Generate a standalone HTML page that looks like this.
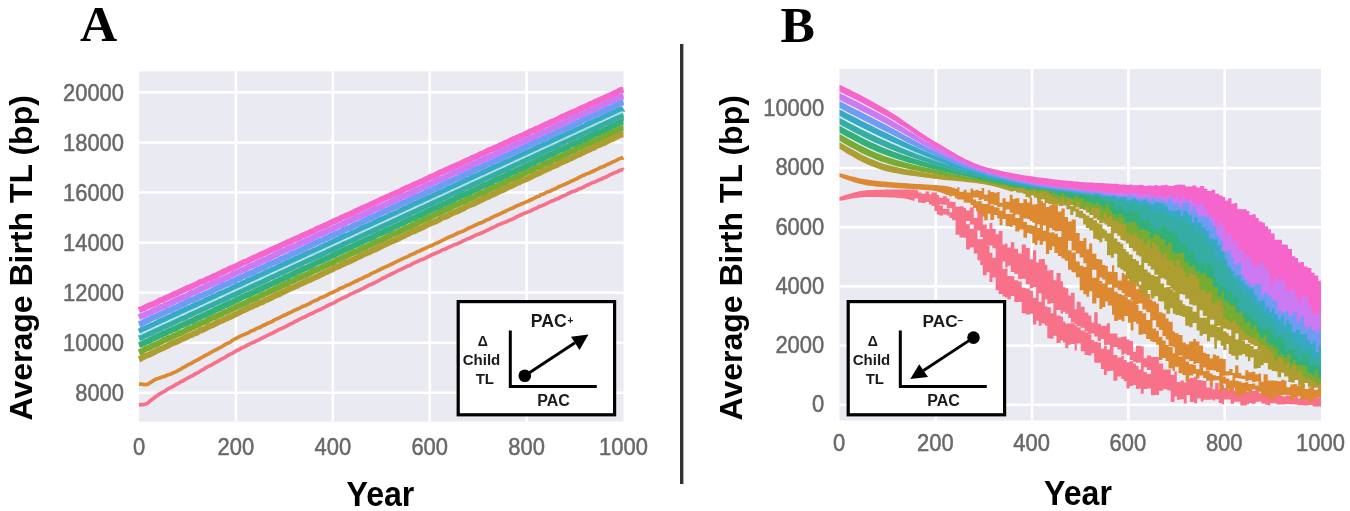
<!DOCTYPE html>
<html><head><meta charset="utf-8"><style>
html,body{margin:0;padding:0;background:#fff;}
body{width:1350px;height:511px;overflow:hidden;}
svg{display:block;filter:blur(0.7px);}
.tk{font-family:"Liberation Sans",sans-serif;font-size:23.6px;fill:#686868;stroke:#686868;stroke-width:0.5px;}
.lab{font-family:"Liberation Sans",sans-serif;font-weight:bold;fill:#000;}
.pl{font-family:"Liberation Serif",serif;font-weight:bold;font-size:51.5px;fill:#000;}
.ib{font-family:"Liberation Sans",sans-serif;font-weight:bold;fill:#1a1a1a;}
</style></head><body>
<svg width="1350" height="511" viewBox="0 0 1350 511">
<rect width="1350" height="511" fill="#fff"/>
<text x="80" y="41.2" class="pl">A</text>
<text x="780.5" y="41.6" class="pl">B</text>
<rect x="139.0" y="71.3" width="484.5" height="350.2" fill="#eaeaf2"/>
<g stroke="#fff" stroke-width="2.6"><line x1="139.0" x2="623.5" y1="392.8" y2="392.8"/><line x1="139.0" x2="623.5" y1="342.7" y2="342.7"/><line x1="139.0" x2="623.5" y1="292.6" y2="292.6"/><line x1="139.0" x2="623.5" y1="242.6" y2="242.6"/><line x1="139.0" x2="623.5" y1="192.5" y2="192.5"/><line x1="139.0" x2="623.5" y1="142.5" y2="142.5"/><line x1="139.0" x2="623.5" y1="92.4" y2="92.4"/><line x1="235.9" x2="235.9" y1="71.3" y2="421.5"/><line x1="332.8" x2="332.8" y1="71.3" y2="421.5"/><line x1="429.7" x2="429.7" y1="71.3" y2="421.5"/><line x1="526.6" x2="526.6" y1="71.3" y2="421.5"/></g>
<g><path d="M139.0,404.9 L141.0,404.6 L143.0,404.7 L145.0,404.2 L147.0,403.6 L149.0,401.9 L151.0,400.1 L153.0,398.8 L155.0,397.2 L157.0,396.0 L159.0,394.4 L161.0,393.1 L163.0,392.1 L165.0,391.1 L167.0,389.4 L169.0,388.3 L171.0,387.3 L173.0,386.4 L175.0,385.1 L177.0,383.9 L179.0,383.1 L181.0,381.5 L183.0,380.9 L185.0,379.5 L187.0,378.4 L189.0,377.3 L191.0,376.3 L193.0,375.5 L195.0,374.0 L197.0,373.1 L199.0,372.0 L201.0,370.7 L203.0,369.7 L205.0,368.3 L207.0,367.1 L209.0,366.1 L211.0,365.3 L213.0,364.0 L215.0,362.8 L217.0,361.8 L219.0,360.6 L221.0,359.4 L223.0,358.5 L225.0,357.4 L227.0,356.0 L229.0,355.0 L231.0,353.9 L233.0,352.9 L235.0,351.7 L237.0,350.3 L239.0,349.7 L241.0,348.2 L243.0,347.4 L245.0,346.6 L247.0,345.3 L249.0,344.5 L251.0,343.2 L253.0,342.6 L255.0,341.7 L257.0,340.6 L259.0,339.8 L261.0,338.4 L263.0,337.7 L265.0,336.6 L267.0,335.6 L269.0,334.6 L271.0,333.8 L273.0,332.9 L275.0,331.6 L277.0,330.8 L279.0,329.4 L281.0,328.8 L283.0,327.8 L285.0,327.0 L287.0,325.9 L289.0,324.6 L291.0,323.7 L293.0,322.9 L295.0,321.5 L297.0,320.8 L299.0,319.6 L301.0,318.6 L303.0,317.6 L305.0,317.0 L307.0,315.6 L309.0,314.7 L311.0,313.8 L313.0,313.1 L315.0,311.7 L317.0,310.9 L319.0,310.0 L321.0,309.2 L323.0,308.2 L325.0,307.2 L327.0,305.9 L329.0,305.0 L331.0,303.9 L333.0,303.3 L335.0,302.3 L337.0,300.9 L339.0,299.9 L341.0,298.9 L343.0,298.0 L345.0,297.1 L347.0,296.2 L349.0,295.0 L351.0,293.9 L353.0,293.1 L355.0,292.1 L357.0,291.2 L359.0,290.5 L361.0,289.3 L363.0,288.3 L365.0,287.3 L367.0,286.4 L369.0,285.0 L371.0,284.5 L373.0,283.5 L375.0,282.6 L377.0,281.5 L379.0,280.3 L381.0,279.3 L383.0,278.1 L385.0,277.5 L387.0,276.1 L389.0,275.2 L391.0,274.3 L393.0,273.2 L395.0,272.4 L397.0,271.2 L399.0,270.2 L401.0,269.3 L403.0,268.3 L405.0,267.5 L407.0,266.3 L409.0,265.8 L411.0,264.6 L413.0,263.4 L415.0,262.5 L417.0,261.6 L419.0,260.7 L421.0,259.7 L423.0,259.2 L425.0,258.4 L427.0,257.2 L429.0,256.3 L431.0,255.2 L433.0,254.3 L435.0,253.5 L437.0,252.6 L439.0,252.0 L441.0,250.7 L443.0,249.7 L445.0,249.4 L447.0,248.2 L449.0,247.1 L451.0,246.5 L453.0,245.2 L455.0,244.6 L457.0,244.0 L459.0,243.0 L461.0,242.1 L463.0,240.9 L465.0,240.1 L467.0,239.0 L469.0,238.5 L471.0,237.5 L473.0,236.7 L475.0,235.5 L477.0,234.6 L479.0,234.0 L481.0,233.2 L483.0,232.3 L485.0,231.3 L487.0,230.4 L489.0,229.5 L491.0,228.3 L493.0,227.6 L495.0,226.6 L497.0,225.5 L499.0,224.6 L501.0,223.8 L503.0,222.9 L505.0,222.3 L507.0,221.5 L509.0,220.3 L511.0,219.7 L513.0,218.9 L515.0,217.9 L517.0,216.7 L519.0,215.7 L521.0,214.8 L523.0,213.9 L525.0,213.0 L527.0,212.4 L529.0,211.6 L531.0,210.7 L533.0,209.6 L535.0,208.8 L537.0,208.0 L539.0,206.6 L541.0,206.1 L543.0,205.3 L545.0,204.4 L547.0,203.4 L549.0,202.4 L551.0,201.3 L553.0,200.8 L555.0,199.6 L557.0,199.0 L559.0,198.2 L561.0,196.9 L563.0,196.0 L565.0,195.5 L567.0,194.4 L569.0,193.2 L571.0,192.3 L573.0,191.4 L575.0,191.0 L577.0,190.0 L579.0,188.7 L581.0,188.2 L583.0,187.4 L585.0,186.3 L587.0,185.2 L589.0,184.5 L591.0,183.3 L593.0,182.3 L595.0,182.0 L597.0,180.9 L599.0,179.9 L601.0,179.3 L603.0,178.1 L605.0,177.5 L607.0,176.5 L609.0,175.3 L611.0,174.4 L613.0,173.5 L615.0,172.6 L617.0,171.9 L619.0,170.8 L621.0,170.0 L623.0,169.4 L623.5,169.8" fill="none" stroke="#f77189" stroke-width="3.70" stroke-linejoin="round"/><path d="M139.0,384.0 L141.0,384.2 L143.0,384.4 L145.0,384.6 L147.0,384.5 L149.0,383.6 L151.0,382.1 L153.0,380.9 L155.0,379.7 L157.0,378.7 L159.0,378.3 L161.0,377.4 L163.0,376.6 L165.0,376.4 L167.0,375.2 L169.0,374.6 L171.0,373.9 L173.0,373.0 L175.0,372.1 L177.0,371.1 L179.0,370.0 L181.0,369.1 L183.0,367.6 L185.0,366.7 L187.0,365.4 L189.0,364.4 L191.0,363.6 L193.0,362.3 L195.0,361.2 L197.0,360.2 L199.0,359.2 L201.0,357.8 L203.0,356.8 L205.0,355.7 L207.0,354.6 L209.0,353.6 L211.0,352.3 L213.0,351.3 L215.0,350.2 L217.0,349.3 L219.0,348.1 L221.0,347.1 L223.0,346.0 L225.0,344.5 L227.0,343.6 L229.0,342.7 L231.0,341.6 L233.0,340.0 L235.0,338.9 L237.0,338.0 L239.0,336.8 L241.0,335.9 L243.0,334.9 L245.0,334.3 L247.0,333.4 L249.0,332.5 L251.0,331.1 L253.0,330.5 L255.0,329.5 L257.0,328.2 L259.0,327.7 L261.0,326.8 L263.0,325.4 L265.0,324.9 L267.0,323.6 L269.0,322.7 L271.0,322.0 L273.0,321.0 L275.0,319.6 L277.0,318.8 L279.0,317.9 L281.0,316.9 L283.0,315.8 L285.0,315.0 L287.0,314.2 L289.0,312.9 L291.0,312.2 L293.0,311.2 L295.0,310.0 L297.0,309.2 L299.0,308.5 L301.0,307.4 L303.0,306.2 L305.0,305.8 L307.0,304.7 L309.0,303.9 L311.0,302.4 L313.0,301.6 L315.0,300.5 L317.0,300.0 L319.0,298.7 L321.0,297.7 L323.0,296.9 L325.0,296.2 L327.0,295.2 L329.0,293.9 L331.0,292.9 L333.0,292.4 L335.0,291.2 L337.0,290.4 L339.0,289.0 L341.0,288.1 L343.0,287.5 L345.0,286.4 L347.0,285.2 L349.0,284.8 L351.0,283.6 L353.0,282.8 L355.0,281.4 L357.0,280.9 L359.0,279.5 L361.0,279.0 L363.0,277.8 L365.0,276.8 L367.0,275.9 L369.0,275.2 L371.0,273.9 L373.0,272.8 L375.0,272.1 L377.0,271.0 L379.0,270.0 L381.0,269.0 L383.0,268.0 L385.0,267.1 L387.0,266.3 L389.0,265.3 L391.0,264.6 L393.0,263.4 L395.0,262.5 L397.0,261.4 L399.0,260.5 L401.0,259.4 L403.0,258.6 L405.0,257.5 L407.0,257.0 L409.0,255.9 L411.0,254.7 L413.0,253.9 L415.0,253.3 L417.0,251.8 L419.0,251.4 L421.0,250.2 L423.0,249.3 L425.0,248.6 L427.0,247.4 L429.0,246.6 L431.0,245.8 L433.0,245.0 L435.0,243.7 L437.0,243.1 L439.0,242.1 L441.0,241.1 L443.0,240.1 L445.0,239.1 L447.0,238.0 L449.0,237.1 L451.0,236.2 L453.0,235.7 L455.0,234.5 L457.0,233.5 L459.0,232.5 L461.0,232.0 L463.0,231.1 L465.0,230.1 L467.0,229.0 L469.0,228.0 L471.0,227.1 L473.0,226.3 L475.0,225.2 L477.0,224.5 L479.0,223.4 L481.0,222.9 L483.0,222.0 L485.0,220.8 L487.0,219.7 L489.0,219.2 L491.0,217.9 L493.0,217.0 L495.0,215.9 L497.0,215.2 L499.0,214.4 L501.0,213.4 L503.0,212.3 L505.0,211.6 L507.0,210.4 L509.0,209.6 L511.0,208.6 L513.0,207.9 L515.0,206.7 L517.0,205.8 L519.0,205.1 L521.0,204.1 L523.0,203.4 L525.0,202.4 L527.0,201.6 L529.0,200.7 L531.0,199.8 L533.0,199.0 L535.0,197.7 L537.0,196.8 L539.0,196.3 L541.0,194.8 L543.0,194.3 L545.0,193.3 L547.0,192.0 L549.0,191.6 L551.0,190.7 L553.0,189.6 L555.0,188.8 L557.0,187.9 L559.0,186.6 L561.0,185.9 L563.0,184.9 L565.0,184.2 L567.0,183.3 L569.0,182.4 L571.0,181.3 L573.0,180.6 L575.0,179.5 L577.0,178.6 L579.0,177.4 L581.0,176.4 L583.0,175.5 L585.0,174.7 L587.0,173.7 L589.0,173.2 L591.0,172.1 L593.0,171.2 L595.0,170.3 L597.0,169.4 L599.0,168.4 L601.0,167.2 L603.0,166.7 L605.0,165.8 L607.0,164.7 L609.0,163.8 L611.0,163.0 L613.0,161.7 L615.0,161.2 L617.0,160.0 L619.0,158.9 L621.0,158.1 L623.0,157.9 L623.5,157.6" fill="none" stroke="#dc8932" stroke-width="3.70" stroke-linejoin="round"/><path d="M139.0,359.3 L141.0,358.6 L143.0,357.3 L145.0,356.3 L147.0,355.5 L149.0,354.7 L151.0,353.8 L153.0,352.8 L155.0,351.8 L157.0,350.6 L159.0,349.7 L161.0,348.8 L163.0,348.2 L165.0,347.0 L167.0,346.2 L169.0,344.9 L171.0,344.0 L173.0,343.2 L175.0,342.5 L177.0,341.6 L179.0,340.7 L181.0,339.5 L183.0,338.7 L185.0,337.8 L187.0,336.8 L189.0,335.7 L191.0,335.2 L193.0,333.9 L195.0,333.4 L197.0,332.5 L199.0,331.0 L201.0,330.3 L203.0,329.6 L205.0,328.8 L207.0,327.5 L209.0,326.5 L211.0,325.5 L213.0,325.0 L215.0,323.7 L217.0,322.9 L219.0,321.8 L221.0,321.0 L223.0,320.4 L225.0,319.0 L227.0,318.4 L229.0,317.3 L231.0,316.6 L233.0,315.6 L235.0,314.4 L237.0,313.8 L239.0,312.6 L241.0,311.4 L243.0,310.5 L245.0,309.9 L247.0,308.9 L249.0,307.9 L251.0,306.9 L253.0,306.0 L255.0,305.1 L257.0,304.5 L259.0,303.1 L261.0,302.6 L263.0,301.7 L265.0,300.3 L267.0,299.9 L269.0,298.8 L271.0,298.0 L273.0,296.7 L275.0,295.8 L277.0,294.9 L279.0,294.3 L281.0,293.2 L283.0,292.1 L285.0,291.2 L287.0,290.2 L289.0,289.1 L291.0,288.2 L293.0,287.7 L295.0,286.5 L297.0,285.9 L299.0,284.6 L301.0,283.7 L303.0,282.9 L305.0,281.8 L307.0,280.9 L309.0,280.4 L311.0,279.4 L313.0,278.4 L315.0,277.4 L317.0,276.6 L319.0,275.7 L321.0,274.5 L323.0,273.7 L325.0,272.4 L327.0,271.8 L329.0,270.7 L331.0,270.0 L333.0,269.0 L335.0,267.8 L337.0,266.8 L339.0,266.4 L341.0,265.0 L343.0,264.2 L345.0,263.2 L347.0,262.3 L349.0,261.6 L351.0,260.8 L353.0,259.5 L355.0,258.8 L357.0,257.6 L359.0,256.8 L361.0,255.8 L363.0,254.7 L365.0,253.8 L367.0,252.9 L369.0,252.4 L371.0,251.2 L373.0,250.1 L375.0,249.6 L377.0,248.7 L379.0,247.5 L381.0,246.4 L383.0,245.5 L385.0,244.5 L387.0,243.7 L389.0,242.6 L391.0,241.8 L393.0,240.8 L395.0,240.1 L397.0,239.4 L399.0,238.3 L401.0,237.2 L403.0,236.3 L405.0,235.4 L407.0,234.4 L409.0,233.4 L411.0,232.3 L413.0,231.5 L415.0,231.0 L417.0,229.6 L419.0,228.9 L421.0,228.0 L423.0,227.2 L425.0,225.9 L427.0,225.0 L429.0,224.1 L431.0,223.2 L433.0,222.3 L435.0,221.7 L437.0,220.7 L439.0,219.8 L441.0,218.4 L443.0,217.4 L445.0,216.9 L447.0,216.1 L449.0,214.9 L451.0,214.0 L453.0,212.8 L455.0,212.1 L457.0,211.5 L459.0,210.5 L461.0,209.5 L463.0,208.7 L465.0,207.3 L467.0,206.3 L469.0,205.4 L471.0,204.7 L473.0,203.9 L475.0,203.1 L477.0,202.0 L479.0,201.0 L481.0,200.2 L483.0,199.1 L485.0,198.2 L487.0,197.0 L489.0,196.5 L491.0,195.2 L493.0,194.7 L495.0,193.6 L497.0,192.5 L499.0,191.4 L501.0,190.6 L503.0,189.9 L505.0,189.0 L507.0,187.7 L509.0,186.7 L511.0,186.1 L513.0,185.2 L515.0,184.1 L517.0,183.1 L519.0,182.4 L521.0,181.1 L523.0,180.4 L525.0,179.5 L527.0,178.9 L529.0,177.8 L531.0,177.0 L533.0,175.8 L535.0,174.7 L537.0,173.8 L539.0,173.3 L541.0,172.2 L543.0,171.1 L545.0,170.0 L547.0,169.3 L549.0,168.5 L551.0,167.4 L553.0,166.4 L555.0,165.7 L557.0,164.9 L559.0,163.6 L561.0,162.5 L563.0,161.8 L565.0,160.9 L567.0,160.1 L569.0,158.9 L571.0,158.3 L573.0,157.3 L575.0,156.3 L577.0,155.2 L579.0,154.7 L581.0,153.4 L583.0,152.7 L585.0,151.5 L587.0,150.5 L589.0,149.9 L591.0,148.7 L593.0,148.2 L595.0,147.0 L597.0,145.8 L599.0,144.9 L601.0,144.1 L603.0,143.3 L605.0,142.6 L607.0,141.2 L609.0,140.4 L611.0,139.3 L613.0,138.9 L615.0,137.4 L617.0,136.5 L619.0,135.5 L621.0,134.8 L623.0,134.6 L623.5,134.6" fill="none" stroke="#ae9d31" stroke-width="6.00" stroke-linejoin="round"/><path d="M139.0,352.4 L141.0,351.6 L143.0,350.6 L145.0,349.3 L147.0,348.3 L149.0,347.8 L151.0,346.8 L153.0,345.4 L155.0,344.9 L157.0,343.8 L159.0,342.9 L161.0,341.9 L163.0,340.9 L165.0,339.9 L167.0,339.1 L169.0,338.2 L171.0,337.6 L173.0,336.2 L175.0,335.8 L177.0,334.4 L179.0,333.6 L181.0,332.9 L183.0,332.0 L185.0,330.8 L187.0,329.7 L189.0,329.0 L191.0,328.0 L193.0,327.4 L195.0,326.1 L197.0,325.2 L199.0,324.6 L201.0,323.2 L203.0,322.5 L205.0,321.8 L207.0,320.8 L209.0,319.5 L211.0,318.5 L213.0,317.6 L215.0,317.2 L217.0,315.9 L219.0,315.2 L221.0,314.4 L223.0,313.1 L225.0,312.2 L227.0,311.7 L229.0,310.5 L231.0,309.4 L233.0,308.7 L235.0,307.6 L237.0,306.6 L239.0,305.5 L241.0,305.0 L243.0,304.2 L245.0,303.1 L247.0,302.4 L249.0,300.9 L251.0,300.1 L253.0,299.3 L255.0,298.7 L257.0,297.7 L259.0,296.5 L261.0,295.4 L263.0,294.6 L265.0,293.7 L267.0,293.1 L269.0,291.7 L271.0,291.1 L273.0,290.2 L275.0,289.3 L277.0,288.3 L279.0,287.3 L281.0,286.2 L283.0,285.3 L285.0,284.4 L287.0,283.7 L289.0,282.3 L291.0,281.5 L293.0,280.9 L295.0,279.7 L297.0,278.6 L299.0,277.7 L301.0,277.1 L303.0,276.0 L305.0,275.5 L307.0,274.5 L309.0,273.6 L311.0,272.2 L313.0,271.2 L315.0,270.3 L317.0,269.6 L319.0,268.8 L321.0,267.7 L323.0,266.7 L325.0,265.8 L327.0,265.0 L329.0,264.1 L331.0,263.3 L333.0,262.4 L335.0,261.3 L337.0,260.1 L339.0,259.6 L341.0,258.3 L343.0,257.6 L345.0,256.5 L347.0,255.8 L349.0,254.6 L351.0,253.7 L353.0,252.7 L355.0,251.8 L357.0,251.3 L359.0,250.2 L361.0,249.1 L363.0,248.2 L365.0,247.6 L367.0,246.4 L369.0,245.3 L371.0,244.7 L373.0,243.7 L375.0,243.0 L377.0,241.5 L379.0,240.8 L381.0,240.1 L383.0,239.2 L385.0,238.3 L387.0,236.8 L389.0,236.1 L391.0,235.0 L393.0,234.1 L395.0,233.7 L397.0,232.5 L399.0,231.8 L401.0,230.5 L403.0,229.9 L405.0,228.7 L407.0,227.7 L409.0,227.1 L411.0,226.2 L413.0,224.8 L415.0,224.2 L417.0,223.3 L419.0,222.1 L421.0,221.3 L423.0,220.2 L425.0,219.3 L427.0,218.4 L429.0,217.7 L431.0,216.8 L433.0,215.6 L435.0,214.5 L437.0,213.8 L439.0,213.1 L441.0,211.9 L443.0,211.0 L445.0,210.0 L447.0,209.4 L449.0,208.4 L451.0,207.1 L453.0,206.2 L455.0,205.5 L457.0,204.6 L459.0,203.8 L461.0,202.5 L463.0,201.6 L465.0,201.0 L467.0,199.9 L469.0,198.9 L471.0,198.0 L473.0,197.5 L475.0,196.2 L477.0,195.4 L479.0,194.3 L481.0,193.4 L483.0,192.8 L485.0,191.9 L487.0,190.6 L489.0,189.6 L491.0,189.0 L493.0,187.7 L495.0,186.7 L497.0,186.3 L499.0,185.1 L501.0,184.4 L503.0,183.2 L505.0,182.6 L507.0,181.4 L509.0,180.3 L511.0,179.3 L513.0,178.7 L515.0,177.8 L517.0,177.0 L519.0,175.6 L521.0,175.0 L523.0,173.9 L525.0,173.1 L527.0,171.9 L529.0,171.1 L531.0,170.3 L533.0,169.6 L535.0,168.2 L537.0,167.5 L539.0,166.7 L541.0,165.9 L543.0,164.5 L545.0,163.5 L547.0,163.1 L549.0,162.2 L551.0,161.0 L553.0,159.8 L555.0,159.4 L557.0,158.1 L559.0,157.5 L561.0,156.4 L563.0,155.6 L565.0,154.3 L567.0,153.7 L569.0,152.5 L571.0,151.6 L573.0,151.0 L575.0,150.0 L577.0,148.7 L579.0,147.8 L581.0,147.0 L583.0,146.1 L585.0,145.1 L587.0,144.0 L589.0,143.2 L591.0,142.6 L593.0,141.7 L595.0,140.3 L597.0,139.7 L599.0,138.9 L601.0,137.5 L603.0,137.1 L605.0,135.7 L607.0,135.1 L609.0,134.1 L611.0,133.2 L613.0,132.1 L615.0,131.2 L617.0,130.4 L619.0,129.4 L621.0,128.6 L623.0,128.0 L623.5,128.0" fill="none" stroke="#77ab31" stroke-width="6.00" stroke-linejoin="round"/><path d="M139.0,345.0 L141.0,344.4 L143.0,343.4 L145.0,342.3 L147.0,341.7 L149.0,340.8 L151.0,339.7 L153.0,338.6 L155.0,337.8 L157.0,336.7 L159.0,335.8 L161.0,335.0 L163.0,333.9 L165.0,333.2 L167.0,332.3 L169.0,331.1 L171.0,330.5 L173.0,329.3 L175.0,328.7 L177.0,327.8 L179.0,326.7 L181.0,325.5 L183.0,324.9 L185.0,323.9 L187.0,323.3 L189.0,321.9 L191.0,321.4 L193.0,320.6 L195.0,319.5 L197.0,318.6 L199.0,317.3 L201.0,316.8 L203.0,315.6 L205.0,315.0 L207.0,314.0 L209.0,312.7 L211.0,312.1 L213.0,311.3 L215.0,309.8 L217.0,309.1 L219.0,308.4 L221.0,307.1 L223.0,306.6 L225.0,305.3 L227.0,304.7 L229.0,303.4 L231.0,302.7 L233.0,302.0 L235.0,300.6 L237.0,299.7 L239.0,299.0 L241.0,297.9 L243.0,296.8 L245.0,296.0 L247.0,295.1 L249.0,294.6 L251.0,293.5 L253.0,292.7 L255.0,291.4 L257.0,290.8 L259.0,289.5 L261.0,288.8 L263.0,287.9 L265.0,286.8 L267.0,286.2 L269.0,285.1 L271.0,284.2 L273.0,283.5 L275.0,282.1 L277.0,281.7 L279.0,280.5 L281.0,279.5 L283.0,278.8 L285.0,277.5 L287.0,277.0 L289.0,275.9 L291.0,274.8 L293.0,274.1 L295.0,273.0 L297.0,271.9 L299.0,271.3 L301.0,270.0 L303.0,269.5 L305.0,268.3 L307.0,267.6 L309.0,266.8 L311.0,265.7 L313.0,264.8 L315.0,263.7 L317.0,262.6 L319.0,261.6 L321.0,260.8 L323.0,260.1 L325.0,259.1 L327.0,258.2 L329.0,257.5 L331.0,256.2 L333.0,255.3 L335.0,254.6 L337.0,253.3 L339.0,252.4 L341.0,251.7 L343.0,250.6 L345.0,249.8 L347.0,248.8 L349.0,248.1 L351.0,247.2 L353.0,246.0 L355.0,245.3 L357.0,244.3 L359.0,243.2 L361.0,242.7 L363.0,241.4 L365.0,240.4 L367.0,239.5 L369.0,238.9 L371.0,238.1 L373.0,237.1 L375.0,235.9 L377.0,234.9 L379.0,233.9 L381.0,233.3 L383.0,232.3 L385.0,231.3 L387.0,230.5 L389.0,229.5 L391.0,228.9 L393.0,227.8 L395.0,226.6 L397.0,226.1 L399.0,224.6 L401.0,224.0 L403.0,223.0 L405.0,222.0 L407.0,220.9 L409.0,220.4 L411.0,219.0 L413.0,218.4 L415.0,217.8 L417.0,216.3 L419.0,215.5 L421.0,214.8 L423.0,213.8 L425.0,212.9 L427.0,212.1 L429.0,210.8 L431.0,210.0 L433.0,209.0 L435.0,208.0 L437.0,207.5 L439.0,206.5 L441.0,205.6 L443.0,204.2 L445.0,203.8 L447.0,202.8 L449.0,201.7 L451.0,201.0 L453.0,199.9 L455.0,198.8 L457.0,197.8 L459.0,197.0 L461.0,195.9 L463.0,195.2 L465.0,194.5 L467.0,193.5 L469.0,192.7 L471.0,191.7 L473.0,190.5 L475.0,189.7 L477.0,188.7 L479.0,188.0 L481.0,186.9 L483.0,185.9 L485.0,185.2 L487.0,184.4 L489.0,183.1 L491.0,182.5 L493.0,181.1 L495.0,180.3 L497.0,179.4 L499.0,178.7 L501.0,177.9 L503.0,176.9 L505.0,175.7 L507.0,175.1 L509.0,173.9 L511.0,172.9 L513.0,172.4 L515.0,171.3 L517.0,170.4 L519.0,169.4 L521.0,168.7 L523.0,167.5 L525.0,166.8 L527.0,165.8 L529.0,164.9 L531.0,163.7 L533.0,163.0 L535.0,162.0 L537.0,160.9 L539.0,159.9 L541.0,159.2 L543.0,158.0 L545.0,157.5 L547.0,156.2 L549.0,155.2 L551.0,154.3 L553.0,153.9 L555.0,152.6 L557.0,151.5 L559.0,150.5 L561.0,149.6 L563.0,149.1 L565.0,148.1 L567.0,147.2 L569.0,146.3 L571.0,145.0 L573.0,144.4 L575.0,143.3 L577.0,142.7 L579.0,141.8 L581.0,140.9 L583.0,139.5 L585.0,139.0 L587.0,138.1 L589.0,137.2 L591.0,135.8 L593.0,134.9 L595.0,133.9 L597.0,133.0 L599.0,132.5 L601.0,131.6 L603.0,130.5 L605.0,129.7 L607.0,128.7 L609.0,127.5 L611.0,126.5 L613.0,125.6 L615.0,125.1 L617.0,123.8 L619.0,122.9 L621.0,122.1 L623.0,121.4 L623.5,121.5" fill="none" stroke="#33b07a" stroke-width="6.00" stroke-linejoin="round"/><path d="M139.0,338.2 L141.0,337.5 L143.0,336.4 L145.0,335.4 L147.0,334.9 L149.0,333.7 L151.0,333.0 L153.0,331.9 L155.0,330.6 L157.0,329.9 L159.0,329.0 L161.0,328.3 L163.0,327.1 L165.0,326.4 L167.0,325.4 L169.0,324.3 L171.0,323.7 L173.0,322.3 L175.0,321.9 L177.0,320.5 L179.0,319.5 L181.0,318.7 L183.0,318.1 L185.0,317.3 L187.0,315.8 L189.0,315.2 L191.0,314.3 L193.0,313.5 L195.0,312.2 L197.0,311.5 L199.0,310.5 L201.0,309.9 L203.0,308.6 L205.0,308.1 L207.0,306.8 L209.0,305.8 L211.0,305.2 L213.0,304.1 L215.0,303.0 L217.0,302.4 L219.0,301.1 L221.0,300.6 L223.0,299.6 L225.0,298.8 L227.0,297.7 L229.0,296.6 L231.0,295.8 L233.0,294.8 L235.0,294.2 L237.0,292.8 L239.0,292.3 L241.0,290.9 L243.0,290.1 L245.0,289.2 L247.0,288.7 L249.0,287.5 L251.0,286.5 L253.0,285.9 L255.0,284.6 L257.0,283.8 L259.0,282.9 L261.0,282.1 L263.0,281.2 L265.0,280.2 L267.0,279.1 L269.0,278.2 L271.0,277.1 L273.0,276.6 L275.0,275.6 L277.0,274.7 L279.0,273.4 L281.0,272.7 L283.0,272.0 L285.0,270.9 L287.0,269.7 L289.0,269.0 L291.0,268.3 L293.0,267.0 L295.0,266.1 L297.0,265.2 L299.0,264.5 L301.0,263.7 L303.0,262.4 L305.0,261.4 L307.0,260.6 L309.0,259.7 L311.0,258.9 L313.0,257.7 L315.0,256.9 L317.0,255.9 L319.0,255.5 L321.0,254.4 L323.0,253.1 L325.0,252.7 L327.0,251.2 L329.0,250.5 L331.0,249.9 L333.0,248.9 L335.0,247.9 L337.0,246.8 L339.0,245.8 L341.0,245.1 L343.0,243.9 L345.0,243.0 L347.0,242.2 L349.0,241.0 L351.0,240.3 L353.0,239.7 L355.0,238.7 L357.0,237.6 L359.0,236.8 L361.0,235.8 L363.0,234.7 L365.0,234.0 L367.0,233.0 L369.0,232.2 L371.0,231.4 L373.0,230.2 L375.0,229.4 L377.0,228.6 L379.0,227.4 L381.0,226.4 L383.0,225.8 L385.0,224.9 L387.0,223.9 L389.0,223.0 L391.0,222.1 L393.0,221.1 L395.0,220.2 L397.0,219.1 L399.0,218.1 L401.0,217.4 L403.0,216.2 L405.0,215.4 L407.0,214.7 L409.0,213.8 L411.0,212.8 L413.0,211.6 L415.0,210.8 L417.0,209.9 L419.0,209.1 L421.0,208.0 L423.0,207.3 L425.0,206.5 L427.0,205.1 L429.0,204.5 L431.0,203.6 L433.0,202.5 L435.0,201.6 L437.0,201.0 L439.0,199.5 L441.0,198.9 L443.0,197.7 L445.0,197.2 L447.0,196.3 L449.0,195.2 L451.0,194.0 L453.0,193.4 L455.0,192.4 L457.0,191.6 L459.0,190.5 L461.0,189.7 L463.0,188.9 L465.0,187.8 L467.0,186.8 L469.0,186.2 L471.0,184.8 L473.0,184.2 L475.0,183.1 L477.0,182.4 L479.0,181.1 L481.0,180.7 L483.0,179.4 L485.0,178.3 L487.0,177.5 L489.0,176.6 L491.0,175.5 L493.0,174.8 L495.0,173.9 L497.0,173.1 L499.0,172.0 L501.0,171.0 L503.0,170.1 L505.0,169.4 L507.0,168.6 L509.0,167.5 L511.0,166.4 L513.0,165.8 L515.0,164.6 L517.0,163.6 L519.0,162.6 L521.0,162.1 L523.0,161.2 L525.0,160.2 L527.0,159.1 L529.0,158.3 L531.0,157.1 L533.0,156.7 L535.0,155.4 L537.0,154.6 L539.0,153.8 L541.0,152.9 L543.0,151.7 L545.0,150.7 L547.0,149.9 L549.0,148.8 L551.0,148.3 L553.0,147.1 L555.0,146.4 L557.0,145.2 L559.0,144.3 L561.0,143.3 L563.0,142.5 L565.0,141.4 L567.0,140.4 L569.0,139.9 L571.0,138.7 L573.0,137.8 L575.0,136.9 L577.0,136.0 L579.0,135.1 L581.0,134.3 L583.0,133.4 L585.0,132.3 L587.0,131.7 L589.0,130.7 L591.0,129.3 L593.0,128.9 L595.0,128.0 L597.0,127.0 L599.0,125.7 L601.0,125.2 L603.0,124.1 L605.0,122.8 L607.0,121.9 L609.0,121.6 L611.0,120.5 L613.0,119.3 L615.0,118.3 L617.0,117.4 L619.0,116.5 L621.0,115.9 L623.0,115.2 L623.5,115.1" fill="none" stroke="#36ada4" stroke-width="6.00" stroke-linejoin="round"/><path d="M139.0,331.6 L141.0,330.6 L143.0,329.3 L145.0,328.8 L147.0,327.7 L149.0,326.9 L151.0,325.9 L153.0,325.1 L155.0,324.1 L157.0,323.2 L159.0,321.9 L161.0,321.3 L163.0,320.3 L165.0,319.5 L167.0,318.4 L169.0,317.7 L171.0,316.6 L173.0,315.5 L175.0,314.6 L177.0,313.6 L179.0,312.9 L181.0,311.7 L183.0,311.0 L185.0,309.9 L187.0,309.2 L189.0,308.3 L191.0,307.4 L193.0,306.7 L195.0,305.2 L197.0,304.8 L199.0,303.7 L201.0,302.8 L203.0,301.9 L205.0,301.1 L207.0,299.9 L209.0,299.0 L211.0,298.4 L213.0,297.0 L215.0,296.4 L217.0,295.5 L219.0,294.2 L221.0,293.6 L223.0,292.7 L225.0,292.0 L227.0,290.7 L229.0,290.2 L231.0,289.0 L233.0,288.0 L235.0,287.3 L237.0,285.9 L239.0,285.4 L241.0,284.4 L243.0,283.3 L245.0,282.7 L247.0,281.5 L249.0,280.6 L251.0,279.8 L253.0,279.0 L255.0,277.7 L257.0,276.9 L259.0,276.0 L261.0,275.2 L263.0,274.4 L265.0,273.2 L267.0,272.6 L269.0,271.4 L271.0,270.5 L273.0,269.5 L275.0,268.7 L277.0,268.1 L279.0,266.9 L281.0,266.1 L283.0,264.9 L285.0,264.0 L287.0,263.0 L289.0,262.3 L291.0,261.4 L293.0,260.6 L295.0,259.2 L297.0,258.7 L299.0,257.9 L301.0,256.7 L303.0,255.5 L305.0,254.8 L307.0,253.7 L309.0,252.9 L311.0,252.4 L313.0,251.3 L315.0,250.4 L317.0,249.5 L319.0,248.7 L321.0,247.6 L323.0,246.7 L325.0,245.7 L327.0,244.9 L329.0,243.9 L331.0,243.0 L333.0,241.8 L335.0,241.2 L337.0,240.1 L339.0,239.4 L341.0,238.1 L343.0,237.2 L345.0,236.2 L347.0,235.7 L349.0,234.9 L351.0,233.8 L353.0,232.7 L355.0,232.0 L357.0,231.1 L359.0,230.1 L361.0,228.9 L363.0,228.1 L365.0,227.2 L367.0,226.2 L369.0,225.4 L371.0,224.6 L373.0,223.8 L375.0,222.4 L377.0,221.8 L379.0,220.5 L381.0,219.7 L383.0,219.1 L385.0,218.1 L387.0,217.4 L389.0,216.2 L391.0,215.0 L393.0,214.3 L395.0,213.5 L397.0,212.8 L399.0,211.9 L401.0,210.7 L403.0,209.7 L405.0,208.6 L407.0,208.0 L409.0,206.8 L411.0,205.9 L413.0,204.9 L415.0,203.9 L417.0,203.4 L419.0,202.2 L421.0,201.7 L423.0,200.3 L425.0,199.8 L427.0,198.5 L429.0,197.5 L431.0,197.0 L433.0,195.8 L435.0,195.2 L437.0,193.9 L439.0,192.9 L441.0,192.4 L443.0,191.5 L445.0,190.6 L447.0,189.6 L449.0,188.3 L451.0,187.7 L453.0,186.9 L455.0,185.8 L457.0,185.1 L459.0,183.8 L461.0,183.3 L463.0,182.3 L465.0,180.9 L467.0,180.0 L469.0,179.5 L471.0,178.6 L473.0,177.3 L475.0,176.5 L477.0,175.8 L479.0,174.6 L481.0,174.1 L483.0,172.9 L485.0,171.7 L487.0,171.0 L489.0,170.2 L491.0,169.2 L493.0,168.4 L495.0,167.2 L497.0,166.6 L499.0,165.5 L501.0,164.7 L503.0,163.8 L505.0,162.7 L507.0,161.8 L509.0,161.1 L511.0,160.3 L513.0,159.3 L515.0,158.2 L517.0,157.1 L519.0,156.1 L521.0,155.7 L523.0,154.6 L525.0,153.8 L527.0,152.6 L529.0,151.8 L531.0,151.1 L533.0,150.1 L535.0,149.0 L537.0,147.9 L539.0,147.1 L541.0,146.4 L543.0,145.2 L545.0,144.5 L547.0,143.5 L549.0,142.8 L551.0,141.8 L553.0,140.6 L555.0,139.5 L557.0,138.7 L559.0,137.9 L561.0,137.1 L563.0,136.3 L565.0,135.4 L567.0,134.0 L569.0,133.5 L571.0,132.6 L573.0,131.7 L575.0,130.6 L577.0,129.5 L579.0,128.9 L581.0,128.0 L583.0,127.0 L585.0,126.2 L587.0,124.9 L589.0,123.9 L591.0,123.2 L593.0,122.4 L595.0,121.2 L597.0,120.6 L599.0,119.8 L601.0,118.4 L603.0,117.7 L605.0,116.8 L607.0,115.8 L609.0,114.7 L611.0,113.8 L613.0,113.2 L615.0,112.3 L617.0,111.2 L619.0,110.0 L621.0,109.6 L623.0,109.1 L623.5,108.8" fill="none" stroke="#38a9c5" stroke-width="6.00" stroke-linejoin="round"/><path d="M139.0,324.4 L141.0,323.7 L143.0,322.7 L145.0,321.6 L147.0,320.7 L149.0,319.8 L151.0,318.6 L153.0,317.7 L155.0,316.8 L157.0,316.2 L159.0,315.1 L161.0,314.3 L163.0,313.3 L165.0,312.4 L167.0,311.3 L169.0,310.3 L171.0,309.9 L173.0,308.7 L175.0,307.6 L177.0,307.0 L179.0,306.1 L181.0,304.8 L183.0,304.2 L185.0,303.1 L187.0,302.3 L189.0,301.1 L191.0,300.2 L193.0,299.8 L195.0,298.8 L197.0,297.7 L199.0,296.8 L201.0,295.7 L203.0,295.1 L205.0,294.0 L207.0,293.4 L209.0,292.4 L211.0,291.5 L213.0,290.6 L215.0,289.3 L217.0,288.2 L219.0,287.4 L221.0,286.5 L223.0,285.5 L225.0,284.6 L227.0,284.0 L229.0,283.2 L231.0,282.1 L233.0,281.4 L235.0,280.5 L237.0,279.1 L239.0,278.5 L241.0,277.4 L243.0,276.4 L245.0,275.9 L247.0,274.6 L249.0,273.9 L251.0,273.0 L253.0,272.3 L255.0,271.2 L257.0,270.1 L259.0,269.2 L261.0,268.1 L263.0,267.7 L265.0,266.8 L267.0,265.4 L269.0,264.4 L271.0,263.6 L273.0,262.7 L275.0,262.1 L277.0,261.2 L279.0,260.3 L281.0,258.9 L283.0,258.4 L285.0,257.4 L287.0,256.5 L289.0,255.8 L291.0,254.3 L293.0,253.4 L295.0,252.9 L297.0,252.1 L299.0,251.0 L301.0,249.8 L303.0,249.1 L305.0,248.3 L307.0,247.0 L309.0,246.2 L311.0,245.2 L313.0,244.2 L315.0,243.5 L317.0,242.4 L319.0,241.5 L321.0,240.6 L323.0,240.0 L325.0,238.6 L327.0,238.1 L329.0,236.9 L331.0,235.9 L333.0,235.5 L335.0,234.2 L337.0,233.7 L339.0,232.7 L341.0,231.8 L343.0,230.4 L345.0,229.7 L347.0,228.6 L349.0,228.2 L351.0,227.2 L353.0,226.1 L355.0,225.1 L357.0,224.1 L359.0,223.5 L361.0,222.4 L363.0,221.6 L365.0,220.3 L367.0,219.5 L369.0,218.5 L371.0,217.9 L373.0,216.9 L375.0,215.8 L377.0,215.3 L379.0,214.0 L381.0,213.2 L383.0,212.1 L385.0,211.2 L387.0,210.7 L389.0,209.4 L391.0,208.4 L393.0,207.7 L395.0,206.7 L397.0,206.1 L399.0,204.7 L401.0,204.3 L403.0,202.8 L405.0,202.4 L407.0,201.4 L409.0,200.2 L411.0,199.4 L413.0,198.4 L415.0,197.5 L417.0,196.5 L419.0,195.7 L421.0,195.1 L423.0,194.2 L425.0,193.3 L427.0,191.8 L429.0,191.0 L431.0,190.5 L433.0,189.1 L435.0,188.6 L437.0,187.4 L439.0,186.9 L441.0,185.4 L443.0,184.9 L445.0,183.7 L447.0,182.7 L449.0,181.7 L451.0,181.3 L453.0,180.2 L455.0,179.0 L457.0,178.3 L459.0,177.6 L461.0,176.3 L463.0,175.6 L465.0,174.4 L467.0,173.5 L469.0,173.0 L471.0,172.0 L473.0,170.8 L475.0,169.8 L477.0,168.9 L479.0,168.3 L481.0,167.3 L483.0,166.2 L485.0,165.3 L487.0,164.6 L489.0,163.7 L491.0,162.9 L493.0,161.8 L495.0,160.7 L497.0,159.7 L499.0,159.2 L501.0,158.1 L503.0,157.3 L505.0,156.0 L507.0,155.5 L509.0,154.3 L511.0,153.7 L513.0,152.8 L515.0,151.7 L517.0,150.5 L519.0,150.1 L521.0,148.9 L523.0,148.2 L525.0,146.9 L527.0,146.0 L529.0,145.4 L531.0,144.3 L533.0,143.2 L535.0,142.4 L537.0,141.6 L539.0,140.4 L541.0,139.8 L543.0,138.8 L545.0,137.9 L547.0,136.8 L549.0,136.2 L551.0,135.3 L553.0,134.4 L555.0,133.2 L557.0,132.5 L559.0,131.4 L561.0,130.7 L563.0,129.4 L565.0,128.9 L567.0,128.1 L569.0,126.9 L571.0,126.0 L573.0,125.1 L575.0,124.1 L577.0,122.9 L579.0,122.6 L581.0,121.2 L583.0,120.3 L585.0,119.3 L587.0,118.5 L589.0,117.9 L591.0,116.5 L593.0,115.6 L595.0,115.1 L597.0,113.8 L599.0,112.8 L601.0,112.2 L603.0,111.3 L605.0,110.4 L607.0,109.6 L609.0,108.3 L611.0,107.8 L613.0,106.8 L615.0,105.5 L617.0,104.6 L619.0,103.9 L621.0,103.0 L623.0,102.4 L623.5,102.3" fill="none" stroke="#6e9bf4" stroke-width="6.00" stroke-linejoin="round"/><path d="M139.0,317.3 L141.0,316.2 L143.0,315.6 L145.0,314.8 L147.0,313.5 L149.0,312.8 L151.0,312.0 L153.0,310.8 L155.0,310.2 L157.0,309.4 L159.0,308.1 L161.0,307.2 L163.0,306.6 L165.0,305.5 L167.0,304.5 L169.0,303.9 L171.0,302.9 L173.0,301.7 L175.0,300.7 L177.0,299.9 L179.0,299.0 L181.0,298.4 L183.0,297.4 L185.0,296.6 L187.0,295.6 L189.0,294.7 L191.0,293.3 L193.0,292.7 L195.0,292.0 L197.0,291.1 L199.0,289.7 L201.0,288.9 L203.0,288.1 L205.0,287.1 L207.0,286.2 L209.0,285.1 L211.0,284.4 L213.0,283.5 L215.0,282.3 L217.0,281.4 L219.0,281.0 L221.0,280.0 L223.0,279.2 L225.0,278.1 L227.0,277.3 L229.0,276.4 L231.0,275.5 L233.0,274.0 L235.0,273.5 L237.0,272.3 L239.0,271.7 L241.0,270.5 L243.0,269.8 L245.0,269.1 L247.0,268.0 L249.0,266.8 L251.0,266.1 L253.0,265.1 L255.0,264.5 L257.0,263.2 L259.0,262.3 L261.0,261.6 L263.0,260.4 L265.0,259.7 L267.0,259.0 L269.0,257.8 L271.0,256.8 L273.0,256.0 L275.0,255.1 L277.0,254.0 L279.0,253.0 L281.0,252.1 L283.0,251.3 L285.0,250.5 L287.0,249.5 L289.0,248.5 L291.0,247.5 L293.0,246.9 L295.0,246.1 L297.0,245.1 L299.0,244.1 L301.0,243.3 L303.0,242.1 L305.0,241.5 L307.0,240.4 L309.0,239.5 L311.0,238.7 L313.0,237.7 L315.0,236.7 L317.0,235.7 L319.0,234.8 L321.0,234.0 L323.0,233.0 L325.0,232.2 L327.0,231.0 L329.0,230.3 L331.0,229.7 L333.0,228.4 L335.0,227.6 L337.0,226.7 L339.0,225.6 L341.0,225.2 L343.0,223.8 L345.0,223.2 L347.0,221.9 L349.0,220.9 L351.0,220.5 L353.0,219.3 L355.0,218.2 L357.0,217.5 L359.0,216.6 L361.0,215.8 L363.0,214.6 L365.0,213.7 L367.0,213.2 L369.0,212.2 L371.0,210.9 L373.0,210.1 L375.0,209.2 L377.0,208.5 L379.0,207.5 L381.0,206.8 L383.0,205.8 L385.0,204.7 L387.0,203.9 L389.0,203.0 L391.0,202.1 L393.0,201.0 L395.0,200.3 L397.0,199.3 L399.0,198.5 L401.0,197.2 L403.0,196.7 L405.0,195.3 L407.0,194.8 L409.0,193.8 L411.0,192.8 L413.0,192.2 L415.0,191.0 L417.0,190.0 L419.0,189.3 L421.0,188.4 L423.0,187.4 L425.0,186.3 L427.0,185.4 L429.0,184.5 L431.0,183.8 L433.0,182.6 L435.0,181.7 L437.0,180.9 L439.0,179.9 L441.0,179.0 L443.0,178.3 L445.0,177.4 L447.0,176.3 L449.0,175.4 L451.0,174.3 L453.0,173.5 L455.0,172.4 L457.0,171.8 L459.0,170.9 L461.0,169.7 L463.0,169.2 L465.0,168.0 L467.0,167.4 L469.0,166.4 L471.0,165.6 L473.0,164.2 L475.0,163.4 L477.0,162.8 L479.0,161.4 L481.0,160.5 L483.0,159.9 L485.0,158.9 L487.0,158.2 L489.0,157.2 L491.0,156.2 L493.0,155.5 L495.0,154.3 L497.0,153.4 L499.0,152.6 L501.0,151.5 L503.0,150.6 L505.0,149.8 L507.0,148.7 L509.0,148.2 L511.0,147.1 L513.0,146.1 L515.0,144.9 L517.0,144.2 L519.0,143.3 L521.0,142.5 L523.0,141.6 L525.0,140.8 L527.0,140.0 L529.0,138.8 L531.0,137.8 L533.0,137.0 L535.0,136.3 L537.0,135.0 L539.0,134.2 L541.0,133.5 L543.0,132.2 L545.0,131.3 L547.0,130.8 L549.0,129.8 L551.0,128.7 L553.0,127.5 L555.0,127.1 L557.0,126.1 L559.0,125.2 L561.0,124.4 L563.0,123.4 L565.0,122.2 L567.0,121.2 L569.0,120.3 L571.0,119.5 L573.0,118.6 L575.0,117.5 L577.0,116.6 L579.0,115.9 L581.0,115.0 L583.0,113.9 L585.0,113.4 L587.0,112.3 L589.0,111.0 L591.0,110.3 L593.0,109.6 L595.0,108.4 L597.0,107.7 L599.0,106.4 L601.0,105.7 L603.0,105.1 L605.0,104.0 L607.0,103.1 L609.0,101.9 L611.0,101.2 L613.0,100.3 L615.0,99.2 L617.0,98.5 L619.0,97.6 L621.0,96.9 L623.0,96.2 L623.5,96.1" fill="none" stroke="#cc7af4" stroke-width="6.00" stroke-linejoin="round"/><path d="M139.0,310.2 L141.0,309.3 L143.0,308.7 L145.0,307.4 L147.0,306.5 L149.0,305.6 L151.0,304.9 L153.0,304.2 L155.0,303.2 L157.0,302.4 L159.0,301.0 L161.0,300.1 L163.0,299.6 L165.0,298.4 L167.0,297.7 L169.0,296.6 L171.0,295.6 L173.0,294.7 L175.0,293.7 L177.0,293.3 L179.0,292.2 L181.0,291.1 L183.0,290.3 L185.0,289.3 L187.0,288.2 L189.0,287.8 L191.0,286.7 L193.0,286.0 L195.0,284.8 L197.0,284.0 L199.0,282.8 L201.0,281.8 L203.0,281.4 L205.0,280.5 L207.0,279.2 L209.0,278.7 L211.0,277.7 L213.0,276.5 L215.0,275.8 L217.0,275.1 L219.0,273.9 L221.0,273.2 L223.0,271.9 L225.0,271.1 L227.0,270.3 L229.0,269.1 L231.0,268.3 L233.0,267.7 L235.0,266.5 L237.0,265.8 L239.0,264.6 L241.0,263.6 L243.0,262.8 L245.0,261.8 L247.0,261.4 L249.0,260.0 L251.0,259.3 L253.0,258.1 L255.0,257.4 L257.0,256.4 L259.0,255.5 L261.0,254.4 L263.0,253.5 L265.0,253.0 L267.0,251.8 L269.0,250.9 L271.0,249.9 L273.0,249.1 L275.0,248.1 L277.0,247.1 L279.0,246.6 L281.0,245.4 L283.0,244.4 L285.0,243.8 L287.0,242.6 L289.0,241.8 L291.0,241.2 L293.0,239.8 L295.0,239.1 L297.0,238.4 L299.0,237.5 L301.0,236.2 L303.0,235.4 L305.0,234.7 L307.0,233.6 L309.0,233.0 L311.0,231.7 L313.0,231.2 L315.0,230.0 L317.0,228.9 L319.0,228.2 L321.0,227.1 L323.0,226.5 L325.0,225.3 L327.0,224.8 L329.0,223.7 L331.0,222.6 L333.0,221.6 L335.0,220.9 L337.0,219.8 L339.0,219.3 L341.0,217.9 L343.0,217.2 L345.0,216.3 L347.0,215.3 L349.0,214.7 L351.0,213.5 L353.0,212.8 L355.0,211.8 L357.0,210.7 L359.0,209.9 L361.0,208.8 L363.0,207.9 L365.0,207.4 L367.0,206.2 L369.0,205.5 L371.0,204.2 L373.0,203.6 L375.0,202.5 L377.0,201.7 L379.0,200.7 L381.0,199.6 L383.0,198.8 L385.0,197.9 L387.0,196.9 L389.0,196.3 L391.0,195.2 L393.0,194.3 L395.0,193.7 L397.0,192.7 L399.0,191.9 L401.0,191.0 L403.0,189.6 L405.0,188.8 L407.0,187.7 L409.0,187.2 L411.0,186.3 L413.0,185.2 L415.0,184.3 L417.0,183.5 L419.0,182.6 L421.0,181.5 L423.0,180.9 L425.0,179.7 L427.0,178.9 L429.0,177.8 L431.0,176.8 L433.0,176.4 L435.0,175.3 L437.0,174.4 L439.0,173.1 L441.0,172.2 L443.0,171.4 L445.0,170.5 L447.0,169.6 L449.0,168.7 L451.0,167.6 L453.0,166.9 L455.0,166.2 L457.0,165.0 L459.0,164.5 L461.0,163.4 L463.0,162.5 L465.0,161.4 L467.0,160.6 L469.0,159.8 L471.0,158.7 L473.0,157.6 L475.0,157.1 L477.0,156.2 L479.0,155.0 L481.0,153.9 L483.0,153.5 L485.0,152.4 L487.0,151.2 L489.0,150.4 L491.0,149.4 L493.0,148.9 L495.0,147.6 L497.0,147.1 L499.0,146.1 L501.0,144.8 L503.0,144.3 L505.0,143.2 L507.0,142.5 L509.0,141.6 L511.0,140.4 L513.0,139.3 L515.0,138.9 L517.0,137.7 L519.0,137.1 L521.0,136.0 L523.0,135.2 L525.0,134.3 L527.0,133.3 L529.0,132.2 L531.0,131.1 L533.0,130.6 L535.0,129.5 L537.0,128.6 L539.0,128.0 L541.0,126.6 L543.0,126.0 L545.0,124.7 L547.0,124.2 L549.0,123.3 L551.0,122.1 L553.0,121.3 L555.0,120.7 L557.0,119.6 L559.0,118.6 L561.0,117.5 L563.0,116.5 L565.0,115.7 L567.0,114.9 L569.0,113.8 L571.0,113.0 L573.0,112.0 L575.0,111.4 L577.0,110.5 L579.0,109.3 L581.0,108.4 L583.0,107.6 L585.0,106.7 L587.0,106.0 L589.0,104.8 L591.0,103.8 L593.0,103.3 L595.0,101.9 L597.0,101.3 L599.0,100.2 L601.0,99.6 L603.0,98.5 L605.0,97.7 L607.0,96.5 L609.0,95.8 L611.0,94.9 L613.0,93.9 L615.0,93.2 L617.0,92.3 L619.0,90.9 L621.0,90.1 L623.0,89.7 L623.5,89.6" fill="none" stroke="#f565cc" stroke-width="6.00" stroke-linejoin="round"/><path d="M139.0,334.8 L141.0,333.9 L143.0,333.0 L145.0,332.0 L147.0,331.1 L149.0,330.2 L151.0,329.3 L153.0,328.3 L155.0,327.4 L157.0,326.5 L159.0,325.6 L161.0,324.7 L163.0,323.7 L165.0,322.8 L167.0,321.9 L169.0,321.0 L171.0,320.0 L173.0,319.1 L175.0,318.2 L177.0,317.3 L179.0,316.4 L181.0,315.4 L183.0,314.5 L185.0,313.6 L187.0,312.7 L189.0,311.7 L191.0,310.8 L193.0,309.9 L195.0,309.0 L197.0,308.1 L199.0,307.1 L201.0,306.2 L203.0,305.3 L205.0,304.4 L207.0,303.4 L209.0,302.5 L211.0,301.6 L213.0,300.7 L215.0,299.8 L217.0,298.8 L219.0,297.9 L221.0,297.0 L223.0,296.1 L225.0,295.1 L227.0,294.2 L229.0,293.3 L231.0,292.4 L233.0,291.5 L235.0,290.5 L237.0,289.6 L239.0,288.7 L241.0,287.8 L243.0,286.8 L245.0,285.9 L247.0,285.0 L249.0,284.1 L251.0,283.2 L253.0,282.2 L255.0,281.3 L257.0,280.4 L259.0,279.5 L261.0,278.5 L263.0,277.6 L265.0,276.7 L267.0,275.8 L269.0,274.9 L271.0,273.9 L273.0,273.0 L275.0,272.1 L277.0,271.2 L279.0,270.2 L281.0,269.3 L283.0,268.4 L285.0,267.5 L287.0,266.6 L289.0,265.6 L291.0,264.7 L293.0,263.8 L295.0,262.9 L297.0,261.9 L299.0,261.0 L301.0,260.1 L303.0,259.2 L305.0,258.3 L307.0,257.3 L309.0,256.4 L311.0,255.5 L313.0,254.6 L315.0,253.7 L317.0,252.7 L319.0,251.8 L321.0,250.9 L323.0,250.0 L325.0,249.0 L327.0,248.1 L329.0,247.2 L331.0,246.3 L333.0,245.4 L335.0,244.4 L337.0,243.5 L339.0,242.6 L341.0,241.7 L343.0,240.7 L345.0,239.8 L347.0,238.9 L349.0,238.0 L351.0,237.1 L353.0,236.1 L355.0,235.2 L357.0,234.3 L359.0,233.4 L361.0,232.4 L363.0,231.5 L365.0,230.6 L367.0,229.7 L369.0,228.8 L371.0,227.8 L373.0,226.9 L375.0,226.0 L377.0,225.1 L379.0,224.1 L381.0,223.2 L383.0,222.3 L385.0,221.4 L387.0,220.5 L389.0,219.5 L391.0,218.6 L393.0,217.7 L395.0,216.8 L397.0,215.8 L399.0,214.9 L401.0,214.0 L403.0,213.1 L405.0,212.2 L407.0,211.2 L409.0,210.3 L411.0,209.4 L413.0,208.5 L415.0,207.5 L417.0,206.6 L419.0,205.7 L421.0,204.8 L423.0,203.9 L425.0,202.9 L427.0,202.0 L429.0,201.1 L431.0,200.2 L433.0,199.2 L435.0,198.3 L437.0,197.4 L439.0,196.5 L441.0,195.6 L443.0,194.6 L445.0,193.7 L447.0,192.8 L449.0,191.9 L451.0,190.9 L453.0,190.0 L455.0,189.1 L457.0,188.2 L459.0,187.3 L461.0,186.3 L463.0,185.4 L465.0,184.5 L467.0,183.6 L469.0,182.6 L471.0,181.7 L473.0,180.8 L475.0,179.9 L477.0,179.0 L479.0,178.0 L481.0,177.1 L483.0,176.2 L485.0,175.3 L487.0,174.3 L489.0,173.4 L491.0,172.5 L493.0,171.6 L495.0,170.7 L497.0,169.7 L499.0,168.8 L501.0,167.9 L503.0,167.0 L505.0,166.0 L507.0,165.1 L509.0,164.2 L511.0,163.3 L513.0,162.4 L515.0,161.4 L517.0,160.5 L519.0,159.6 L521.0,158.7 L523.0,157.7 L525.0,156.8 L527.0,155.9 L529.0,155.0 L531.0,154.1 L533.0,153.1 L535.0,152.2 L537.0,151.3 L539.0,150.4 L541.0,149.4 L543.0,148.5 L545.0,147.6 L547.0,146.7 L549.0,145.8 L551.0,144.8 L553.0,143.9 L555.0,143.0 L557.0,142.1 L559.0,141.1 L561.0,140.2 L563.0,139.3 L565.0,138.4 L567.0,137.5 L569.0,136.5 L571.0,135.6 L573.0,134.7 L575.0,133.8 L577.0,132.8 L579.0,131.9 L581.0,131.0 L583.0,130.1 L585.0,129.2 L587.0,128.2 L589.0,127.3 L591.0,126.4 L593.0,125.5 L595.0,124.5 L597.0,123.6 L599.0,122.7 L601.0,121.8 L603.0,120.9 L605.0,119.9 L607.0,119.0 L609.0,118.1 L611.0,117.2 L613.0,116.2 L615.0,115.3 L617.0,114.4 L619.0,113.5 L621.0,112.6 L623.0,112.1 L623.5,112.1" fill="none" stroke="#d6f3f7" stroke-width="2.0" opacity="0.7"/></g>
<rect x="839.5" y="69.0" width="481.5" height="351.5" fill="#eaeaf2"/>
<g stroke="#fff" stroke-width="2.6"><line x1="839.5" x2="1321.0" y1="404.8" y2="404.8"/><line x1="839.5" x2="1321.0" y1="345.6" y2="345.6"/><line x1="839.5" x2="1321.0" y1="286.4" y2="286.4"/><line x1="839.5" x2="1321.0" y1="227.2" y2="227.2"/><line x1="839.5" x2="1321.0" y1="168.0" y2="168.0"/><line x1="839.5" x2="1321.0" y1="108.8" y2="108.8"/><line x1="935.8" x2="935.8" y1="69.0" y2="420.5"/><line x1="1032.1" x2="1032.1" y1="69.0" y2="420.5"/><line x1="1128.4" x2="1128.4" y1="69.0" y2="420.5"/><line x1="1224.7" x2="1224.7" y1="69.0" y2="420.5"/></g>
<g><path d="M839.5,197.0 L841.8,196.2 L841.8,196.2 L844.6,195.3 L844.6,195.3 L847.2,194.5 L847.2,194.5 L850.8,193.4 L850.8,193.4 L853.9,192.6 L853.9,192.6 L856.3,192.0 L856.3,192.0 L859.2,191.3 L859.2,191.3 L862.3,190.8 L862.3,190.8 L865.2,190.4 L865.2,190.4 L867.8,190.1 L867.8,190.1 L870.1,190.0 L870.1,190.0 L872.3,189.9 L872.3,189.9 L876.5,189.8 L876.5,189.8 L880.2,189.7 L880.2,189.7 L882.6,189.7 L882.6,189.7 L886.2,189.6 L886.2,189.6 L890.4,189.6 L890.4,189.6 L893.7,189.5 L893.7,189.5 L896.1,189.5 L896.1,189.5 L899.3,189.5 L899.3,189.5 L902.4,189.5 L902.4,189.5 L904.9,189.5 L904.9,189.5 L908.2,189.6 L908.2,189.6 L910.4,189.7 L910.4,189.7 L914.5,189.8 L914.5,190.2 L918.0,190.2 L918.0,192.6 L921.4,192.6 L921.4,193.7 L925.5,193.7 L925.5,191.6 L929.0,191.6 L929.0,194.3 L931.7,194.3 L931.7,192.5 L934.4,192.5 L934.4,192.5 L936.9,192.5 L936.9,195.1 L939.1,195.1 L939.1,197.7 L942.9,197.7 L942.9,196.2 L946.8,196.2 L946.8,198.4 L949.5,198.4 L949.5,201.7 L952.1,201.7 L952.1,202.0 L955.6,202.0 L955.6,206.7 L959.5,206.7 L959.5,206.2 L963.5,206.2 L963.5,207.8 L966.1,207.8 L966.1,210.5 L969.8,210.5 L969.8,207.4 L973.7,207.4 L973.7,218.0 L977.4,218.0 L977.4,209.2 L980.2,209.2 L980.2,212.4 L982.8,212.4 L982.8,224.5 L986.7,224.5 L986.7,229.1 L989.5,229.1 L989.5,223.1 L992.4,223.1 L992.4,229.0 L995.7,229.0 L995.7,234.3 L998.7,234.3 L998.7,230.9 L1002.5,230.9 L1002.5,244.5 L1005.2,244.5 L1005.2,243.6 L1007.5,243.6 L1007.5,247.4 L1010.8,247.4 L1010.8,242.2 L1014.3,242.2 L1014.3,248.8 L1018.1,248.8 L1018.1,253.6 L1021.7,253.6 L1021.7,244.5 L1025.8,244.5 L1025.8,247.9 L1029.8,247.9 L1029.8,259.2 L1033.0,259.2 L1033.0,250.3 L1036.2,250.3 L1036.2,262.6 L1038.7,262.6 L1038.7,259.3 L1041.5,259.3 L1041.5,259.0 L1044.9,259.0 L1044.9,264.7 L1047.3,264.7 L1047.3,270.5 L1050.8,270.5 L1050.8,270.0 L1053.4,270.0 L1053.4,280.3 L1056.5,280.3 L1056.5,273.1 L1060.6,273.1 L1060.6,281.3 L1063.0,281.3 L1063.0,287.3 L1065.3,287.3 L1065.3,288.3 L1068.3,288.3 L1068.3,295.5 L1070.9,295.5 L1070.9,292.7 L1074.6,292.7 L1074.6,309.2 L1076.8,309.2 L1076.8,301.7 L1080.7,301.7 L1080.7,306.7 L1084.6,306.7 L1084.6,312.5 L1088.3,312.5 L1088.3,315.6 L1091.4,315.6 L1091.4,322.4 L1094.2,322.4 L1094.2,312.3 L1097.7,312.3 L1097.7,323.8 L1100.9,323.8 L1100.9,325.7 L1103.9,325.7 L1103.9,325.8 L1106.8,325.8 L1106.8,323.3 L1109.9,323.3 L1109.9,333.4 L1113.4,333.4 L1113.4,333.6 L1117.3,333.6 L1117.3,337.5 L1121.3,337.5 L1121.3,336.7 L1123.8,336.7 L1123.8,336.6 L1126.6,336.6 L1126.6,339.5 L1129.7,339.5 L1129.7,341.0 L1133.0,341.0 L1133.0,351.8 L1135.9,351.8 L1135.9,345.8 L1138.5,345.8 L1138.5,345.8 L1140.9,345.8 L1140.9,346.5 L1143.7,346.5 L1143.7,358.3 L1146.9,358.3 L1146.9,355.6 L1151.0,355.6 L1151.0,357.0 L1155.0,357.0 L1155.0,357.1 L1158.9,357.1 L1158.9,363.4 L1163.1,363.4 L1163.1,369.6 L1167.2,369.6 L1167.2,369.5 L1170.7,369.5 L1170.7,374.7 L1174.5,374.7 L1174.5,371.2 L1176.8,371.2 L1176.8,382.1 L1180.4,382.1 L1180.4,380.6 L1183.8,380.6 L1183.8,382.4 L1186.6,382.4 L1186.6,379.2 L1189.9,379.2 L1189.9,378.1 L1194.0,378.1 L1194.0,376.7 L1197.2,376.7 L1197.2,380.1 L1200.7,380.1 L1200.7,380.5 L1203.5,380.5 L1203.5,381.1 L1206.4,381.1 L1206.4,387.5 L1210.3,387.5 L1210.3,382.7 L1212.6,382.7 L1212.6,389.3 L1215.2,389.3 L1215.2,383.0 L1218.7,383.0 L1218.7,389.6 L1221.8,389.6 L1221.8,384.8 L1224.2,384.8 L1224.2,388.1 L1227.7,388.1 L1227.7,389.4 L1230.6,389.4 L1230.6,387.1 L1234.0,387.1 L1234.0,391.0 L1237.0,391.0 L1237.0,389.4 L1240.3,389.4 L1240.3,389.5 L1243.6,389.5 L1243.6,390.4 L1246.6,390.4 L1246.6,392.0 L1249.1,392.0 L1249.1,391.6 L1251.6,391.6 L1251.6,390.9 L1255.6,390.9 L1255.6,390.3 L1258.9,390.3 L1258.9,393.3 L1261.3,393.3 L1261.3,391.4 L1265.2,391.4 L1265.2,394.7 L1267.9,394.7 L1267.9,392.5 L1270.3,392.5 L1270.3,393.1 L1273.6,393.1 L1273.6,393.3 L1276.3,393.3 L1276.3,394.9 L1279.5,394.9 L1279.5,395.9 L1282.8,395.9 L1282.8,396.4 L1285.4,396.4 L1285.4,395.7 L1288.8,395.7 L1288.8,395.8 L1291.2,395.8 L1291.2,397.5 L1294.4,397.5 L1294.4,396.6 L1297.8,396.6 L1297.8,398.6 L1300.2,398.6 L1300.2,397.1 L1303.2,397.1 L1303.2,398.8 L1305.5,398.8 L1305.5,396.9 L1308.6,396.9 L1308.6,398.6 L1312.5,398.6 L1312.5,397.4 L1315.8,397.7 L1315.8,397.7 L1319.5,397.9 L1319.5,397.9 L1321.0,398.0 L1321.0,406.5 L1319.5,406.5 L1319.5,406.5 L1315.8,406.5 L1315.8,406.5 L1312.5,406.5 L1312.5,404.9 L1308.6,404.9 L1308.6,405.4 L1305.5,405.4 L1305.5,405.5 L1303.2,405.5 L1303.2,405.2 L1300.2,405.2 L1300.2,405.3 L1297.8,405.3 L1297.8,404.4 L1294.4,404.4 L1294.4,404.2 L1291.2,404.2 L1291.2,404.3 L1288.8,404.3 L1288.8,404.1 L1285.4,404.1 L1285.4,404.4 L1282.8,404.4 L1282.8,404.4 L1279.5,404.4 L1279.5,404.4 L1276.3,404.4 L1276.3,403.2 L1273.6,403.2 L1273.6,403.3 L1270.3,403.3 L1270.3,405.5 L1267.9,405.5 L1267.9,404.8 L1265.2,404.8 L1265.2,403.5 L1261.3,403.5 L1261.3,401.6 L1258.9,401.6 L1258.9,401.7 L1255.6,401.7 L1255.6,403.7 L1251.6,403.7 L1251.6,402.9 L1249.1,402.9 L1249.1,404.2 L1246.6,404.2 L1246.6,405.5 L1243.6,405.5 L1243.6,405.5 L1240.3,405.5 L1240.3,401.8 L1237.0,401.8 L1237.0,401.8 L1234.0,401.8 L1234.0,403.7 L1230.6,403.7 L1230.6,399.6 L1227.7,399.6 L1227.7,399.6 L1224.2,399.6 L1224.2,404.2 L1221.8,404.2 L1221.8,403.0 L1218.7,403.0 L1218.7,399.3 L1215.2,399.3 L1215.2,400.6 L1212.6,400.6 L1212.6,399.4 L1210.3,399.4 L1210.3,399.8 L1206.4,399.8 L1206.4,399.8 L1203.5,399.8 L1203.5,401.4 L1200.7,401.4 L1200.7,398.3 L1197.2,398.3 L1197.2,403.2 L1194.0,403.2 L1194.0,402.0 L1189.9,402.0 L1189.9,394.9 L1186.6,394.9 L1186.6,403.5 L1183.8,403.5 L1183.8,399.3 L1180.4,399.3 L1180.4,399.7 L1176.8,399.7 L1176.8,396.5 L1174.5,396.5 L1174.5,402.1 L1170.7,402.1 L1170.7,390.4 L1167.2,390.4 L1167.2,389.2 L1163.1,389.2 L1163.1,390.7 L1158.9,390.7 L1158.9,394.9 L1155.0,394.9 L1155.0,395.3 L1151.0,395.3 L1151.0,388.6 L1146.9,388.6 L1146.9,388.9 L1143.7,388.9 L1143.7,393.7 L1140.9,393.7 L1140.9,388.4 L1138.5,388.4 L1138.5,389.0 L1135.9,389.0 L1135.9,385.0 L1133.0,385.0 L1133.0,386.1 L1129.7,386.1 L1129.7,388.5 L1126.6,388.5 L1126.6,381.2 L1123.8,381.2 L1123.8,379.1 L1121.3,379.1 L1121.3,376.6 L1117.3,376.6 L1117.3,380.7 L1113.4,380.7 L1113.4,370.8 L1109.9,370.8 L1109.9,371.0 L1106.8,371.0 L1106.8,374.9 L1103.9,374.9 L1103.9,369.1 L1100.9,369.1 L1100.9,362.8 L1097.7,362.8 L1097.7,362.8 L1094.2,362.8 L1094.2,353.2 L1091.4,353.2 L1091.4,355.5 L1088.3,355.5 L1088.3,355.0 L1084.6,355.0 L1084.6,351.2 L1080.7,351.2 L1080.7,343.6 L1076.8,343.6 L1076.8,350.5 L1074.6,350.5 L1074.6,344.0 L1070.9,344.0 L1070.9,344.7 L1068.3,344.7 L1068.3,348.2 L1065.3,348.2 L1065.3,342.4 L1063.0,342.4 L1063.0,340.5 L1060.6,340.5 L1060.6,343.0 L1056.5,343.0 L1056.5,335.7 L1053.4,335.7 L1053.4,338.7 L1050.8,338.7 L1050.8,338.3 L1047.3,338.3 L1047.3,325.6 L1044.9,325.6 L1044.9,323.6 L1041.5,323.6 L1041.5,325.7 L1038.7,325.7 L1038.7,320.7 L1036.2,320.7 L1036.2,324.6 L1033.0,324.6 L1033.0,313.8 L1029.8,313.8 L1029.8,314.6 L1025.8,314.6 L1025.8,313.2 L1021.7,313.2 L1021.7,302.0 L1018.1,302.0 L1018.1,302.0 L1014.3,302.0 L1014.3,296.1 L1010.8,296.1 L1010.8,299.2 L1007.5,299.2 L1007.5,297.6 L1005.2,297.6 L1005.2,296.4 L1002.5,296.4 L1002.5,294.0 L998.7,294.0 L998.7,290.3 L995.7,290.3 L995.7,277.4 L992.4,277.4 L992.4,282.1 L989.5,282.1 L989.5,272.3 L986.7,272.3 L986.7,275.2 L982.8,275.2 L982.8,265.0 L980.2,265.0 L980.2,260.2 L977.4,260.2 L977.4,253.6 L973.7,253.6 L973.7,247.5 L969.8,247.5 L969.8,249.6 L966.1,249.6 L966.1,237.7 L963.5,237.7 L963.5,237.5 L959.5,237.5 L959.5,234.7 L955.6,234.7 L955.6,220.3 L952.1,220.3 L952.1,217.9 L949.5,217.9 L949.5,215.4 L946.8,215.4 L946.8,214.5 L942.9,214.5 L942.9,215.6 L939.1,215.6 L939.1,214.4 L936.9,214.4 L936.9,210.9 L934.4,210.9 L934.4,205.9 L931.7,205.9 L931.7,204.5 L929.0,204.5 L929.0,202.1 L925.5,202.1 L925.5,202.9 L921.4,202.9 L921.4,202.5 L918.0,202.5 L918.0,198.6 L914.5,198.6 L914.5,201.1 L910.4,199.9 L910.4,199.9 L908.2,199.3 L908.2,199.3 L904.9,198.6 L904.9,198.6 L902.4,198.2 L902.4,198.2 L899.3,198.0 L899.3,198.0 L896.1,197.8 L896.1,197.8 L893.7,197.6 L893.7,197.6 L890.4,197.5 L890.4,197.5 L886.2,197.3 L886.2,197.3 L882.6,197.2 L882.6,197.2 L880.2,197.1 L880.2,197.1 L876.5,197.1 L876.5,197.1 L872.3,197.0 L872.3,197.0 L870.1,197.0 L870.1,197.0 L867.8,197.0 L867.8,197.0 L865.2,197.1 L865.2,197.1 L862.3,197.3 L862.3,197.3 L859.2,197.6 L859.2,197.6 L856.3,198.0 L856.3,198.0 L853.9,198.3 L853.9,198.3 L850.8,198.8 L850.8,198.8 L847.2,199.4 L847.2,199.4 L844.6,199.9 L844.6,199.9 L841.8,200.5 L841.8,200.5 L839.5,201.0ZM939.1,204.5 L942.9,204.5 L942.9,204.7 L946.8,204.7 L946.8,208.5 L949.5,208.5 L949.5,208.3 L952.1,208.3 L952.1,212.1 L955.6,212.1 L955.6,214.4 L959.5,214.4 L959.5,217.0 L963.5,217.0 L963.5,219.6 L966.1,219.6 L966.1,220.9 L969.8,220.9 L969.8,224.5 L973.7,224.5 L973.7,230.8 L977.4,230.8 L977.4,230.4 L980.2,230.4 L980.2,236.9 L982.8,236.9 L982.8,242.0 L986.7,242.0 L986.7,245.7 L989.5,245.7 L989.5,245.6 L992.4,245.6 L992.4,248.3 L995.7,248.3 L995.7,256.9 L998.7,256.9 L998.7,261.2 L1002.5,261.2 L1002.5,261.4 L1005.2,261.4 L1005.2,267.5 L1007.5,267.5 L1007.5,265.8 L1010.8,265.8 L1010.8,271.9 L1014.3,271.9 L1014.3,274.0 L1018.1,274.0 L1018.1,278.9 L1021.7,278.9 L1021.7,278.7 L1025.8,278.7 L1025.8,284.3 L1029.8,284.3 L1029.8,288.3 L1033.0,288.3 L1033.0,286.9 L1036.2,286.9 L1036.2,295.0 L1038.7,295.0 L1038.7,293.2 L1041.5,293.2 L1041.5,300.3 L1044.9,300.3 L1044.9,299.3 L1047.3,299.3 L1047.3,303.8 L1050.8,303.8 L1050.8,303.0 L1053.4,303.0 L1053.4,310.3 L1056.5,310.3 L1056.5,310.0 L1060.6,310.0 L1060.6,313.4 L1063.0,313.4 L1063.0,311.8 L1065.3,311.8 L1065.3,313.8 L1068.3,313.8 L1068.3,317.9 L1070.9,317.9 L1070.9,322.5 L1074.6,322.5 L1074.6,324.3 L1076.8,324.3 L1076.8,326.2 L1080.7,326.2 L1080.7,327.8 L1084.6,327.8 L1084.6,331.5 L1088.3,331.5 L1088.3,334.2 L1091.4,334.2 L1091.4,333.6 L1094.2,333.6 L1094.2,336.5 L1097.7,336.5 L1097.7,340.9 L1100.9,340.9 L1100.9,338.9 L1103.9,338.9 L1103.9,345.3 L1106.8,345.3 L1106.8,344.8 L1109.9,344.8 L1109.9,349.1 L1113.4,349.1 L1113.4,347.1 L1117.3,347.1 L1117.3,349.4 L1121.3,349.4 L1121.3,354.7 L1123.8,354.7 L1123.8,353.7 L1126.6,353.7 L1126.6,355.2 L1129.7,355.2 L1129.7,360.0 L1133.0,360.0 L1133.0,361.7 L1135.9,361.7 L1135.9,362.7 L1138.5,362.7 L1138.5,362.4 L1140.9,362.4 L1140.9,367.5 L1143.7,367.5 L1143.7,367.2 L1146.9,367.2 L1146.9,370.1 L1151.0,370.1 L1151.0,374.9 L1155.0,374.9 L1155.0,377.6 L1158.9,377.6 L1158.9,380.3 L1163.1,380.3 L1163.1,382.8 L1167.2,382.8 L1167.2,384.9 L1170.7,384.9 L1170.7,386.6 L1174.5,386.6 L1174.5,387.9 L1176.8,387.9 L1176.8,388.8 L1180.4,388.8 L1180.4,389.7 L1183.8,389.7 L1183.8,390.4 L1186.6,390.4 L1186.6,391.0 L1189.9,391.0 L1189.9,391.7 L1194.0,391.7 L1194.0,392.3 L1197.2,392.3 L1197.2,392.8 L1200.7,392.8 L1200.7,393.2 L1203.5,393.2 L1203.5,393.5 L1206.4,393.5 L1206.4,393.9 L1210.3,393.9 L1210.3,394.2 L1212.6,394.2 L1212.6,394.4 L1215.2,394.4 L1215.2,394.6 L1218.7,394.6 L1218.7,394.8 L1221.8,394.8 L1221.8,395.0 L1224.2,395.0 L1224.2,395.2 L1227.7,395.2 L1227.7,395.4 L1230.6,395.4 L1230.6,395.6 L1234.0,395.6 L1234.0,395.7 L1237.0,395.7 L1237.0,395.9 L1240.3,395.9 L1240.3,396.1 L1243.6,396.1 L1243.6,396.3 L1246.6,396.3 L1246.6,396.5 L1249.1,396.5 L1249.1,396.7 L1251.6,396.7 L1251.6,396.9 L1255.6,396.9 L1255.6,397.2 L1258.9,397.2 L1258.9,397.5 L1261.3,397.5 L1261.3,397.8 L1265.2,397.8 L1265.2,398.1 L1267.9,398.1 L1267.9,398.3 L1270.3,398.3 L1270.3,398.6 L1273.6,398.6 L1273.6,398.9 L1276.3,398.9 L1276.3,399.2 L1279.5,399.2 L1279.5,399.5 L1282.8,399.5 L1282.8,399.8 L1285.4,399.8 L1285.4,400.1 L1288.8,400.1 L1288.8,400.4 L1291.2,400.4 L1291.2,400.7 L1294.4,400.7 L1294.4,401.0 L1297.8,401.0 L1297.8,401.2 L1300.2,401.2 L1300.2,401.4 L1303.2,401.4 L1303.2,401.7 L1305.5,401.7 L1305.5,401.9 L1308.6,401.9 L1308.6,402.1 L1312.5,402.1 L1312.5,402.3 L1315.8,402.3 L1315.8,402.5 L1319.5,402.5 L1319.5,402.6 L1321.0,402.6 L1321.0,402.6 L1319.5,402.6 L1319.5,402.5 L1315.8,402.5 L1315.8,402.3 L1312.5,402.3 L1312.5,402.1 L1308.6,402.1 L1308.6,401.9 L1305.5,401.9 L1305.5,401.7 L1303.2,401.7 L1303.2,401.4 L1300.2,401.4 L1300.2,401.2 L1297.8,401.2 L1297.8,401.0 L1294.4,401.0 L1294.4,400.7 L1291.2,400.7 L1291.2,400.4 L1288.8,400.4 L1288.8,400.1 L1285.4,400.1 L1285.4,399.8 L1282.8,399.8 L1282.8,399.5 L1279.5,399.5 L1279.5,399.2 L1276.3,399.2 L1276.3,398.9 L1273.6,398.9 L1273.6,398.6 L1270.3,398.6 L1270.3,398.3 L1267.9,398.3 L1267.9,398.1 L1265.2,398.1 L1265.2,397.8 L1261.3,397.8 L1261.3,397.5 L1258.9,397.5 L1258.9,397.2 L1255.6,397.2 L1255.6,396.9 L1251.6,396.9 L1251.6,396.7 L1249.1,396.7 L1249.1,396.5 L1246.6,396.5 L1246.6,396.3 L1243.6,396.3 L1243.6,396.1 L1240.3,396.1 L1240.3,395.9 L1237.0,395.9 L1237.0,395.7 L1234.0,395.7 L1234.0,395.6 L1230.6,395.6 L1230.6,395.4 L1227.7,395.4 L1227.7,395.2 L1224.2,395.2 L1224.2,395.0 L1221.8,395.0 L1221.8,394.8 L1218.7,394.8 L1218.7,394.6 L1215.2,394.6 L1215.2,394.4 L1212.6,394.4 L1212.6,394.2 L1210.3,394.2 L1210.3,393.9 L1206.4,393.9 L1206.4,393.5 L1203.5,393.5 L1203.5,393.2 L1200.7,393.2 L1200.7,392.8 L1197.2,392.8 L1197.2,392.3 L1194.0,392.3 L1194.0,391.7 L1189.9,391.7 L1189.9,391.0 L1186.6,391.0 L1186.6,390.4 L1183.8,390.4 L1183.8,389.7 L1180.4,389.7 L1180.4,388.8 L1176.8,388.8 L1176.8,387.9 L1174.5,387.9 L1174.5,386.6 L1170.7,386.6 L1170.7,384.9 L1167.2,384.9 L1167.2,382.8 L1163.1,382.8 L1163.1,380.3 L1158.9,380.3 L1158.9,377.6 L1155.0,377.6 L1155.0,374.9 L1151.0,374.9 L1151.0,374.0 L1146.9,374.0 L1146.9,372.0 L1143.7,372.0 L1143.7,367.6 L1140.9,367.6 L1140.9,369.4 L1138.5,369.4 L1138.5,365.9 L1135.9,365.9 L1135.9,363.4 L1133.0,363.4 L1133.0,361.3 L1129.7,361.3 L1129.7,362.2 L1126.6,362.2 L1126.6,360.1 L1123.8,360.1 L1123.8,355.9 L1121.3,355.9 L1121.3,357.4 L1117.3,357.4 L1117.3,355.1 L1113.4,355.1 L1113.4,349.1 L1109.9,349.1 L1109.9,349.6 L1106.8,349.6 L1106.8,346.0 L1103.9,346.0 L1103.9,348.7 L1100.9,348.7 L1100.9,342.5 L1097.7,342.5 L1097.7,341.9 L1094.2,341.9 L1094.2,340.0 L1091.4,340.0 L1091.4,334.7 L1088.3,334.7 L1088.3,332.2 L1084.6,332.2 L1084.6,330.5 L1080.7,330.5 L1080.7,327.3 L1076.8,327.3 L1076.8,325.3 L1074.6,325.3 L1074.6,323.2 L1070.9,323.2 L1070.9,323.4 L1068.3,323.4 L1068.3,323.4 L1065.3,323.4 L1065.3,321.6 L1063.0,321.6 L1063.0,316.7 L1060.6,316.7 L1060.6,315.6 L1056.5,315.6 L1056.5,310.3 L1053.4,310.3 L1053.4,313.2 L1050.8,313.2 L1050.8,307.3 L1047.3,307.3 L1047.3,306.5 L1044.9,306.5 L1044.9,300.3 L1041.5,300.3 L1041.5,301.7 L1038.7,301.7 L1038.7,295.0 L1036.2,295.0 L1036.2,297.8 L1033.0,297.8 L1033.0,290.7 L1029.8,290.7 L1029.8,288.6 L1025.8,288.6 L1025.8,287.7 L1021.7,287.7 L1021.7,281.5 L1018.1,281.5 L1018.1,280.3 L1014.3,280.3 L1014.3,276.2 L1010.8,276.2 L1010.8,276.1 L1007.5,276.1 L1007.5,268.5 L1005.2,268.5 L1005.2,269.0 L1002.5,269.0 L1002.5,261.2 L998.7,261.2 L998.7,257.0 L995.7,257.0 L995.7,257.7 L992.4,257.7 L992.4,252.7 L989.5,252.7 L989.5,245.9 L986.7,245.9 L986.7,242.0 L982.8,242.0 L982.8,239.3 L980.2,239.3 L980.2,239.2 L977.4,239.2 L977.4,231.1 L973.7,231.1 L973.7,228.7 L969.8,228.7 L969.8,224.3 L966.1,224.3 L966.1,219.6 L963.5,219.6 L963.5,217.0 L959.5,217.0 L959.5,214.4 L955.6,214.4 L955.6,212.1 L952.1,212.1 L952.1,212.2 L949.5,212.2 L949.5,209.0 L946.8,209.0 L946.8,209.1 L942.9,209.1 L942.9,205.4 L939.1,205.4Z" fill="#f77189" fill-rule="evenodd"/><path d="M839.5,173.0 L842.6,173.9 L842.6,173.9 L846.0,174.8 L846.0,174.8 L849.9,175.9 L849.9,175.9 L852.5,176.6 L852.5,176.6 L856.5,177.5 L856.5,177.5 L859.4,178.2 L859.4,178.2 L863.2,178.9 L863.2,178.9 L867.1,179.6 L867.1,179.6 L869.7,180.0 L869.7,180.0 L873.6,180.4 L873.6,180.4 L877.8,180.9 L877.8,180.9 L880.6,181.2 L880.6,181.2 L882.9,181.4 L882.9,181.4 L885.3,181.6 L885.3,181.6 L889.4,182.0 L889.4,182.0 L891.6,182.2 L891.6,182.2 L895.7,182.5 L895.7,182.5 L898.2,182.7 L898.2,182.7 L901.8,182.9 L901.8,182.9 L904.2,183.1 L904.2,183.1 L906.8,183.3 L906.8,183.3 L910.3,183.5 L910.3,183.5 L912.7,183.7 L912.7,183.7 L915.6,183.9 L915.6,183.9 L919.6,184.1 L919.6,184.1 L923.3,184.3 L923.3,184.3 L927.2,184.5 L927.2,184.5 L931.4,184.8 L931.4,184.8 L933.7,184.9 L933.7,184.9 L936.3,185.1 L936.3,185.1 L940.1,185.4 L940.1,185.4 L943.7,185.7 L943.7,185.7 L946.0,185.9 L946.0,186.3 L949.2,186.3 L949.2,187.0 L951.8,187.0 L951.8,187.7 L954.9,187.7 L954.9,188.7 L957.3,188.7 L957.3,187.3 L959.5,187.3 L959.5,191.8 L963.7,191.8 L963.7,189.7 L966.6,189.7 L966.6,192.5 L970.5,192.5 L970.5,188.5 L973.0,188.5 L973.0,190.5 L976.1,190.5 L976.1,189.7 L978.6,189.7 L978.6,191.0 L981.7,191.0 L981.7,187.9 L984.2,187.9 L984.2,194.5 L987.8,194.5 L987.8,190.3 L990.3,190.3 L990.3,192.1 L994.0,192.1 L994.0,192.8 L997.2,192.8 L997.2,191.9 L999.6,191.9 L999.6,202.7 L1002.5,202.7 L1002.5,198.2 L1005.7,198.2 L1005.7,201.7 L1009.7,201.7 L1009.7,194.7 L1012.6,194.7 L1012.6,199.0 L1015.3,199.0 L1015.3,198.3 L1019.4,198.3 L1019.4,203.0 L1023.4,203.0 L1023.4,199.3 L1027.0,199.3 L1027.0,202.4 L1029.8,202.4 L1029.8,197.6 L1032.3,197.6 L1032.3,204.5 L1035.0,204.5 L1035.0,204.2 L1037.4,204.2 L1037.4,196.7 L1039.7,196.7 L1039.7,201.0 L1042.9,201.0 L1042.9,203.0 L1045.9,203.0 L1045.9,206.9 L1049.2,206.9 L1049.2,205.3 L1052.1,205.3 L1052.1,204.2 L1054.4,204.2 L1054.4,204.3 L1057.9,204.3 L1057.9,211.5 L1061.4,211.5 L1061.4,208.4 L1064.7,208.4 L1064.7,216.9 L1068.0,216.9 L1068.0,221.4 L1071.6,221.4 L1071.6,219.4 L1075.8,219.4 L1075.8,233.0 L1079.7,233.0 L1079.7,241.0 L1083.4,241.0 L1083.4,238.0 L1086.4,238.0 L1086.4,249.3 L1089.2,249.3 L1089.2,243.4 L1092.2,243.4 L1092.2,253.7 L1096.4,253.7 L1096.4,259.1 L1099.4,259.1 L1099.4,259.5 L1102.3,259.5 L1102.3,265.1 L1105.3,265.1 L1105.3,266.1 L1107.8,266.1 L1107.8,271.7 L1112.0,271.7 L1112.0,265.3 L1114.2,265.3 L1114.2,272.0 L1117.7,272.0 L1117.7,280.4 L1121.7,280.4 L1121.7,273.0 L1124.4,273.0 L1124.4,274.7 L1127.8,274.7 L1127.8,280.5 L1130.8,280.5 L1130.8,280.6 L1133.5,280.6 L1133.5,280.9 L1136.1,280.9 L1136.1,289.2 L1138.5,289.2 L1138.5,284.7 L1142.4,284.7 L1142.4,285.7 L1146.2,285.7 L1146.2,294.1 L1150.2,294.1 L1150.2,299.4 L1152.5,299.4 L1152.5,301.5 L1156.1,301.5 L1156.1,303.5 L1158.9,303.5 L1158.9,312.3 L1162.4,312.3 L1162.4,313.5 L1165.7,313.5 L1165.7,318.6 L1168.5,318.6 L1168.5,321.7 L1172.7,321.7 L1172.7,331.4 L1174.9,331.4 L1174.9,333.3 L1178.6,333.3 L1178.6,335.1 L1182.5,335.1 L1182.5,342.4 L1185.7,342.4 L1185.7,344.3 L1189.1,344.3 L1189.1,341.4 L1193.3,341.4 L1193.3,339.0 L1195.9,339.0 L1195.9,341.5 L1199.4,341.5 L1199.4,345.5 L1203.1,345.5 L1203.1,352.7 L1206.0,352.7 L1206.0,354.1 L1209.7,354.1 L1209.7,358.6 L1212.7,358.6 L1212.7,354.5 L1215.9,354.5 L1215.9,355.7 L1219.3,355.7 L1219.3,358.5 L1222.9,358.5 L1222.9,358.9 L1225.7,358.9 L1225.7,371.2 L1229.2,371.2 L1229.2,369.0 L1232.5,369.0 L1232.5,373.1 L1235.1,373.1 L1235.1,365.6 L1238.5,365.6 L1238.5,372.9 L1241.3,372.9 L1241.3,375.5 L1245.3,375.5 L1245.3,370.3 L1248.4,370.3 L1248.4,372.3 L1252.1,372.3 L1252.1,371.7 L1255.3,371.7 L1255.3,374.3 L1258.5,374.3 L1258.5,373.6 L1261.1,373.6 L1261.1,381.8 L1263.6,381.8 L1263.6,374.3 L1267.7,374.3 L1267.7,380.5 L1270.9,380.5 L1270.9,380.5 L1274.2,380.5 L1274.2,380.7 L1277.4,380.7 L1277.4,381.3 L1281.3,381.3 L1281.3,379.7 L1283.9,379.7 L1283.9,380.4 L1286.5,380.4 L1286.5,387.2 L1290.3,387.2 L1290.3,384.6 L1293.4,384.6 L1293.4,384.0 L1296.9,384.0 L1296.9,385.6 L1300.8,385.6 L1300.8,383.7 L1304.8,383.7 L1304.8,388.9 L1308.7,388.9 L1308.7,387.3 L1311.0,387.3 L1311.0,385.2 L1313.9,385.2 L1313.9,389.8 L1317.8,389.8 L1317.8,386.2 L1321.0,386.2 L1321.0,397.8 L1317.8,397.8 L1317.8,398.1 L1313.9,398.1 L1313.9,401.3 L1311.0,401.3 L1311.0,402.3 L1308.7,402.3 L1308.7,399.1 L1304.8,399.1 L1304.8,399.6 L1300.8,399.6 L1300.8,396.5 L1296.9,396.5 L1296.9,397.2 L1293.4,397.2 L1293.4,400.0 L1290.3,400.0 L1290.3,395.2 L1286.5,395.2 L1286.5,394.8 L1283.9,394.8 L1283.9,395.2 L1281.3,395.2 L1281.3,395.8 L1277.4,395.8 L1277.4,394.9 L1274.2,394.9 L1274.2,399.6 L1270.9,399.6 L1270.9,398.2 L1267.7,398.2 L1267.7,396.4 L1263.6,396.4 L1263.6,395.8 L1261.1,395.8 L1261.1,391.8 L1258.5,391.8 L1258.5,390.8 L1255.3,390.8 L1255.3,389.6 L1252.1,389.6 L1252.1,392.4 L1248.4,392.4 L1248.4,391.6 L1245.3,391.6 L1245.3,394.0 L1241.3,394.0 L1241.3,396.2 L1238.5,396.2 L1238.5,395.5 L1235.1,395.5 L1235.1,387.7 L1232.5,387.7 L1232.5,392.0 L1229.2,392.0 L1229.2,389.3 L1225.7,389.3 L1225.7,383.7 L1222.9,383.7 L1222.9,391.7 L1219.3,391.7 L1219.3,380.3 L1215.9,380.3 L1215.9,380.4 L1212.7,380.4 L1212.7,386.6 L1209.7,386.6 L1209.7,380.7 L1206.0,380.7 L1206.0,378.1 L1203.1,378.1 L1203.1,375.4 L1199.4,375.4 L1199.4,378.4 L1195.9,378.4 L1195.9,373.8 L1193.3,373.8 L1193.3,375.4 L1189.1,375.4 L1189.1,381.5 L1185.7,381.5 L1185.7,375.0 L1182.5,375.0 L1182.5,373.3 L1178.6,373.3 L1178.6,366.7 L1174.9,366.7 L1174.9,371.1 L1172.7,371.1 L1172.7,368.5 L1168.5,368.5 L1168.5,361.0 L1165.7,361.0 L1165.7,357.9 L1162.4,357.9 L1162.4,360.0 L1158.9,360.0 L1158.9,344.7 L1156.1,344.7 L1156.1,342.1 L1152.5,342.1 L1152.5,341.3 L1150.2,341.3 L1150.2,339.1 L1146.2,339.1 L1146.2,334.0 L1142.4,334.0 L1142.4,334.7 L1138.5,334.7 L1138.5,323.7 L1136.1,323.7 L1136.1,321.7 L1133.5,321.7 L1133.5,330.5 L1130.8,330.5 L1130.8,322.7 L1127.8,322.7 L1127.8,316.1 L1124.4,316.1 L1124.4,321.3 L1121.7,321.3 L1121.7,319.8 L1117.7,319.8 L1117.7,320.9 L1114.2,320.9 L1114.2,314.8 L1112.0,314.8 L1112.0,305.6 L1107.8,305.6 L1107.8,301.5 L1105.3,301.5 L1105.3,306.9 L1102.3,306.9 L1102.3,309.1 L1099.4,309.1 L1099.4,298.1 L1096.4,298.1 L1096.4,303.6 L1092.2,303.6 L1092.2,291.2 L1089.2,291.2 L1089.2,296.8 L1086.4,296.8 L1086.4,294.2 L1083.4,294.2 L1083.4,290.2 L1079.7,290.2 L1079.7,277.2 L1075.8,277.2 L1075.8,272.3 L1071.6,272.3 L1071.6,269.7 L1068.0,269.7 L1068.0,260.8 L1064.7,260.8 L1064.7,258.5 L1061.4,258.5 L1061.4,256.0 L1057.9,256.0 L1057.9,253.1 L1054.4,253.1 L1054.4,246.5 L1052.1,246.5 L1052.1,250.0 L1049.2,250.0 L1049.2,254.1 L1045.9,254.1 L1045.9,241.3 L1042.9,241.3 L1042.9,244.8 L1039.7,244.8 L1039.7,240.6 L1037.4,240.6 L1037.4,245.1 L1035.0,245.1 L1035.0,243.2 L1032.3,243.2 L1032.3,234.0 L1029.8,234.0 L1029.8,233.0 L1027.0,233.0 L1027.0,237.7 L1023.4,237.7 L1023.4,229.4 L1019.4,229.4 L1019.4,231.5 L1015.3,231.5 L1015.3,225.2 L1012.6,225.2 L1012.6,226.9 L1009.7,226.9 L1009.7,226.0 L1005.7,226.0 L1005.7,218.9 L1002.5,218.9 L1002.5,225.2 L999.6,225.2 L999.6,218.6 L997.2,218.6 L997.2,214.9 L994.0,214.9 L994.0,220.0 L990.3,220.0 L990.3,213.8 L987.8,213.8 L987.8,220.2 L984.2,220.2 L984.2,216.6 L981.7,216.6 L981.7,212.9 L978.6,212.9 L978.6,211.2 L976.1,211.2 L976.1,208.0 L973.0,208.0 L973.0,205.1 L970.5,205.1 L970.5,202.7 L966.6,202.7 L966.6,202.5 L963.7,202.5 L963.7,199.6 L959.5,199.6 L959.5,199.5 L957.3,199.5 L957.3,198.2 L954.9,198.2 L954.9,195.8 L951.8,195.8 L951.8,196.5 L949.2,196.5 L949.2,194.9 L946.0,194.9 L946.0,194.5 L943.7,193.5 L943.7,193.5 L940.1,192.2 L940.1,192.2 L936.3,191.2 L936.3,191.2 L933.7,190.8 L933.7,190.8 L931.4,190.6 L931.4,190.6 L927.2,190.2 L927.2,190.2 L923.3,189.9 L923.3,189.9 L919.6,189.6 L919.6,189.6 L915.6,189.4 L915.6,189.4 L912.7,189.2 L912.7,189.2 L910.3,189.0 L910.3,189.0 L906.8,188.8 L906.8,188.8 L904.2,188.6 L904.2,188.6 L901.8,188.4 L901.8,188.4 L898.2,188.2 L898.2,188.2 L895.7,188.0 L895.7,188.0 L891.6,187.8 L891.6,187.8 L889.4,187.6 L889.4,187.6 L885.3,187.3 L885.3,187.3 L882.9,187.1 L882.9,187.1 L880.6,186.9 L880.6,186.9 L877.8,186.7 L877.8,186.7 L873.6,186.2 L873.6,186.2 L869.7,185.8 L869.7,185.8 L867.1,185.4 L867.1,185.4 L863.2,184.6 L863.2,184.6 L859.4,183.7 L859.4,183.7 L856.5,182.9 L856.5,182.9 L852.5,181.7 L852.5,181.7 L849.9,180.8 L849.9,180.8 L846.0,179.4 L846.0,179.4 L842.6,178.2 L842.6,178.2 L839.5,177.0ZM940.1,189.1 L943.7,189.1 L943.7,189.8 L946.0,189.8 L946.0,190.5 L949.2,190.5 L949.2,191.3 L951.8,191.3 L951.8,192.0 L954.9,192.0 L954.9,192.8 L957.3,192.8 L957.3,193.4 L959.5,193.4 L959.5,194.2 L963.7,194.2 L963.7,195.2 L966.6,195.2 L966.6,196.3 L970.5,196.3 L970.5,197.4 L973.0,197.4 L973.0,197.4 L976.1,197.4 L976.1,197.4 L978.6,197.4 L978.6,200.0 L981.7,200.0 L981.7,199.2 L984.2,199.2 L984.2,201.0 L987.8,201.0 L987.8,203.6 L990.3,203.6 L990.3,204.2 L994.0,204.2 L994.0,205.3 L997.2,205.3 L997.2,207.2 L999.6,207.2 L999.6,206.8 L1002.5,206.8 L1002.5,210.2 L1005.7,210.2 L1005.7,209.6 L1009.7,209.6 L1009.7,212.8 L1012.6,212.8 L1012.6,214.6 L1015.3,214.6 L1015.3,214.6 L1019.4,214.6 L1019.4,218.4 L1023.4,218.4 L1023.4,218.5 L1027.0,218.5 L1027.0,218.9 L1029.8,218.9 L1029.8,221.0 L1032.3,221.0 L1032.3,222.8 L1035.0,222.8 L1035.0,225.3 L1037.4,225.3 L1037.4,224.3 L1039.7,224.3 L1039.7,227.1 L1042.9,227.1 L1042.9,225.5 L1045.9,225.5 L1045.9,229.2 L1049.2,229.2 L1049.2,228.0 L1052.1,228.0 L1052.1,230.2 L1054.4,230.2 L1054.4,231.2 L1057.9,231.2 L1057.9,231.1 L1061.4,231.1 L1061.4,236.5 L1064.7,236.5 L1064.7,240.4 L1068.0,240.4 L1068.0,240.8 L1071.6,240.8 L1071.6,250.6 L1075.8,250.6 L1075.8,253.5 L1079.7,253.5 L1079.7,257.6 L1083.4,257.6 L1083.4,263.2 L1086.4,263.2 L1086.4,267.8 L1089.2,267.8 L1089.2,270.6 L1092.2,270.6 L1092.2,269.8 L1096.4,269.8 L1096.4,276.8 L1099.4,276.8 L1099.4,277.4 L1102.3,277.4 L1102.3,279.6 L1105.3,279.6 L1105.3,283.7 L1107.8,283.7 L1107.8,284.4 L1112.0,284.4 L1112.0,288.0 L1114.2,288.0 L1114.2,287.8 L1117.7,287.8 L1117.7,290.2 L1121.7,290.2 L1121.7,293.1 L1124.4,293.1 L1124.4,295.9 L1127.8,295.9 L1127.8,296.9 L1130.8,296.9 L1130.8,300.0 L1133.5,300.0 L1133.5,302.3 L1136.1,302.3 L1136.1,303.9 L1138.5,303.9 L1138.5,303.5 L1142.4,303.5 L1142.4,309.5 L1146.2,309.5 L1146.2,312.2 L1150.2,312.2 L1150.2,320.3 L1152.5,320.3 L1152.5,320.2 L1156.1,320.2 L1156.1,327.2 L1158.9,327.2 L1158.9,330.1 L1162.4,330.1 L1162.4,336.1 L1165.7,336.1 L1165.7,339.6 L1168.5,339.6 L1168.5,346.3 L1172.7,346.3 L1172.7,347.2 L1174.9,347.2 L1174.9,353.1 L1178.6,353.1 L1178.6,355.5 L1182.5,355.5 L1182.5,358.4 L1185.7,358.4 L1185.7,359.3 L1189.1,359.3 L1189.1,361.0 L1193.3,361.0 L1193.3,363.9 L1195.9,363.9 L1195.9,362.9 L1199.4,362.9 L1199.4,367.7 L1203.1,367.7 L1203.1,367.5 L1206.0,367.5 L1206.0,370.2 L1209.7,370.2 L1209.7,370.1 L1212.7,370.1 L1212.7,370.6 L1215.9,370.6 L1215.9,372.0 L1219.3,372.0 L1219.3,375.1 L1222.9,375.1 L1222.9,375.8 L1225.7,375.8 L1225.7,375.5 L1229.2,375.5 L1229.2,375.2 L1232.5,375.2 L1232.5,378.6 L1235.1,378.6 L1235.1,377.9 L1238.5,377.9 L1238.5,378.4 L1241.3,378.4 L1241.3,378.9 L1245.3,378.9 L1245.3,381.0 L1248.4,381.0 L1248.4,380.3 L1252.1,380.3 L1252.1,382.0 L1255.3,382.0 L1255.3,381.4 L1258.5,381.4 L1258.5,384.0 L1261.1,384.0 L1261.1,384.6 L1263.6,384.6 L1263.6,385.3 L1267.7,385.3 L1267.7,386.1 L1270.9,386.1 L1270.9,386.9 L1274.2,386.9 L1274.2,387.6 L1277.4,387.6 L1277.4,388.4 L1281.3,388.4 L1281.3,389.1 L1283.9,389.1 L1283.9,389.7 L1286.5,389.7 L1286.5,390.3 L1290.3,390.3 L1290.3,391.0 L1293.4,391.0 L1293.4,391.7 L1296.9,391.7 L1296.9,392.3 L1300.8,392.3 L1300.8,393.0 L1304.8,393.0 L1304.8,393.5 L1308.7,393.5 L1308.7,393.9 L1311.0,393.9 L1311.0,394.2 L1313.9,394.2 L1313.9,394.5 L1317.8,394.5 L1317.8,394.8 L1321.0,394.8 L1321.0,394.8 L1317.8,394.8 L1317.8,394.5 L1313.9,394.5 L1313.9,394.2 L1311.0,394.2 L1311.0,393.9 L1308.7,393.9 L1308.7,393.5 L1304.8,393.5 L1304.8,393.0 L1300.8,393.0 L1300.8,392.3 L1296.9,392.3 L1296.9,391.7 L1293.4,391.7 L1293.4,391.0 L1290.3,391.0 L1290.3,390.3 L1286.5,390.3 L1286.5,389.7 L1283.9,389.7 L1283.9,389.1 L1281.3,389.1 L1281.3,388.4 L1277.4,388.4 L1277.4,387.6 L1274.2,387.6 L1274.2,386.9 L1270.9,386.9 L1270.9,386.1 L1267.7,386.1 L1267.7,385.3 L1263.6,385.3 L1263.6,384.6 L1261.1,384.6 L1261.1,384.0 L1258.5,384.0 L1258.5,385.4 L1255.3,385.4 L1255.3,383.6 L1252.1,383.6 L1252.1,383.9 L1248.4,383.9 L1248.4,382.0 L1245.3,382.0 L1245.3,382.7 L1241.3,382.7 L1241.3,381.6 L1238.5,381.6 L1238.5,380.7 L1235.1,380.7 L1235.1,378.6 L1232.5,378.6 L1232.5,380.5 L1229.2,380.5 L1229.2,378.4 L1225.7,378.4 L1225.7,376.4 L1222.9,376.4 L1222.9,375.1 L1219.3,375.1 L1219.3,376.1 L1215.9,376.1 L1215.9,375.3 L1212.7,375.3 L1212.7,373.5 L1209.7,373.5 L1209.7,370.8 L1206.0,370.8 L1206.0,370.9 L1203.1,370.9 L1203.1,367.7 L1199.4,367.7 L1199.4,369.2 L1195.9,369.2 L1195.9,365.1 L1193.3,365.1 L1193.3,364.3 L1189.1,364.3 L1189.1,361.5 L1185.7,361.5 L1185.7,358.4 L1182.5,358.4 L1182.5,356.6 L1178.6,356.6 L1178.6,353.1 L1174.9,353.1 L1174.9,353.3 L1172.7,353.3 L1172.7,347.1 L1168.5,347.1 L1168.5,345.1 L1165.7,345.1 L1165.7,340.4 L1162.4,340.4 L1162.4,336.8 L1158.9,336.8 L1158.9,330.7 L1156.1,330.7 L1156.1,328.5 L1152.5,328.5 L1152.5,320.3 L1150.2,320.3 L1150.2,320.0 L1146.2,320.0 L1146.2,313.2 L1142.4,313.2 L1142.4,311.1 L1138.5,311.1 L1138.5,304.8 L1136.1,304.8 L1136.1,302.3 L1133.5,302.3 L1133.5,300.5 L1130.8,300.5 L1130.8,299.5 L1127.8,299.5 L1127.8,296.3 L1124.4,296.3 L1124.4,295.3 L1121.7,295.3 L1121.7,293.9 L1117.7,293.9 L1117.7,291.8 L1114.2,291.8 L1114.2,288.1 L1112.0,288.1 L1112.0,287.6 L1107.8,287.6 L1107.8,283.7 L1105.3,283.7 L1105.3,283.6 L1102.3,283.6 L1102.3,281.1 L1099.4,281.1 L1099.4,276.8 L1096.4,276.8 L1096.4,277.7 L1092.2,277.7 L1092.2,270.6 L1089.2,270.6 L1089.2,267.8 L1086.4,267.8 L1086.4,266.9 L1083.4,266.9 L1083.4,265.8 L1079.7,265.8 L1079.7,261.5 L1075.8,261.5 L1075.8,252.6 L1071.6,252.6 L1071.6,250.2 L1068.0,250.2 L1068.0,240.5 L1064.7,240.5 L1064.7,236.6 L1061.4,236.6 L1061.4,237.0 L1057.9,237.0 L1057.9,233.7 L1054.4,233.7 L1054.4,232.3 L1052.1,232.3 L1052.1,232.6 L1049.2,232.6 L1049.2,229.2 L1045.9,229.2 L1045.9,230.8 L1042.9,230.8 L1042.9,227.1 L1039.7,227.1 L1039.7,228.0 L1037.4,228.0 L1037.4,225.3 L1035.0,225.3 L1035.0,225.8 L1032.3,225.8 L1032.3,225.3 L1029.8,225.3 L1029.8,224.9 L1027.0,224.9 L1027.0,222.1 L1023.4,222.1 L1023.4,218.4 L1019.4,218.4 L1019.4,217.9 L1015.3,217.9 L1015.3,214.6 L1012.6,214.6 L1012.6,213.9 L1009.7,213.9 L1009.7,214.1 L1005.7,214.1 L1005.7,210.3 L1002.5,210.3 L1002.5,210.8 L999.6,210.8 L999.6,207.9 L997.2,207.9 L997.2,207.3 L994.0,207.3 L994.0,205.4 L990.3,205.4 L990.3,203.6 L987.8,203.6 L987.8,204.1 L984.2,204.1 L984.2,203.8 L981.7,203.8 L981.7,201.0 L978.6,201.0 L978.6,201.6 L976.1,201.6 L976.1,199.5 L973.0,199.5 L973.0,197.4 L970.5,197.4 L970.5,196.3 L966.6,196.3 L966.6,195.2 L963.7,195.2 L963.7,194.2 L959.5,194.2 L959.5,193.4 L957.3,193.4 L957.3,192.8 L954.9,192.8 L954.9,192.0 L951.8,192.0 L951.8,191.3 L949.2,191.3 L949.2,190.5 L946.0,190.5 L946.0,189.8 L943.7,189.8 L943.7,189.1 L940.1,189.1Z" fill="#dc8932" fill-rule="evenodd"/><path d="M839.5,141.9 L843.6,144.4 L843.6,144.4 L846.6,146.2 L846.6,146.2 L849.6,148.0 L849.6,148.0 L852.0,149.3 L852.0,149.3 L854.7,150.8 L854.7,150.8 L858.4,152.8 L858.4,152.8 L861.9,154.7 L861.9,154.7 L864.4,155.9 L864.4,155.9 L867.3,157.3 L867.3,157.3 L869.8,158.4 L869.8,158.4 L872.4,159.5 L872.4,159.5 L875.0,160.6 L875.0,160.6 L877.9,161.7 L877.9,161.7 L882.0,163.2 L882.0,163.2 L886.2,164.5 L886.2,164.5 L890.0,165.5 L890.0,165.5 L893.2,166.3 L893.2,166.3 L896.4,167.1 L896.4,167.1 L900.1,167.9 L900.1,167.9 L904.1,168.8 L904.1,168.8 L907.8,169.5 L907.8,169.5 L911.3,170.1 L911.3,170.1 L913.9,170.6 L913.9,170.6 L917.4,171.2 L917.4,171.2 L921.3,171.8 L921.3,171.8 L925.0,172.4 L925.0,172.4 L927.4,172.8 L927.4,172.8 L931.0,173.4 L931.0,173.4 L933.9,173.8 L933.9,173.8 L936.5,174.2 L936.5,174.2 L940.6,174.9 L940.6,174.9 L944.1,175.4 L944.1,175.4 L947.8,176.0 L947.8,176.0 L950.3,176.3 L950.3,176.3 L954.2,176.9 L954.2,176.9 L958.2,177.5 L958.2,177.5 L962.2,178.0 L962.2,178.0 L965.9,178.5 L965.9,178.5 L969.8,179.0 L969.8,179.0 L973.6,179.5 L973.6,179.5 L977.0,179.9 L977.0,179.9 L980.1,180.2 L980.1,180.2 L983.9,180.7 L983.9,180.7 L987.7,181.1 L987.7,181.1 L991.6,181.5 L991.6,181.5 L994.4,181.7 L994.4,181.7 L998.5,182.1 L998.5,182.1 L1001.8,182.4 L1001.8,182.4 L1005.9,182.7 L1005.9,182.7 L1008.3,182.9 L1008.3,182.9 L1012.5,183.2 L1012.5,183.5 L1016.2,183.5 L1016.2,185.3 L1018.9,185.3 L1018.9,185.2 L1022.8,185.2 L1022.8,187.0 L1025.5,187.0 L1025.5,187.1 L1028.1,187.1 L1028.1,186.0 L1031.2,186.0 L1031.2,189.0 L1033.9,189.0 L1033.9,186.0 L1037.1,186.0 L1037.1,188.6 L1041.1,188.6 L1041.1,188.4 L1044.6,188.4 L1044.6,190.5 L1048.3,190.5 L1048.3,191.9 L1051.2,191.9 L1051.2,191.6 L1055.0,191.6 L1055.0,195.3 L1058.8,195.3 L1058.8,195.3 L1062.4,195.3 L1062.4,193.7 L1066.4,193.7 L1066.4,197.4 L1070.3,197.4 L1070.3,195.4 L1073.3,195.4 L1073.3,198.7 L1075.7,198.7 L1075.7,201.8 L1079.2,201.8 L1079.2,197.6 L1083.1,197.6 L1083.1,206.2 L1085.9,206.2 L1085.9,206.6 L1089.3,206.6 L1089.3,193.8 L1093.2,193.8 L1093.2,195.2 L1097.0,195.2 L1097.0,196.4 L1099.2,196.4 L1099.2,197.6 L1102.4,197.6 L1102.4,198.8 L1104.6,198.8 L1104.6,199.9 L1107.0,199.9 L1107.0,201.6 L1110.9,201.6 L1110.9,203.8 L1113.9,203.8 L1113.9,206.1 L1117.3,206.1 L1117.3,208.6 L1120.4,208.6 L1120.4,211.0 L1123.3,211.0 L1123.3,213.3 L1125.9,213.3 L1125.9,215.6 L1128.8,215.6 L1128.8,218.5 L1132.7,218.5 L1132.7,221.6 L1136.2,221.6 L1136.2,224.1 L1138.9,224.1 L1138.9,226.1 L1141.3,226.1 L1141.3,228.0 L1144.1,228.0 L1144.1,230.4 L1147.7,230.4 L1147.7,232.8 L1150.7,232.8 L1150.7,235.2 L1154.3,235.2 L1154.3,237.8 L1158.1,237.8 L1158.1,240.1 L1160.5,240.1 L1160.5,242.3 L1164.1,242.3 L1164.1,244.4 L1166.4,244.4 L1166.4,246.7 L1170.2,246.7 L1170.2,249.2 L1172.8,249.2 L1172.8,251.2 L1175.5,251.2 L1175.5,254.0 L1179.6,254.0 L1179.6,256.9 L1182.6,256.9 L1182.6,259.4 L1185.2,259.4 L1185.2,262.4 L1189.2,262.4 L1189.2,265.9 L1192.6,265.9 L1192.6,269.4 L1196.6,269.4 L1196.6,272.9 L1199.6,272.9 L1199.6,275.9 L1202.8,275.9 L1202.8,279.6 L1206.9,279.6 L1206.9,283.2 L1210.1,283.2 L1210.1,286.8 L1214.3,286.8 L1214.3,290.0 L1216.9,290.0 L1216.9,292.9 L1220.7,292.9 L1220.7,295.8 L1223.3,295.8 L1223.3,298.2 L1226.5,298.2 L1226.5,300.6 L1228.7,300.6 L1228.7,302.6 L1231.3,302.6 L1231.3,305.3 L1235.4,305.3 L1235.4,308.3 L1238.5,308.3 L1238.5,311.1 L1242.3,311.1 L1242.3,313.7 L1245.0,313.7 L1245.0,316.0 L1247.9,316.0 L1247.9,318.2 L1250.3,318.2 L1250.3,320.6 L1253.6,320.6 L1253.6,323.8 L1257.5,323.8 L1257.5,326.9 L1260.7,326.9 L1260.7,329.7 L1263.7,329.7 L1263.7,332.8 L1267.8,332.8 L1267.8,336.2 L1271.7,336.2 L1271.7,339.3 L1275.3,339.3 L1275.3,341.5 L1277.6,341.5 L1277.6,343.6 L1281.1,343.6 L1281.1,345.7 L1284.2,345.7 L1284.2,348.0 L1288.3,348.0 L1288.3,350.2 L1291.2,350.2 L1291.2,352.2 L1294.7,352.2 L1294.7,354.2 L1298.2,354.2 L1298.2,356.1 L1301.1,356.1 L1301.1,357.7 L1304.4,357.7 L1304.4,359.5 L1307.9,359.5 L1307.9,361.3 L1312.0,361.3 L1312.0,363.0 L1315.2,363.0 L1315.2,364.3 L1318.1,364.3 L1318.1,365.5 L1321.0,365.5 L1321.0,386.5 L1318.1,386.5 L1318.1,387.5 L1315.2,387.5 L1315.2,387.9 L1312.0,387.9 L1312.0,386.8 L1307.9,386.8 L1307.9,382.9 L1304.4,382.9 L1304.4,387.7 L1301.1,387.7 L1301.1,385.3 L1298.2,385.3 L1298.2,380.0 L1294.7,380.0 L1294.7,382.6 L1291.2,382.6 L1291.2,381.9 L1288.3,381.9 L1288.3,376.4 L1284.2,376.4 L1284.2,372.7 L1281.1,372.7 L1281.1,377.3 L1277.6,377.3 L1277.6,371.6 L1275.3,371.6 L1275.3,371.0 L1271.7,371.0 L1271.7,369.6 L1267.8,369.6 L1267.8,362.9 L1263.7,362.9 L1263.7,365.2 L1260.7,365.2 L1260.7,367.9 L1257.5,367.9 L1257.5,368.5 L1253.6,368.5 L1253.6,357.5 L1250.3,357.5 L1250.3,361.2 L1247.9,361.2 L1247.9,356.4 L1245.0,356.4 L1245.0,354.1 L1242.3,354.1 L1242.3,355.2 L1238.5,355.2 L1238.5,359.8 L1235.4,359.8 L1235.4,355.8 L1231.3,355.8 L1231.3,353.9 L1228.7,353.9 L1228.7,343.9 L1226.5,343.9 L1226.5,350.1 L1223.3,350.1 L1223.3,345.8 L1220.7,345.8 L1220.7,340.6 L1216.9,340.6 L1216.9,348.8 L1214.3,348.8 L1214.3,337.2 L1210.1,337.2 L1210.1,341.3 L1206.9,341.3 L1206.9,334.0 L1202.8,334.0 L1202.8,335.8 L1199.6,335.8 L1199.6,330.5 L1196.6,330.5 L1196.6,322.9 L1192.6,322.9 L1192.6,327.3 L1189.2,327.3 L1189.2,325.7 L1185.2,325.7 L1185.2,317.1 L1182.6,317.1 L1182.6,316.1 L1179.6,316.1 L1179.6,315.0 L1175.5,315.0 L1175.5,313.7 L1172.8,313.7 L1172.8,308.2 L1170.2,308.2 L1170.2,313.8 L1166.4,313.8 L1166.4,309.6 L1164.1,309.6 L1164.1,301.5 L1160.5,301.5 L1160.5,301.2 L1158.1,301.2 L1158.1,296.3 L1154.3,296.3 L1154.3,298.6 L1150.7,298.6 L1150.7,290.1 L1147.7,290.1 L1147.7,296.5 L1144.1,296.5 L1144.1,292.9 L1141.3,292.9 L1141.3,281.6 L1138.9,281.6 L1138.9,286.6 L1136.2,286.6 L1136.2,283.3 L1132.7,283.3 L1132.7,281.1 L1128.8,281.1 L1128.8,279.1 L1125.9,279.1 L1125.9,271.5 L1123.3,271.5 L1123.3,269.6 L1120.4,269.6 L1120.4,267.5 L1117.3,267.5 L1117.3,253.7 L1113.9,253.7 L1113.9,257.8 L1110.9,257.8 L1110.9,255.2 L1107.0,255.2 L1107.0,241.3 L1104.6,241.3 L1104.6,238.3 L1102.4,238.3 L1102.4,242.3 L1099.2,242.3 L1099.2,239.8 L1097.0,239.8 L1097.0,238.8 L1093.2,238.8 L1093.2,230.6 L1089.3,230.6 L1089.3,227.9 L1085.9,227.9 L1085.9,224.6 L1083.1,224.6 L1083.1,218.3 L1079.2,218.3 L1079.2,217.1 L1075.7,217.1 L1075.7,211.5 L1073.3,211.5 L1073.3,215.1 L1070.3,215.1 L1070.3,209.3 L1066.4,209.3 L1066.4,205.6 L1062.4,205.6 L1062.4,205.9 L1058.8,205.9 L1058.8,204.6 L1055.0,204.6 L1055.0,204.5 L1051.2,204.5 L1051.2,204.0 L1048.3,204.0 L1048.3,202.9 L1044.6,202.9 L1044.6,199.3 L1041.1,199.3 L1041.1,201.4 L1037.1,201.4 L1037.1,197.8 L1033.9,197.8 L1033.9,195.6 L1031.2,195.6 L1031.2,197.7 L1028.1,197.7 L1028.1,197.0 L1025.5,197.0 L1025.5,193.8 L1022.8,193.8 L1022.8,192.8 L1018.9,192.8 L1018.9,192.4 L1016.2,192.4 L1016.2,190.9 L1012.5,190.9 L1012.5,191.9 L1008.3,190.5 L1008.3,190.5 L1005.9,189.8 L1005.9,189.8 L1001.8,188.5 L1001.8,188.5 L998.5,187.6 L998.5,187.6 L994.4,186.5 L994.4,186.5 L991.6,185.8 L991.6,185.8 L987.7,185.0 L987.7,185.0 L983.9,184.3 L983.9,184.3 L980.1,183.7 L980.1,183.7 L977.0,183.3 L977.0,183.3 L973.6,182.8 L973.6,182.8 L969.8,182.4 L969.8,182.4 L965.9,182.0 L965.9,182.0 L962.2,181.6 L962.2,181.6 L958.2,181.2 L958.2,181.2 L954.2,180.8 L954.2,180.8 L950.3,180.5 L950.3,180.5 L947.8,180.2 L947.8,180.2 L944.1,179.9 L944.1,179.9 L940.6,179.5 L940.6,179.5 L936.5,179.0 L936.5,179.0 L933.9,178.7 L933.9,178.7 L931.0,178.3 L931.0,178.3 L927.4,177.8 L927.4,177.8 L925.0,177.5 L925.0,177.5 L921.3,177.1 L921.3,177.1 L917.4,176.6 L917.4,176.6 L913.9,176.1 L913.9,176.1 L911.3,175.8 L911.3,175.8 L907.8,175.3 L907.8,175.3 L904.1,174.7 L904.1,174.7 L900.1,174.0 L900.1,174.0 L896.4,173.3 L896.4,173.3 L893.2,172.7 L893.2,172.7 L890.0,172.0 L890.0,172.0 L886.2,171.2 L886.2,171.2 L882.0,170.0 L882.0,170.0 L877.9,168.6 L877.9,168.6 L875.0,167.6 L875.0,167.6 L872.4,166.5 L872.4,166.5 L869.8,165.4 L869.8,165.4 L867.3,164.3 L867.3,164.3 L864.4,163.0 L864.4,163.0 L861.9,161.7 L861.9,161.7 L858.4,159.9 L858.4,159.9 L854.7,157.9 L854.7,157.9 L852.0,156.3 L852.0,156.3 L849.6,155.0 L849.6,155.0 L846.6,153.2 L846.6,153.2 L843.6,151.3 L843.6,151.3 L839.5,148.8ZM940.6,177.4 L944.1,177.4 L944.1,177.8 L947.8,177.8 L947.8,178.2 L950.3,178.2 L950.3,178.5 L954.2,178.5 L954.2,179.0 L958.2,179.0 L958.2,179.4 L962.2,179.4 L962.2,179.8 L965.9,179.8 L965.9,180.3 L969.8,180.3 L969.8,180.7 L973.6,180.7 L973.6,181.2 L977.0,181.2 L977.0,181.6 L980.1,181.6 L980.1,182.0 L983.9,182.0 L983.9,182.6 L987.7,182.6 L987.7,183.1 L991.6,183.1 L991.6,183.7 L994.4,183.7 L994.4,184.3 L998.5,184.3 L998.5,185.0 L1001.8,185.0 L1001.8,185.7 L1005.9,185.7 L1005.9,186.4 L1008.3,186.4 L1008.3,187.1 L1012.5,187.1 L1012.5,188.0 L1016.2,188.0 L1016.2,188.8 L1018.9,188.8 L1018.9,189.7 L1022.8,189.7 L1022.8,190.6 L1025.5,190.6 L1025.5,191.3 L1028.1,191.3 L1028.1,192.0 L1031.2,192.0 L1031.2,192.8 L1033.9,192.8 L1033.9,193.7 L1037.1,193.7 L1037.1,194.6 L1041.1,194.6 L1041.1,195.7 L1044.6,195.7 L1044.6,196.7 L1048.3,196.7 L1048.3,197.7 L1051.2,197.7 L1051.2,198.8 L1055.0,198.8 L1055.0,200.0 L1058.8,200.0 L1058.8,201.2 L1062.4,201.2 L1062.4,202.6 L1066.4,202.6 L1066.4,204.1 L1070.3,204.1 L1070.3,205.1 L1073.3,205.1 L1073.3,206.7 L1075.7,206.7 L1075.7,207.4 L1079.2,207.4 L1079.2,209.0 L1083.1,209.0 L1083.1,209.9 L1085.9,209.9 L1085.9,212.4 L1089.3,212.4 L1089.3,215.1 L1093.2,215.1 L1093.2,218.4 L1097.0,218.4 L1097.0,220.0 L1099.2,220.0 L1099.2,223.2 L1102.4,223.2 L1102.4,222.7 L1104.6,222.7 L1104.6,224.6 L1107.0,224.6 L1107.0,226.7 L1110.9,226.7 L1110.9,232.9 L1113.9,232.9 L1113.9,233.2 L1117.3,233.2 L1117.3,235.8 L1120.4,235.8 L1120.4,240.1 L1123.3,240.1 L1123.3,240.7 L1125.9,240.7 L1125.9,243.6 L1128.8,243.6 L1128.8,247.9 L1132.7,247.9 L1132.7,251.2 L1136.2,251.2 L1136.2,255.3 L1138.9,255.3 L1138.9,256.5 L1141.3,256.5 L1141.3,263.2 L1144.1,263.2 L1144.1,262.9 L1147.7,262.9 L1147.7,265.9 L1150.7,265.9 L1150.7,269.5 L1154.3,269.5 L1154.3,274.8 L1158.1,274.8 L1158.1,278.3 L1160.5,278.3 L1160.5,278.3 L1164.1,278.3 L1164.1,279.5 L1166.4,279.5 L1166.4,285.5 L1170.2,285.5 L1170.2,288.6 L1172.8,288.6 L1172.8,290.8 L1175.5,290.8 L1175.5,294.1 L1179.6,294.1 L1179.6,294.1 L1182.6,294.1 L1182.6,294.8 L1185.2,294.8 L1185.2,298.7 L1189.2,298.7 L1189.2,304.4 L1192.6,304.4 L1192.6,305.6 L1196.6,305.6 L1196.6,311.5 L1199.6,311.5 L1199.6,310.2 L1202.8,310.2 L1202.8,315.9 L1206.9,315.9 L1206.9,319.5 L1210.1,319.5 L1210.1,319.7 L1214.3,319.7 L1214.3,324.4 L1216.9,324.4 L1216.9,325.8 L1220.7,325.8 L1220.7,328.3 L1223.3,328.3 L1223.3,328.6 L1226.5,328.6 L1226.5,329.6 L1228.7,329.6 L1228.7,329.7 L1231.3,329.7 L1231.3,334.5 L1235.4,334.5 L1235.4,333.5 L1238.5,333.5 L1238.5,338.4 L1242.3,338.4 L1242.3,339.9 L1245.0,339.9 L1245.0,339.9 L1247.9,339.9 L1247.9,342.7 L1250.3,342.7 L1250.3,344.5 L1253.6,344.5 L1253.6,346.0 L1257.5,346.0 L1257.5,349.9 L1260.7,349.9 L1260.7,352.4 L1263.7,352.4 L1263.7,354.9 L1267.8,354.9 L1267.8,357.8 L1271.7,357.8 L1271.7,360.4 L1275.3,360.4 L1275.3,362.4 L1277.6,362.4 L1277.6,364.1 L1281.1,364.1 L1281.1,366.0 L1284.2,366.0 L1284.2,368.0 L1288.3,368.0 L1288.3,370.0 L1291.2,370.0 L1291.2,371.7 L1294.7,371.7 L1294.7,373.6 L1298.2,373.6 L1298.2,375.2 L1301.1,375.2 L1301.1,376.6 L1304.4,376.6 L1304.4,378.2 L1307.9,378.2 L1307.9,379.7 L1312.0,379.7 L1312.0,381.1 L1315.2,381.1 L1315.2,382.2 L1318.1,382.2 L1318.1,383.1 L1321.0,383.1 L1321.0,383.1 L1318.1,383.1 L1318.1,382.2 L1315.2,382.2 L1315.2,381.1 L1312.0,381.1 L1312.0,379.7 L1307.9,379.7 L1307.9,378.2 L1304.4,378.2 L1304.4,376.6 L1301.1,376.6 L1301.1,375.2 L1298.2,375.2 L1298.2,373.6 L1294.7,373.6 L1294.7,371.7 L1291.2,371.7 L1291.2,370.0 L1288.3,370.0 L1288.3,368.0 L1284.2,368.0 L1284.2,366.0 L1281.1,366.0 L1281.1,364.1 L1277.6,364.1 L1277.6,362.4 L1275.3,362.4 L1275.3,360.4 L1271.7,360.4 L1271.7,357.8 L1267.8,357.8 L1267.8,354.9 L1263.7,354.9 L1263.7,352.4 L1260.7,352.4 L1260.7,350.3 L1257.5,350.3 L1257.5,349.2 L1253.6,349.2 L1253.6,345.9 L1250.3,345.9 L1250.3,344.1 L1247.9,344.1 L1247.9,343.7 L1245.0,343.7 L1245.0,340.5 L1242.3,340.5 L1242.3,338.4 L1238.5,338.4 L1238.5,339.4 L1235.4,339.4 L1235.4,334.5 L1231.3,334.5 L1231.3,335.8 L1228.7,335.8 L1228.7,333.3 L1226.5,333.3 L1226.5,331.3 L1223.3,331.3 L1223.3,328.3 L1220.7,328.3 L1220.7,327.0 L1216.9,327.0 L1216.9,324.4 L1214.3,324.4 L1214.3,324.5 L1210.1,324.5 L1210.1,319.5 L1206.9,319.5 L1206.9,317.7 L1202.8,317.7 L1202.8,317.7 L1199.6,317.7 L1199.6,311.5 L1196.6,311.5 L1196.6,311.7 L1192.6,311.7 L1192.6,306.7 L1189.2,306.7 L1189.2,306.1 L1185.2,306.1 L1185.2,304.3 L1182.6,304.3 L1182.6,300.2 L1179.6,300.2 L1179.6,294.1 L1175.5,294.1 L1175.5,291.6 L1172.8,291.6 L1172.8,289.3 L1170.2,289.3 L1170.2,286.9 L1166.4,286.9 L1166.4,287.5 L1164.1,287.5 L1164.1,283.6 L1160.5,283.6 L1160.5,278.3 L1158.1,278.3 L1158.1,276.2 L1154.3,276.2 L1154.3,275.0 L1150.7,275.0 L1150.7,272.5 L1147.7,272.5 L1147.7,269.4 L1144.1,269.4 L1144.1,263.2 L1141.3,263.2 L1141.3,265.0 L1138.9,265.0 L1138.9,261.1 L1136.2,261.1 L1136.2,258.9 L1132.7,258.9 L1132.7,254.6 L1128.8,254.6 L1128.8,251.8 L1125.9,251.8 L1125.9,248.9 L1123.3,248.9 L1123.3,243.8 L1120.4,243.8 L1120.4,242.1 L1117.3,242.1 L1117.3,238.5 L1113.9,238.5 L1113.9,232.9 L1110.9,232.9 L1110.9,233.2 L1107.0,233.2 L1107.0,230.4 L1104.6,230.4 L1104.6,228.8 L1102.4,228.8 L1102.4,224.2 L1099.2,224.2 L1099.2,223.2 L1097.0,223.2 L1097.0,220.2 L1093.2,220.2 L1093.2,217.8 L1089.3,217.8 L1089.3,215.4 L1085.9,215.4 L1085.9,213.7 L1083.1,213.7 L1083.1,210.7 L1079.2,210.7 L1079.2,208.6 L1075.7,208.6 L1075.7,206.7 L1073.3,206.7 L1073.3,205.9 L1070.3,205.9 L1070.3,204.1 L1066.4,204.1 L1066.4,202.6 L1062.4,202.6 L1062.4,201.2 L1058.8,201.2 L1058.8,200.0 L1055.0,200.0 L1055.0,198.8 L1051.2,198.8 L1051.2,197.7 L1048.3,197.7 L1048.3,196.7 L1044.6,196.7 L1044.6,195.7 L1041.1,195.7 L1041.1,194.6 L1037.1,194.6 L1037.1,193.7 L1033.9,193.7 L1033.9,192.8 L1031.2,192.8 L1031.2,192.0 L1028.1,192.0 L1028.1,191.3 L1025.5,191.3 L1025.5,190.6 L1022.8,190.6 L1022.8,189.7 L1018.9,189.7 L1018.9,188.8 L1016.2,188.8 L1016.2,188.0 L1012.5,188.0 L1012.5,187.1 L1008.3,187.1 L1008.3,186.4 L1005.9,186.4 L1005.9,185.7 L1001.8,185.7 L1001.8,185.0 L998.5,185.0 L998.5,184.3 L994.4,184.3 L994.4,183.7 L991.6,183.7 L991.6,183.1 L987.7,183.1 L987.7,182.6 L983.9,182.6 L983.9,182.0 L980.1,182.0 L980.1,181.6 L977.0,181.6 L977.0,181.2 L973.6,181.2 L973.6,180.7 L969.8,180.7 L969.8,180.3 L965.9,180.3 L965.9,179.8 L962.2,179.8 L962.2,179.4 L958.2,179.4 L958.2,179.0 L954.2,179.0 L954.2,178.5 L950.3,178.5 L950.3,178.2 L947.8,178.2 L947.8,177.8 L944.1,177.8 L944.1,177.4 L940.6,177.4Z" fill="#ae9d31" fill-rule="evenodd"/><path d="M839.5,133.7 L843.3,136.0 L843.3,136.0 L845.9,137.5 L845.9,137.5 L849.8,139.7 L849.8,139.7 L853.6,141.8 L853.6,141.8 L856.9,143.6 L856.9,143.6 L859.1,144.7 L859.1,144.7 L862.9,146.6 L862.9,146.6 L865.1,147.8 L865.1,147.8 L868.4,149.3 L868.4,149.3 L871.4,150.7 L871.4,150.7 L873.7,151.7 L873.7,151.7 L877.2,153.2 L877.2,153.2 L880.8,154.6 L880.8,154.6 L884.2,155.9 L884.2,155.9 L887.2,157.0 L887.2,157.0 L890.4,158.0 L890.4,158.0 L893.8,159.1 L893.8,159.1 L896.5,159.9 L896.5,159.9 L900.4,161.0 L900.4,161.0 L904.6,162.2 L904.6,162.2 L908.4,163.2 L908.4,163.2 L912.5,164.2 L912.5,164.2 L915.4,164.9 L915.4,164.9 L919.6,165.9 L919.6,165.9 L921.9,166.5 L921.9,166.5 L925.1,167.2 L925.1,167.2 L927.5,167.7 L927.5,167.7 L930.6,168.4 L930.6,168.4 L934.2,169.2 L934.2,169.2 L937.8,170.0 L937.8,170.0 L940.9,170.7 L940.9,170.7 L943.8,171.4 L943.8,171.4 L946.4,172.0 L946.4,172.0 L949.4,172.7 L949.4,172.7 L952.2,173.4 L952.2,173.4 L954.7,174.0 L954.7,174.0 L958.4,174.8 L958.4,174.8 L961.6,175.5 L961.6,175.5 L964.7,176.1 L964.7,176.1 L967.3,176.6 L967.3,176.6 L970.9,177.2 L970.9,177.2 L973.5,177.6 L973.5,177.6 L976.3,178.0 L976.3,178.0 L979.6,178.3 L979.6,178.3 L983.2,178.6 L983.2,178.6 L987.3,178.9 L987.3,178.9 L991.0,179.0 L991.0,179.0 L995.1,179.2 L995.1,179.2 L999.2,179.3 L999.2,179.3 L1002.8,179.4 L1002.8,179.4 L1006.4,179.5 L1006.4,179.5 L1008.8,179.5 L1008.8,179.5 L1011.4,179.6 L1011.4,179.6 L1013.6,179.6 L1013.6,179.6 L1017.5,179.7 L1017.5,179.8 L1021.2,179.8 L1021.2,179.9 L1024.6,179.9 L1024.6,179.9 L1027.4,179.9 L1027.4,180.0 L1030.3,180.0 L1030.3,180.1 L1032.8,180.1 L1032.8,180.2 L1036.3,180.2 L1036.3,180.4 L1040.4,180.4 L1040.4,180.6 L1043.3,180.6 L1043.3,180.8 L1045.5,180.8 L1045.5,181.0 L1048.1,181.0 L1048.1,181.2 L1051.0,181.2 L1051.0,181.5 L1055.0,181.5 L1055.0,182.0 L1058.8,182.0 L1058.8,182.4 L1061.9,182.4 L1061.9,182.8 L1064.3,182.8 L1064.3,183.2 L1066.7,183.2 L1066.7,183.6 L1069.2,183.6 L1069.2,184.1 L1073.0,184.1 L1073.0,184.7 L1076.1,184.7 L1076.1,185.4 L1080.3,185.4 L1080.3,186.3 L1084.3,186.3 L1084.3,187.1 L1088.1,187.1 L1088.1,187.9 L1091.3,187.9 L1091.3,188.9 L1095.1,188.9 L1095.1,190.0 L1097.6,190.0 L1097.6,190.9 L1100.0,190.9 L1100.0,192.2 L1103.3,192.2 L1103.3,193.8 L1106.6,193.8 L1106.6,195.4 L1109.2,195.4 L1109.2,196.9 L1111.9,196.9 L1111.9,198.4 L1114.1,198.4 L1114.1,200.4 L1118.1,200.4 L1118.1,202.8 L1121.8,202.8 L1121.8,205.4 L1125.8,205.4 L1125.8,208.1 L1130.0,208.1 L1130.0,210.6 L1133.1,210.6 L1133.1,212.8 L1136.7,212.8 L1136.7,214.9 L1139.7,214.9 L1139.7,217.0 L1143.5,217.0 L1143.5,219.4 L1147.4,219.4 L1147.4,221.3 L1149.9,221.3 L1149.9,222.8 L1152.1,222.8 L1152.1,224.3 L1154.7,224.3 L1154.7,226.2 L1158.1,226.2 L1158.1,228.2 L1161.1,228.2 L1161.1,229.8 L1163.3,229.8 L1163.3,231.8 L1167.1,231.8 L1167.1,234.4 L1170.9,234.4 L1170.9,236.8 L1174.0,236.8 L1174.0,238.7 L1176.3,238.7 L1176.3,240.9 L1180.3,240.9 L1180.3,243.6 L1183.6,243.6 L1183.6,245.8 L1185.9,245.8 L1185.9,247.8 L1188.8,247.8 L1188.8,250.4 L1192.2,250.4 L1192.2,253.6 L1196.2,253.6 L1196.2,257.0 L1199.4,257.0 L1199.4,260.2 L1202.8,260.2 L1202.8,263.4 L1205.4,263.4 L1205.4,266.2 L1208.1,266.2 L1208.1,269.8 L1212.1,269.8 L1212.1,273.7 L1215.1,273.7 L1215.1,276.7 L1217.5,276.7 L1217.5,280.0 L1220.9,280.0 L1220.9,283.4 L1223.4,283.4 L1223.4,286.2 L1226.0,286.2 L1226.0,289.5 L1229.1,289.5 L1229.1,293.1 L1232.4,293.1 L1232.4,296.9 L1235.9,296.9 L1235.9,300.7 L1239.5,300.7 L1239.5,304.1 L1242.6,304.1 L1242.6,306.8 L1244.9,306.8 L1244.9,309.7 L1248.6,309.7 L1248.6,312.5 L1250.9,312.5 L1250.9,315.1 L1254.0,315.1 L1254.0,318.1 L1257.0,318.1 L1257.0,321.1 L1260.6,321.1 L1260.6,324.4 L1264.2,324.4 L1264.2,327.2 L1266.9,327.2 L1266.9,329.9 L1270.4,329.9 L1270.4,332.9 L1274.0,332.9 L1274.0,335.6 L1277.1,335.6 L1277.1,337.8 L1279.6,337.8 L1279.6,340.2 L1283.6,340.2 L1283.6,342.8 L1287.0,342.8 L1287.0,344.8 L1289.3,344.8 L1289.3,346.5 L1292.0,346.5 L1292.0,348.8 L1296.2,348.8 L1296.2,351.0 L1298.9,351.0 L1298.9,352.8 L1301.8,352.8 L1301.8,354.8 L1305.6,354.8 L1305.6,357.0 L1309.5,357.0 L1309.5,359.1 L1312.9,359.1 L1312.9,361.0 L1316.6,361.0 L1316.6,362.5 L1318.9,362.5 L1318.9,363.5 L1321.0,363.5 L1321.0,383.1 L1318.9,383.1 L1318.9,384.7 L1316.6,384.7 L1316.6,381.5 L1312.9,381.5 L1312.9,379.5 L1309.5,379.5 L1309.5,378.0 L1305.6,378.0 L1305.6,376.3 L1301.8,376.3 L1301.8,370.8 L1298.9,370.8 L1298.9,371.2 L1296.2,371.2 L1296.2,365.2 L1292.0,365.2 L1292.0,369.2 L1289.3,369.2 L1289.3,362.0 L1287.0,362.0 L1287.0,363.8 L1283.6,363.8 L1283.6,357.9 L1279.6,357.9 L1279.6,357.2 L1277.1,357.2 L1277.1,360.8 L1274.0,360.8 L1274.0,352.6 L1270.4,352.6 L1270.4,348.9 L1266.9,348.9 L1266.9,345.8 L1264.2,345.8 L1264.2,344.4 L1260.6,344.4 L1260.6,342.1 L1257.0,342.1 L1257.0,337.6 L1254.0,337.6 L1254.0,337.7 L1250.9,337.7 L1250.9,335.8 L1248.6,335.8 L1248.6,335.3 L1244.9,335.3 L1244.9,332.2 L1242.6,332.2 L1242.6,329.0 L1239.5,329.0 L1239.5,324.9 L1235.9,324.9 L1235.9,320.2 L1232.4,320.2 L1232.4,322.8 L1229.1,322.8 L1229.1,319.7 L1226.0,319.7 L1226.0,317.3 L1223.4,317.3 L1223.4,306.2 L1220.9,306.2 L1220.9,300.6 L1217.5,300.6 L1217.5,301.3 L1215.1,301.3 L1215.1,303.2 L1212.1,303.2 L1212.1,292.6 L1208.1,292.6 L1208.1,293.8 L1205.4,293.8 L1205.4,290.2 L1202.8,290.2 L1202.8,289.8 L1199.4,289.8 L1199.4,278.5 L1196.2,278.5 L1196.2,275.0 L1192.2,275.0 L1192.2,272.8 L1188.8,272.8 L1188.8,276.7 L1185.9,276.7 L1185.9,271.8 L1183.6,271.8 L1183.6,267.4 L1180.3,267.4 L1180.3,260.1 L1176.3,260.1 L1176.3,266.1 L1174.0,266.1 L1174.0,260.8 L1170.9,260.8 L1170.9,260.2 L1167.1,260.2 L1167.1,253.1 L1163.3,253.1 L1163.3,255.7 L1161.1,255.7 L1161.1,250.7 L1158.1,250.7 L1158.1,245.2 L1154.7,245.2 L1154.7,243.0 L1152.1,243.0 L1152.1,248.3 L1149.9,248.3 L1149.9,240.4 L1147.4,240.4 L1147.4,244.6 L1143.5,244.6 L1143.5,238.7 L1139.7,238.7 L1139.7,237.4 L1136.7,237.4 L1136.7,233.2 L1133.1,233.2 L1133.1,235.1 L1130.0,235.1 L1130.0,232.7 L1125.8,232.7 L1125.8,224.0 L1121.8,224.0 L1121.8,223.4 L1118.1,223.4 L1118.1,220.9 L1114.1,220.9 L1114.1,220.2 L1111.9,220.2 L1111.9,215.9 L1109.2,215.9 L1109.2,216.8 L1106.6,216.8 L1106.6,212.6 L1103.3,212.6 L1103.3,218.6 L1100.0,218.6 L1100.0,209.0 L1097.6,209.0 L1097.6,208.1 L1095.1,208.1 L1095.1,207.7 L1091.3,207.7 L1091.3,212.0 L1088.1,212.0 L1088.1,207.2 L1084.3,207.2 L1084.3,208.3 L1080.3,208.3 L1080.3,201.9 L1076.1,201.9 L1076.1,204.9 L1073.0,204.9 L1073.0,200.1 L1069.2,200.1 L1069.2,197.3 L1066.7,197.3 L1066.7,201.9 L1064.3,201.9 L1064.3,197.2 L1061.9,197.2 L1061.9,200.5 L1058.8,200.5 L1058.8,198.5 L1055.0,198.5 L1055.0,196.7 L1051.0,196.7 L1051.0,192.6 L1048.1,192.6 L1048.1,193.2 L1045.5,193.2 L1045.5,191.4 L1043.3,191.4 L1043.3,191.8 L1040.4,191.8 L1040.4,192.8 L1036.3,192.8 L1036.3,189.5 L1032.8,189.5 L1032.8,191.1 L1030.3,191.1 L1030.3,191.0 L1027.4,191.0 L1027.4,190.4 L1024.6,190.4 L1024.6,187.9 L1021.2,187.9 L1021.2,187.0 L1017.5,187.0 L1017.5,188.7 L1013.6,187.9 L1013.6,187.9 L1011.4,187.4 L1011.4,187.4 L1008.8,186.9 L1008.8,186.9 L1006.4,186.4 L1006.4,186.4 L1002.8,185.8 L1002.8,185.8 L999.2,185.1 L999.2,185.1 L995.1,184.3 L995.1,184.3 L991.0,183.6 L991.0,183.6 L987.3,182.9 L987.3,182.9 L983.2,182.1 L983.2,182.1 L979.6,181.5 L979.6,181.5 L976.3,180.9 L976.3,180.9 L973.5,180.5 L973.5,180.5 L970.9,180.1 L970.9,180.1 L967.3,179.5 L967.3,179.5 L964.7,179.1 L964.7,179.1 L961.6,178.6 L961.6,178.6 L958.4,178.1 L958.4,178.1 L954.7,177.5 L954.7,177.5 L952.2,177.1 L952.2,177.1 L949.4,176.7 L949.4,176.7 L946.4,176.2 L946.4,176.2 L943.8,175.7 L943.8,175.7 L940.9,175.2 L940.9,175.2 L937.8,174.7 L937.8,174.7 L934.2,174.0 L934.2,174.0 L930.6,173.3 L930.6,173.3 L927.5,172.8 L927.5,172.8 L925.1,172.3 L925.1,172.3 L921.9,171.7 L921.9,171.7 L919.6,171.3 L919.6,171.3 L915.4,170.4 L915.4,170.4 L912.5,169.9 L912.5,169.9 L908.4,169.0 L908.4,169.0 L904.6,168.1 L904.6,168.1 L900.4,167.2 L900.4,167.2 L896.5,166.2 L896.5,166.2 L893.8,165.5 L893.8,165.5 L890.4,164.5 L890.4,164.5 L887.2,163.6 L887.2,163.6 L884.2,162.6 L884.2,162.6 L880.8,161.4 L880.8,161.4 L877.2,160.1 L877.2,160.1 L873.7,158.6 L873.7,158.6 L871.4,157.6 L871.4,157.6 L868.4,156.3 L868.4,156.3 L865.1,154.8 L865.1,154.8 L862.9,153.7 L862.9,153.7 L859.1,151.8 L859.1,151.8 L856.9,150.6 L856.9,150.6 L853.6,148.8 L853.6,148.8 L849.8,146.7 L849.8,146.7 L845.9,144.4 L845.9,144.4 L843.3,142.9 L843.3,142.9 L839.5,140.6Z" fill="#77ab31" fill-rule="evenodd"/><path d="M839.5,125.6 L843.7,127.9 L843.7,127.9 L847.2,129.9 L847.2,129.9 L851.2,132.1 L851.2,132.1 L855.0,134.1 L855.0,134.1 L858.8,136.1 L858.8,136.1 L863.0,138.3 L863.0,138.3 L866.7,140.1 L866.7,140.1 L869.5,141.4 L869.5,141.4 L872.2,142.7 L872.2,142.7 L875.2,144.0 L875.2,144.0 L877.4,145.0 L877.4,145.0 L880.1,146.2 L880.1,146.2 L884.1,147.9 L884.1,147.9 L888.1,149.5 L888.1,149.5 L891.0,150.6 L891.0,150.6 L894.7,152.0 L894.7,152.0 L898.5,153.3 L898.5,153.3 L902.4,154.7 L902.4,154.7 L906.2,156.0 L906.2,156.0 L909.5,157.1 L909.5,157.1 L911.9,157.9 L911.9,157.9 L915.8,159.1 L915.8,159.1 L918.6,160.0 L918.6,160.0 L922.0,161.0 L922.0,161.0 L925.0,161.9 L925.0,161.9 L928.2,162.8 L928.2,162.8 L932.4,164.0 L932.4,164.0 L934.9,164.7 L934.9,164.7 L938.2,165.6 L938.2,165.6 L941.7,166.6 L941.7,166.6 L944.9,167.6 L944.9,167.6 L949.0,168.8 L949.0,168.8 L952.0,169.7 L952.0,169.7 L956.1,170.8 L956.1,170.8 L959.6,171.8 L959.6,171.8 L963.8,172.9 L963.8,172.9 L966.2,173.5 L966.2,173.5 L968.8,174.1 L968.8,174.1 L971.6,174.7 L971.6,174.7 L975.6,175.4 L975.6,175.4 L977.8,175.8 L977.8,175.8 L980.5,176.2 L980.5,176.2 L984.1,176.7 L984.1,176.7 L988.3,177.1 L988.3,177.1 L990.9,177.3 L990.9,177.3 L994.0,177.6 L994.0,177.6 L997.5,177.9 L997.5,177.9 L1001.1,178.1 L1001.1,178.1 L1004.8,178.4 L1004.8,178.4 L1008.5,178.6 L1008.5,178.6 L1011.2,178.7 L1011.2,178.7 L1013.9,178.9 L1013.9,178.9 L1016.2,179.0 L1016.2,179.0 L1019.8,179.2 L1019.8,179.2 L1022.4,179.3 L1022.4,179.4 L1025.1,179.4 L1025.1,179.6 L1029.2,179.6 L1029.2,179.8 L1032.7,179.8 L1032.7,180.1 L1036.1,180.1 L1036.1,180.3 L1039.6,180.3 L1039.6,180.6 L1043.0,180.6 L1043.0,180.9 L1046.6,180.9 L1046.6,181.1 L1049.4,181.1 L1049.4,181.3 L1051.7,181.3 L1051.7,181.5 L1054.1,181.5 L1054.1,181.7 L1056.3,181.7 L1056.3,181.9 L1059.2,181.9 L1059.2,182.1 L1061.7,182.1 L1061.7,182.3 L1064.1,182.3 L1064.1,182.6 L1067.3,182.6 L1067.3,182.9 L1071.4,182.9 L1071.4,183.3 L1075.0,183.3 L1075.0,183.7 L1077.8,183.7 L1077.8,184.0 L1081.5,184.0 L1081.5,184.4 L1084.1,184.4 L1084.1,184.8 L1086.5,184.8 L1086.5,185.2 L1089.3,185.2 L1089.3,185.6 L1092.3,185.6 L1092.3,186.3 L1095.9,186.3 L1095.9,187.1 L1099.0,187.1 L1099.0,188.1 L1102.6,188.1 L1102.6,189.1 L1105.0,189.1 L1105.0,190.3 L1109.1,190.3 L1109.1,191.6 L1112.0,191.6 L1112.0,193.1 L1115.8,193.1 L1115.8,194.4 L1118.1,194.4 L1118.1,195.9 L1121.9,195.9 L1121.9,197.5 L1124.6,197.5 L1124.6,199.1 L1128.5,199.1 L1128.5,201.1 L1132.3,201.1 L1132.3,202.9 L1135.8,202.9 L1135.8,204.6 L1138.6,204.6 L1138.6,205.9 L1140.8,205.9 L1140.8,207.1 L1143.4,207.1 L1143.4,208.9 L1147.4,208.9 L1147.4,210.7 L1149.9,210.7 L1149.9,212.5 L1153.4,212.5 L1153.4,214.6 L1156.8,214.6 L1156.8,216.7 L1160.3,216.7 L1160.3,218.7 L1162.9,218.7 L1162.9,220.4 L1165.4,220.4 L1165.4,222.1 L1167.8,222.1 L1167.8,224.4 L1171.9,224.4 L1171.9,227.0 L1174.9,227.0 L1174.9,229.4 L1178.4,229.4 L1178.4,232.0 L1181.8,232.0 L1181.8,234.4 L1184.4,234.4 L1184.4,236.4 L1186.7,236.4 L1186.7,238.2 L1189.0,238.2 L1189.0,240.8 L1192.9,240.8 L1192.9,243.6 L1195.3,243.6 L1195.3,246.8 L1199.5,246.8 L1199.5,250.4 L1202.4,250.4 L1202.4,253.9 L1206.0,253.9 L1206.0,257.3 L1208.5,257.3 L1208.5,260.8 L1212.3,260.8 L1212.3,264.6 L1215.0,264.6 L1215.0,267.9 L1217.9,267.9 L1217.9,271.6 L1221.2,271.6 L1221.2,275.0 L1223.6,275.0 L1223.6,278.0 L1226.3,278.0 L1226.3,281.9 L1230.1,281.9 L1230.1,285.7 L1232.8,285.7 L1232.8,288.9 L1235.8,288.9 L1235.8,292.6 L1239.5,292.6 L1239.5,295.9 L1242.2,295.9 L1242.2,298.5 L1244.8,298.5 L1244.8,301.0 L1247.4,301.0 L1247.4,303.7 L1250.4,303.7 L1250.4,306.4 L1253.3,306.4 L1253.3,309.3 L1256.8,309.3 L1256.8,312.3 L1259.9,312.3 L1259.9,315.4 L1263.9,315.4 L1263.9,318.0 L1266.2,318.0 L1266.2,320.5 L1269.7,320.5 L1269.7,323.5 L1273.6,323.5 L1273.6,326.1 L1276.2,326.1 L1276.2,328.0 L1278.5,328.0 L1278.5,330.0 L1281.6,330.0 L1281.6,332.1 L1284.0,332.1 L1284.0,334.1 L1287.1,334.1 L1287.1,336.5 L1290.8,336.5 L1290.8,338.7 L1293.1,338.7 L1293.1,340.3 L1295.6,340.3 L1295.6,342.3 L1298.7,342.3 L1298.7,344.2 L1301.3,344.2 L1301.3,345.9 L1303.9,345.9 L1303.9,347.8 L1307.0,347.8 L1307.0,349.5 L1309.5,349.5 L1309.5,351.0 L1311.8,351.0 L1311.8,352.6 L1314.7,352.6 L1314.7,354.3 L1317.9,354.3 L1317.9,356.1 L1321.0,356.1 L1321.0,378.1 L1317.9,378.1 L1317.9,370.3 L1314.7,370.3 L1314.7,375.2 L1311.8,375.2 L1311.8,372.9 L1309.5,372.9 L1309.5,372.3 L1307.0,372.3 L1307.0,366.1 L1303.9,366.1 L1303.9,365.6 L1301.3,365.6 L1301.3,364.9 L1298.7,364.9 L1298.7,364.6 L1295.6,364.6 L1295.6,359.9 L1293.1,359.9 L1293.1,363.3 L1290.8,363.3 L1290.8,354.4 L1287.1,354.4 L1287.1,357.6 L1284.0,357.6 L1284.0,353.9 L1281.6,353.9 L1281.6,354.8 L1278.5,354.8 L1278.5,347.4 L1276.2,347.4 L1276.2,348.2 L1273.6,348.2 L1273.6,345.1 L1269.7,345.1 L1269.7,342.7 L1266.2,342.7 L1266.2,334.8 L1263.9,334.8 L1263.9,338.1 L1259.9,338.1 L1259.9,333.0 L1256.8,333.0 L1256.8,325.5 L1253.3,325.5 L1253.3,328.9 L1250.4,328.9 L1250.4,321.0 L1247.4,321.0 L1247.4,323.3 L1244.8,323.3 L1244.8,317.6 L1242.2,317.6 L1242.2,312.0 L1239.5,312.0 L1239.5,312.7 L1235.8,312.7 L1235.8,305.4 L1232.8,305.4 L1232.8,305.8 L1230.1,305.8 L1230.1,302.3 L1226.3,302.3 L1226.3,300.6 L1223.6,300.6 L1223.6,291.8 L1221.2,291.8 L1221.2,296.3 L1217.9,296.3 L1217.9,287.2 L1215.0,287.2 L1215.0,286.3 L1212.3,286.3 L1212.3,278.1 L1208.5,278.1 L1208.5,277.7 L1206.0,277.7 L1206.0,273.0 L1202.4,273.0 L1202.4,274.4 L1199.5,274.4 L1199.5,271.4 L1195.3,271.4 L1195.3,265.7 L1192.9,265.7 L1192.9,266.4 L1189.0,266.4 L1189.0,262.3 L1186.7,262.3 L1186.7,261.7 L1184.4,261.7 L1184.4,252.5 L1181.8,252.5 L1181.8,252.9 L1178.4,252.9 L1178.4,253.7 L1174.9,253.7 L1174.9,251.8 L1171.9,251.8 L1171.9,242.8 L1167.8,242.8 L1167.8,245.4 L1165.4,245.4 L1165.4,239.3 L1162.9,239.3 L1162.9,238.7 L1160.3,238.7 L1160.3,234.9 L1156.8,234.9 L1156.8,234.0 L1153.4,234.0 L1153.4,237.9 L1149.9,237.9 L1149.9,231.4 L1147.4,231.4 L1147.4,229.9 L1143.4,229.9 L1143.4,228.9 L1140.8,228.9 L1140.8,229.8 L1138.6,229.8 L1138.6,225.6 L1135.8,225.6 L1135.8,222.0 L1132.3,222.0 L1132.3,222.0 L1128.5,222.0 L1128.5,223.3 L1124.6,223.3 L1124.6,217.3 L1121.9,217.3 L1121.9,214.3 L1118.1,214.3 L1118.1,217.4 L1115.8,217.4 L1115.8,214.3 L1112.0,214.3 L1112.0,210.2 L1109.1,210.2 L1109.1,204.8 L1105.0,204.8 L1105.0,209.2 L1102.6,209.2 L1102.6,206.1 L1099.0,206.1 L1099.0,202.7 L1095.9,202.7 L1095.9,204.2 L1092.3,204.2 L1092.3,202.4 L1089.3,202.4 L1089.3,200.7 L1086.5,200.7 L1086.5,202.1 L1084.1,202.1 L1084.1,197.9 L1081.5,197.9 L1081.5,198.5 L1077.8,198.5 L1077.8,195.4 L1075.0,195.4 L1075.0,197.9 L1071.4,197.9 L1071.4,197.9 L1067.3,197.9 L1067.3,196.5 L1064.1,196.5 L1064.1,193.2 L1061.7,193.2 L1061.7,195.6 L1059.2,195.6 L1059.2,194.8 L1056.3,194.8 L1056.3,193.2 L1054.1,193.2 L1054.1,191.3 L1051.7,191.3 L1051.7,193.9 L1049.4,193.9 L1049.4,190.8 L1046.6,190.8 L1046.6,189.9 L1043.0,189.9 L1043.0,189.6 L1039.6,189.6 L1039.6,189.9 L1036.1,189.9 L1036.1,188.8 L1032.7,188.8 L1032.7,189.5 L1029.2,189.5 L1029.2,189.0 L1025.1,189.0 L1025.1,187.4 L1022.4,187.4 L1022.4,188.2 L1019.8,187.7 L1019.8,187.7 L1016.2,186.9 L1016.2,186.9 L1013.9,186.5 L1013.9,186.5 L1011.2,185.9 L1011.2,185.9 L1008.5,185.4 L1008.5,185.4 L1004.8,184.6 L1004.8,184.6 L1001.1,183.8 L1001.1,183.8 L997.5,183.1 L997.5,183.1 L994.0,182.4 L994.0,182.4 L990.9,181.7 L990.9,181.7 L988.3,181.2 L988.3,181.2 L984.1,180.3 L984.1,180.3 L980.5,179.5 L980.5,179.5 L977.8,179.0 L977.8,179.0 L975.6,178.5 L975.6,178.5 L971.6,177.7 L971.6,177.7 L968.8,177.1 L968.8,177.1 L966.2,176.5 L966.2,176.5 L963.8,176.0 L963.8,176.0 L959.6,175.2 L959.6,175.2 L956.1,174.4 L956.1,174.4 L952.0,173.5 L952.0,173.5 L949.0,172.8 L949.0,172.8 L944.9,171.9 L944.9,171.9 L941.7,171.2 L941.7,171.2 L938.2,170.3 L938.2,170.3 L934.9,169.5 L934.9,169.5 L932.4,168.9 L932.4,168.9 L928.2,167.9 L928.2,167.9 L925.0,167.0 L925.0,167.0 L922.0,166.3 L922.0,166.3 L918.6,165.4 L918.6,165.4 L915.8,164.6 L915.8,164.6 L911.9,163.5 L911.9,163.5 L909.5,162.9 L909.5,162.9 L906.2,161.9 L906.2,161.9 L902.4,160.8 L902.4,160.8 L898.5,159.6 L898.5,159.6 L894.7,158.3 L894.7,158.3 L891.0,157.1 L891.0,157.1 L888.1,156.1 L888.1,156.1 L884.1,154.6 L884.1,154.6 L880.1,153.0 L880.1,153.0 L877.4,151.9 L877.4,151.9 L875.2,150.9 L875.2,150.9 L872.2,149.6 L872.2,149.6 L869.5,148.4 L869.5,148.4 L866.7,147.1 L866.7,147.1 L863.0,145.3 L863.0,145.3 L858.8,143.1 L858.8,143.1 L855.0,141.1 L855.0,141.1 L851.2,139.1 L851.2,139.1 L847.2,136.9 L847.2,136.9 L843.7,134.9 L843.7,134.9 L839.5,132.5Z" fill="#33b07a" fill-rule="evenodd"/><path d="M839.5,117.4 L842.0,118.8 L842.0,118.8 L845.2,120.6 L845.2,120.6 L848.6,122.4 L848.6,122.4 L852.6,124.5 L852.6,124.5 L854.9,125.7 L854.9,125.7 L857.5,127.1 L857.5,127.1 L860.1,128.4 L860.1,128.4 L863.4,130.1 L863.4,130.1 L866.5,131.6 L866.5,131.6 L869.6,133.1 L869.6,133.1 L873.5,135.0 L873.5,135.0 L877.1,136.7 L877.1,136.7 L881.0,138.5 L881.0,138.5 L885.1,140.3 L885.1,140.3 L887.8,141.6 L887.8,141.6 L891.9,143.3 L891.9,143.3 L894.9,144.6 L894.9,144.6 L897.2,145.6 L897.2,145.6 L901.3,147.3 L901.3,147.3 L903.7,148.3 L903.7,148.3 L905.9,149.2 L905.9,149.2 L908.7,150.3 L908.7,150.3 L911.5,151.5 L911.5,151.5 L915.6,153.1 L915.6,153.1 L919.5,154.6 L919.5,154.6 L922.6,155.7 L922.6,155.7 L925.8,156.9 L925.8,156.9 L929.7,158.3 L929.7,158.3 L933.6,159.6 L933.6,159.6 L937.1,160.8 L937.1,160.8 L940.3,161.9 L940.3,161.9 L942.7,162.8 L942.7,162.8 L945.4,163.7 L945.4,163.7 L948.9,164.9 L948.9,164.9 L952.3,166.1 L952.3,166.1 L956.1,167.4 L956.1,167.4 L960.1,168.7 L960.1,168.7 L964.2,170.0 L964.2,170.0 L966.8,170.7 L966.8,170.7 L969.2,171.4 L969.2,171.4 L973.2,172.4 L973.2,172.4 L976.5,173.2 L976.5,173.2 L979.1,173.8 L979.1,173.8 L982.6,174.4 L982.6,174.4 L985.4,174.9 L985.4,174.9 L988.0,175.3 L988.0,175.3 L991.0,175.7 L991.0,175.7 L994.2,176.1 L994.2,176.1 L997.8,176.5 L997.8,176.5 L1000.1,176.8 L1000.1,176.8 L1003.8,177.2 L1003.8,177.2 L1007.2,177.5 L1007.2,177.5 L1010.4,177.8 L1010.4,177.8 L1013.9,178.1 L1013.9,178.1 L1017.7,178.5 L1017.7,178.5 L1019.9,178.7 L1019.9,178.7 L1023.1,178.9 L1023.1,178.9 L1026.7,179.3 L1026.7,179.3 L1030.3,179.6 L1030.3,179.6 L1033.8,179.9 L1033.8,180.0 L1036.3,180.0 L1036.3,180.3 L1040.4,180.3 L1040.4,180.7 L1044.2,180.7 L1044.2,181.1 L1046.9,181.1 L1046.9,181.3 L1049.9,181.3 L1049.9,181.7 L1054.1,181.7 L1054.1,182.0 L1056.7,182.0 L1056.7,182.3 L1059.7,182.3 L1059.7,182.6 L1063.8,182.6 L1063.8,183.0 L1067.8,183.0 L1067.8,183.3 L1070.5,183.3 L1070.5,183.6 L1074.1,183.6 L1074.1,184.0 L1077.1,184.0 L1077.1,184.3 L1080.6,184.3 L1080.6,184.7 L1084.3,184.7 L1084.3,185.0 L1086.8,185.0 L1086.8,185.3 L1089.4,185.3 L1089.4,185.6 L1092.1,185.6 L1092.1,185.9 L1094.8,185.9 L1094.8,186.1 L1097.1,186.1 L1097.1,186.4 L1099.5,186.4 L1099.5,186.7 L1102.5,186.7 L1102.5,187.0 L1105.6,187.0 L1105.6,187.3 L1107.9,187.3 L1107.9,187.6 L1111.3,187.6 L1111.3,188.0 L1115.4,188.0 L1115.4,188.4 L1118.7,188.4 L1118.7,188.8 L1121.7,188.8 L1121.7,189.3 L1125.3,189.3 L1125.3,189.7 L1128.3,189.7 L1128.3,190.2 L1130.9,190.2 L1130.9,190.6 L1134.1,190.6 L1134.1,191.1 L1136.3,191.1 L1136.3,191.6 L1139.8,191.6 L1139.8,192.2 L1142.4,192.2 L1142.4,192.9 L1145.3,192.9 L1145.3,193.8 L1149.4,193.8 L1149.4,195.0 L1153.2,195.0 L1153.2,196.2 L1157.0,196.2 L1157.0,197.6 L1160.5,197.6 L1160.5,199.0 L1164.0,199.0 L1164.0,200.6 L1167.6,200.6 L1167.6,202.4 L1171.7,202.4 L1171.7,204.1 L1174.3,204.1 L1174.3,205.8 L1178.1,205.8 L1178.1,207.6 L1180.9,207.6 L1180.9,209.2 L1183.6,209.2 L1183.6,211.2 L1187.4,211.2 L1187.4,213.4 L1190.8,213.4 L1190.8,215.9 L1194.7,215.9 L1194.7,219.3 L1198.7,219.3 L1198.7,222.9 L1202.0,222.9 L1202.0,226.2 L1204.6,226.2 L1204.6,229.0 L1206.9,229.0 L1206.9,232.4 L1210.1,232.4 L1210.1,237.0 L1213.8,237.0 L1213.8,241.3 L1216.5,241.3 L1216.5,244.8 L1218.9,244.8 L1218.9,248.0 L1221.1,248.0 L1221.1,251.4 L1223.6,251.4 L1223.6,255.8 L1227.2,255.8 L1227.2,259.8 L1229.4,259.8 L1229.4,263.2 L1232.1,263.2 L1232.1,266.9 L1234.8,266.9 L1234.8,271.1 L1238.4,271.1 L1238.4,275.9 L1242.6,275.9 L1242.6,279.6 L1244.9,279.6 L1244.9,282.1 L1247.3,282.1 L1247.3,285.6 L1251.4,285.6 L1251.4,289.8 L1255.5,289.8 L1255.5,293.2 L1258.0,293.2 L1258.0,295.8 L1260.9,295.8 L1260.9,298.8 L1264.1,298.8 L1264.1,301.7 L1266.9,301.7 L1266.9,304.5 L1270.0,304.5 L1270.0,307.4 L1273.1,307.4 L1273.1,310.1 L1275.9,310.1 L1275.9,312.3 L1278.2,312.3 L1278.2,314.4 L1280.5,314.4 L1280.5,316.6 L1283.1,316.6 L1283.1,318.7 L1285.4,318.7 L1285.4,321.2 L1288.9,321.2 L1288.9,324.2 L1292.5,324.2 L1292.5,326.9 L1295.2,326.9 L1295.2,329.6 L1299.0,329.6 L1299.0,332.6 L1302.6,332.6 L1302.6,335.2 L1305.5,335.2 L1305.5,337.6 L1308.7,337.6 L1308.7,339.8 L1311.3,339.8 L1311.3,342.4 L1315.4,342.4 L1315.4,345.1 L1318.7,345.1 L1318.7,347.2 L1321.0,347.2 L1321.0,348.0 L1321.0,348.0 L1321.0,372.4 L1321.0,372.4 L1321.0,369.8 L1318.7,369.8 L1318.7,365.4 L1315.4,365.4 L1315.4,364.4 L1311.3,364.4 L1311.3,365.4 L1308.7,365.4 L1308.7,356.4 L1305.5,356.4 L1305.5,353.6 L1302.6,353.6 L1302.6,360.4 L1299.0,360.4 L1299.0,355.5 L1295.2,355.5 L1295.2,349.6 L1292.5,349.6 L1292.5,349.1 L1288.9,349.1 L1288.9,350.2 L1285.4,350.2 L1285.4,342.6 L1283.1,342.6 L1283.1,337.3 L1280.5,337.3 L1280.5,335.5 L1278.2,335.5 L1278.2,338.8 L1275.9,338.8 L1275.9,337.7 L1273.1,337.7 L1273.1,330.8 L1270.0,330.8 L1270.0,328.8 L1266.9,328.8 L1266.9,329.0 L1264.1,329.0 L1264.1,328.2 L1260.9,328.2 L1260.9,326.6 L1258.0,326.6 L1258.0,318.9 L1255.5,318.9 L1255.5,320.8 L1251.4,320.8 L1251.4,314.2 L1247.3,314.2 L1247.3,312.2 L1244.9,312.2 L1244.9,313.9 L1242.6,313.9 L1242.6,310.2 L1238.4,310.2 L1238.4,297.4 L1234.8,297.4 L1234.8,297.0 L1232.1,297.0 L1232.1,291.5 L1229.4,291.5 L1229.4,293.3 L1227.2,293.3 L1227.2,287.9 L1223.6,287.9 L1223.6,284.4 L1221.1,284.4 L1221.1,286.6 L1218.9,286.6 L1218.9,282.9 L1216.5,282.9 L1216.5,276.4 L1213.8,276.4 L1213.8,267.3 L1210.1,267.3 L1210.1,262.6 L1206.9,262.6 L1206.9,269.6 L1204.6,269.6 L1204.6,262.3 L1202.0,262.3 L1202.0,265.1 L1198.7,265.1 L1198.7,260.9 L1194.7,260.9 L1194.7,250.5 L1190.8,250.5 L1190.8,254.5 L1187.4,254.5 L1187.4,242.9 L1183.6,242.9 L1183.6,245.6 L1180.9,245.6 L1180.9,243.6 L1178.1,243.6 L1178.1,234.9 L1174.3,234.9 L1174.3,230.5 L1171.7,230.5 L1171.7,231.2 L1167.6,231.2 L1167.6,227.2 L1164.0,227.2 L1164.0,225.5 L1160.5,225.5 L1160.5,230.5 L1157.0,230.5 L1157.0,229.1 L1153.2,229.1 L1153.2,225.6 L1149.4,225.6 L1149.4,218.7 L1145.3,218.7 L1145.3,220.8 L1142.4,220.8 L1142.4,220.5 L1139.8,220.5 L1139.8,211.8 L1136.3,211.8 L1136.3,213.2 L1134.1,213.2 L1134.1,211.2 L1130.9,211.2 L1130.9,210.3 L1128.3,210.3 L1128.3,211.8 L1125.3,211.8 L1125.3,210.5 L1121.7,210.5 L1121.7,205.2 L1118.7,205.2 L1118.7,208.2 L1115.4,208.2 L1115.4,202.2 L1111.3,202.2 L1111.3,201.7 L1107.9,201.7 L1107.9,201.0 L1105.6,201.0 L1105.6,200.7 L1102.5,200.7 L1102.5,199.5 L1099.5,199.5 L1099.5,197.1 L1097.1,197.1 L1097.1,198.3 L1094.8,198.3 L1094.8,196.0 L1092.1,196.0 L1092.1,196.6 L1089.4,196.6 L1089.4,196.2 L1086.8,196.2 L1086.8,194.5 L1084.3,194.5 L1084.3,193.7 L1080.6,193.7 L1080.6,194.7 L1077.1,194.7 L1077.1,193.9 L1074.1,193.9 L1074.1,192.0 L1070.5,192.0 L1070.5,191.6 L1067.8,191.6 L1067.8,191.5 L1063.8,191.5 L1063.8,192.3 L1059.7,192.3 L1059.7,191.0 L1056.7,191.0 L1056.7,191.9 L1054.1,191.9 L1054.1,189.8 L1049.9,189.8 L1049.9,189.4 L1046.9,189.4 L1046.9,190.3 L1044.2,190.3 L1044.2,188.8 L1040.4,188.8 L1040.4,188.9 L1036.3,188.9 L1036.3,187.7 L1033.8,187.7 L1033.8,188.9 L1030.3,188.3 L1030.3,188.3 L1026.7,187.6 L1026.7,187.6 L1023.1,186.9 L1023.1,186.9 L1019.9,186.3 L1019.9,186.3 L1017.7,185.8 L1017.7,185.8 L1013.9,185.0 L1013.9,185.0 L1010.4,184.3 L1010.4,184.3 L1007.2,183.6 L1007.2,183.6 L1003.8,182.8 L1003.8,182.8 L1000.1,182.0 L1000.1,182.0 L997.8,181.5 L997.8,181.5 L994.2,180.7 L994.2,180.7 L991.0,179.9 L991.0,179.9 L988.0,179.2 L988.0,179.2 L985.4,178.6 L985.4,178.6 L982.6,177.9 L982.6,177.9 L979.1,177.1 L979.1,177.1 L976.5,176.4 L976.5,176.4 L973.2,175.6 L973.2,175.6 L969.2,174.6 L969.2,174.6 L966.8,174.0 L966.8,174.0 L964.2,173.3 L964.2,173.3 L960.1,172.2 L960.1,172.2 L956.1,171.1 L956.1,171.1 L952.3,170.0 L952.3,170.0 L948.9,169.1 L948.9,169.1 L945.4,168.0 L945.4,168.0 L942.7,167.3 L942.7,167.3 L940.3,166.5 L940.3,166.5 L937.1,165.5 L937.1,165.5 L933.6,164.5 L933.6,164.5 L929.7,163.3 L929.7,163.3 L925.8,162.0 L925.8,162.0 L922.6,161.0 L922.6,161.0 L919.5,159.9 L919.5,159.9 L915.6,158.6 L915.6,158.6 L911.5,157.2 L911.5,157.2 L908.7,156.2 L908.7,156.2 L905.9,155.2 L905.9,155.2 L903.7,154.3 L903.7,154.3 L901.3,153.4 L901.3,153.4 L897.2,151.9 L897.2,151.9 L894.9,151.0 L894.9,151.0 L891.9,149.8 L891.9,149.8 L887.8,148.2 L887.8,148.2 L885.1,147.0 L885.1,147.0 L881.0,145.2 L881.0,145.2 L877.1,143.5 L877.1,143.5 L873.5,141.9 L873.5,141.9 L869.6,140.0 L869.6,140.0 L866.5,138.6 L866.5,138.6 L863.4,137.0 L863.4,137.0 L860.1,135.3 L860.1,135.3 L857.5,134.1 L857.5,134.1 L854.9,132.7 L854.9,132.7 L852.6,131.5 L852.6,131.5 L848.6,129.3 L848.6,129.3 L845.2,127.5 L845.2,127.5 L842.0,125.7 L842.0,125.7 L839.5,124.3Z" fill="#36ada4" fill-rule="evenodd"/><path d="M839.5,109.3 L843.2,111.2 L843.2,111.2 L846.9,113.2 L846.9,113.2 L850.0,114.8 L850.0,114.8 L852.4,116.0 L852.4,116.0 L855.4,117.6 L855.4,117.6 L857.8,118.8 L857.8,118.8 L861.9,120.9 L861.9,120.9 L864.2,122.1 L864.2,122.1 L867.0,123.5 L867.0,123.5 L870.7,125.3 L870.7,125.3 L873.2,126.6 L873.2,126.6 L875.6,127.8 L875.6,127.8 L877.9,128.9 L877.9,128.9 L880.5,130.2 L880.5,130.2 L883.7,131.8 L883.7,131.8 L887.6,133.6 L887.6,133.6 L890.1,134.9 L890.1,134.9 L892.7,136.1 L892.7,136.1 L896.4,137.9 L896.4,137.9 L899.5,139.4 L899.5,139.4 L902.3,140.8 L902.3,140.8 L904.8,142.0 L904.8,142.0 L907.5,143.2 L907.5,143.2 L911.6,145.2 L911.6,145.2 L914.0,146.3 L914.0,146.3 L916.8,147.6 L916.8,147.6 L920.4,149.3 L920.4,149.3 L924.4,151.1 L924.4,151.1 L928.4,152.8 L928.4,152.8 L931.6,154.1 L931.6,154.1 L935.7,155.8 L935.7,155.8 L939.1,157.1 L939.1,157.1 L941.9,158.3 L941.9,158.3 L945.0,159.5 L945.0,159.5 L948.6,161.0 L948.6,161.0 L952.3,162.5 L952.3,162.5 L954.8,163.4 L954.8,163.4 L957.4,164.5 L957.4,164.5 L961.5,166.0 L961.5,166.0 L963.9,166.9 L963.9,166.9 L967.7,168.2 L967.7,168.2 L970.6,169.1 L970.6,169.1 L973.3,169.9 L973.3,169.9 L976.0,170.7 L976.0,170.7 L979.1,171.5 L979.1,171.5 L983.3,172.5 L983.3,172.5 L985.8,173.0 L985.8,173.0 L989.7,173.7 L989.7,173.7 L992.6,174.3 L992.6,174.3 L995.1,174.7 L995.1,174.7 L998.8,175.3 L998.8,175.3 L1001.7,175.7 L1001.7,175.7 L1004.3,176.1 L1004.3,176.1 L1007.3,176.5 L1007.3,176.5 L1011.1,177.1 L1011.1,177.1 L1015.1,177.6 L1015.1,177.6 L1018.4,178.0 L1018.4,178.0 L1020.6,178.3 L1020.6,178.3 L1024.4,178.7 L1024.4,178.7 L1027.8,179.1 L1027.8,179.1 L1031.8,179.6 L1031.8,179.6 L1035.9,180.0 L1035.9,180.0 L1038.7,180.4 L1038.7,180.4 L1042.6,180.8 L1042.6,180.8 L1046.5,181.3 L1046.5,181.3 L1049.2,181.6 L1049.2,181.6 L1052.1,181.9 L1052.1,181.9 L1055.1,182.3 L1055.1,182.3 L1058.0,182.6 L1058.0,182.6 L1060.9,182.9 L1060.9,182.9 L1063.4,183.2 L1063.4,183.2 L1066.0,183.5 L1066.0,183.5 L1070.0,183.9 L1070.0,183.9 L1073.1,184.2 L1073.1,184.2 L1076.5,184.5 L1076.5,184.5 L1080.5,184.9 L1080.5,185.0 L1084.2,185.0 L1084.2,185.2 L1086.9,185.2 L1086.9,185.4 L1090.9,185.4 L1090.9,185.6 L1094.7,185.6 L1094.7,185.8 L1098.9,185.8 L1098.9,186.0 L1102.6,186.0 L1102.6,186.1 L1106.3,186.1 L1106.3,186.2 L1110.1,186.2 L1110.1,186.3 L1112.8,186.3 L1112.8,186.4 L1116.3,186.4 L1116.3,186.4 L1119.3,186.4 L1119.3,186.5 L1123.2,186.5 L1123.2,186.6 L1125.6,186.6 L1125.6,186.7 L1128.9,186.7 L1128.9,186.9 L1131.8,186.9 L1131.8,187.0 L1135.6,187.0 L1135.6,187.2 L1138.5,187.2 L1138.5,187.4 L1142.4,187.4 L1142.4,187.8 L1146.3,187.8 L1146.3,188.4 L1150.3,188.4 L1150.3,189.0 L1152.8,189.0 L1152.8,189.8 L1156.8,189.8 L1156.8,190.8 L1160.5,190.8 L1160.5,192.0 L1164.1,192.0 L1164.1,193.2 L1167.6,193.2 L1167.6,194.2 L1169.9,194.2 L1169.9,195.5 L1173.8,195.5 L1173.8,197.0 L1177.1,197.0 L1177.1,198.4 L1180.2,198.4 L1180.2,199.8 L1183.1,199.8 L1183.1,201.4 L1186.9,201.4 L1186.9,203.3 L1190.6,203.3 L1190.6,205.6 L1194.6,205.6 L1194.6,208.1 L1197.2,208.1 L1197.2,210.6 L1200.1,210.6 L1200.1,213.6 L1202.8,213.6 L1202.8,216.5 L1205.2,216.5 L1205.2,219.8 L1208.0,219.8 L1208.0,223.2 L1210.3,223.2 L1210.3,227.5 L1214.1,227.5 L1214.1,232.2 L1216.7,232.2 L1216.7,236.0 L1219.1,236.0 L1219.1,239.5 L1221.4,239.5 L1221.4,244.2 L1225.1,244.2 L1225.1,249.0 L1227.7,249.0 L1227.7,253.3 L1230.8,253.3 L1230.8,257.8 L1233.8,257.8 L1233.8,262.6 L1237.6,262.6 L1237.6,267.8 L1241.7,267.8 L1241.7,272.0 L1244.5,272.0 L1244.5,275.3 L1248.0,275.3 L1248.0,279.1 L1252.0,279.1 L1252.0,282.6 L1255.1,282.6 L1255.1,285.9 L1259.1,285.9 L1259.1,289.4 L1262.8,289.4 L1262.8,292.3 L1265.6,292.3 L1265.6,295.3 L1269.6,295.3 L1269.6,298.4 L1272.9,298.4 L1272.9,300.9 L1275.3,300.9 L1275.3,303.4 L1278.7,303.4 L1278.7,306.6 L1282.6,306.6 L1282.6,309.6 L1285.8,309.6 L1285.8,312.4 L1289.0,312.4 L1289.0,315.0 L1292.0,315.0 L1292.0,318.0 L1296.0,318.0 L1296.0,321.1 L1299.5,321.1 L1299.5,323.7 L1302.1,323.7 L1302.1,326.0 L1305.0,326.0 L1305.0,328.4 L1308.0,328.4 L1308.0,331.3 L1312.1,331.3 L1312.1,334.4 L1315.7,334.4 L1315.7,336.8 L1318.1,336.8 L1318.1,338.9 L1321.0,338.9 L1321.0,357.2 L1318.1,357.2 L1318.1,356.3 L1315.7,356.3 L1315.7,357.1 L1312.1,357.1 L1312.1,348.4 L1308.0,348.4 L1308.0,348.1 L1305.0,348.1 L1305.0,349.4 L1302.1,349.4 L1302.1,344.3 L1299.5,344.3 L1299.5,344.0 L1296.0,344.0 L1296.0,341.0 L1292.0,341.0 L1292.0,333.8 L1289.0,333.8 L1289.0,331.4 L1285.8,331.4 L1285.8,331.8 L1282.6,331.8 L1282.6,331.5 L1278.7,331.5 L1278.7,327.6 L1275.3,327.6 L1275.3,321.8 L1272.9,321.8 L1272.9,318.9 L1269.6,318.9 L1269.6,316.3 L1265.6,316.3 L1265.6,314.3 L1262.8,314.3 L1262.8,311.3 L1259.1,311.3 L1259.1,304.8 L1255.1,304.8 L1255.1,302.7 L1252.0,302.7 L1252.0,296.1 L1248.0,296.1 L1248.0,293.6 L1244.5,293.6 L1244.5,293.9 L1241.7,293.9 L1241.7,286.6 L1237.6,286.6 L1237.6,278.7 L1233.8,278.7 L1233.8,277.4 L1230.8,277.4 L1230.8,269.6 L1227.7,269.6 L1227.7,265.9 L1225.1,265.9 L1225.1,261.3 L1221.4,261.3 L1221.4,260.2 L1219.1,260.2 L1219.1,260.9 L1216.7,260.9 L1216.7,255.8 L1214.1,255.8 L1214.1,245.2 L1210.3,245.2 L1210.3,246.1 L1208.0,246.1 L1208.0,238.3 L1205.2,238.3 L1205.2,236.1 L1202.8,236.1 L1202.8,235.1 L1200.1,235.1 L1200.1,229.0 L1197.2,229.0 L1197.2,232.9 L1194.6,232.9 L1194.6,224.7 L1190.6,224.7 L1190.6,224.3 L1186.9,224.3 L1186.9,218.3 L1183.1,218.3 L1183.1,216.9 L1180.2,216.9 L1180.2,222.2 L1177.1,222.2 L1177.1,216.2 L1173.8,216.2 L1173.8,215.9 L1169.9,215.9 L1169.9,214.1 L1167.6,214.1 L1167.6,215.8 L1164.1,215.8 L1164.1,210.0 L1160.5,210.0 L1160.5,211.9 L1156.8,211.9 L1156.8,210.7 L1152.8,210.7 L1152.8,210.3 L1150.3,210.3 L1150.3,203.9 L1146.3,203.9 L1146.3,204.4 L1142.4,204.4 L1142.4,205.6 L1138.5,205.6 L1138.5,204.3 L1135.6,204.3 L1135.6,200.1 L1131.8,200.1 L1131.8,200.0 L1128.9,200.0 L1128.9,203.0 L1125.6,203.0 L1125.6,199.3 L1123.2,199.3 L1123.2,198.9 L1119.3,198.9 L1119.3,200.6 L1116.3,200.6 L1116.3,199.3 L1112.8,199.3 L1112.8,196.9 L1110.1,196.9 L1110.1,196.3 L1106.3,196.3 L1106.3,196.7 L1102.6,196.7 L1102.6,197.3 L1098.9,197.3 L1098.9,195.6 L1094.7,195.6 L1094.7,194.2 L1090.9,194.2 L1090.9,194.3 L1086.9,194.3 L1086.9,193.4 L1084.2,193.4 L1084.2,194.2 L1080.5,194.2 L1080.5,194.0 L1076.5,193.4 L1076.5,193.4 L1073.1,192.9 L1073.1,192.9 L1070.0,192.6 L1070.0,192.6 L1066.0,192.1 L1066.0,192.1 L1063.4,191.7 L1063.4,191.7 L1060.9,191.4 L1060.9,191.4 L1058.0,191.1 L1058.0,191.1 L1055.1,190.7 L1055.1,190.7 L1052.1,190.3 L1052.1,190.3 L1049.2,189.9 L1049.2,189.9 L1046.5,189.5 L1046.5,189.5 L1042.6,188.9 L1042.6,188.9 L1038.7,188.3 L1038.7,188.3 L1035.9,187.8 L1035.9,187.8 L1031.8,187.0 L1031.8,187.0 L1027.8,186.3 L1027.8,186.3 L1024.4,185.6 L1024.4,185.6 L1020.6,184.9 L1020.6,184.9 L1018.4,184.4 L1018.4,184.4 L1015.1,183.7 L1015.1,183.7 L1011.1,182.8 L1011.1,182.8 L1007.3,182.0 L1007.3,182.0 L1004.3,181.3 L1004.3,181.3 L1001.7,180.7 L1001.7,180.7 L998.8,180.0 L998.8,180.0 L995.1,179.1 L995.1,179.1 L992.6,178.4 L992.6,178.4 L989.7,177.7 L989.7,177.7 L985.8,176.7 L985.8,176.7 L983.3,176.1 L983.3,176.1 L979.1,174.9 L979.1,174.9 L976.0,174.0 L976.0,174.0 L973.3,173.2 L973.3,173.2 L970.6,172.4 L970.6,172.4 L967.7,171.5 L967.7,171.5 L963.9,170.3 L963.9,170.3 L961.5,169.6 L961.5,169.6 L957.4,168.2 L957.4,168.2 L954.8,167.3 L954.8,167.3 L952.3,166.5 L952.3,166.5 L948.6,165.2 L948.6,165.2 L945.0,163.9 L945.0,163.9 L941.9,162.8 L941.9,162.8 L939.1,161.8 L939.1,161.8 L935.7,160.5 L935.7,160.5 L931.6,159.0 L931.6,159.0 L928.4,157.8 L928.4,157.8 L924.4,156.2 L924.4,156.2 L920.4,154.6 L920.4,154.6 L916.8,153.1 L916.8,153.1 L914.0,152.0 L914.0,152.0 L911.6,150.9 L911.6,150.9 L907.5,149.1 L907.5,149.1 L904.8,148.0 L904.8,148.0 L902.3,146.9 L902.3,146.9 L899.5,145.6 L899.5,145.6 L896.4,144.2 L896.4,144.2 L892.7,142.6 L892.7,142.6 L890.1,141.4 L890.1,141.4 L887.6,140.2 L887.6,140.2 L883.7,138.5 L883.7,138.5 L880.5,136.9 L880.5,136.9 L877.9,135.7 L877.9,135.7 L875.6,134.6 L875.6,134.6 L873.2,133.4 L873.2,133.4 L870.7,132.2 L870.7,132.2 L867.0,130.4 L867.0,130.4 L864.2,129.0 L864.2,129.0 L861.9,127.9 L861.9,127.9 L857.8,125.8 L857.8,125.8 L855.4,124.5 L855.4,124.5 L852.4,123.0 L852.4,123.0 L850.0,121.8 L850.0,121.8 L846.9,120.2 L846.9,120.2 L843.2,118.2 L843.2,118.2 L839.5,116.2Z" fill="#38a9c5" fill-rule="evenodd"/><path d="M839.5,101.1 L843.2,103.0 L843.2,103.0 L846.8,104.8 L846.8,104.8 L850.4,106.7 L850.4,106.7 L853.2,108.1 L853.2,108.1 L857.1,110.1 L857.1,110.1 L861.1,112.1 L861.1,112.1 L863.4,113.3 L863.4,113.3 L867.5,115.4 L867.5,115.4 L870.6,117.0 L870.6,117.0 L873.0,118.2 L873.0,118.2 L875.3,119.5 L875.3,119.5 L879.1,121.4 L879.1,121.4 L882.7,123.3 L882.7,123.3 L885.1,124.5 L885.1,124.5 L888.3,126.2 L888.3,126.2 L891.7,128.0 L891.7,128.0 L895.9,130.3 L895.9,130.3 L898.8,131.8 L898.8,131.8 L902.5,133.9 L902.5,133.9 L905.2,135.4 L905.2,135.4 L907.8,136.8 L907.8,136.8 L910.3,138.2 L910.3,138.2 L913.4,139.8 L913.4,139.8 L916.8,141.7 L916.8,141.7 L919.6,143.2 L919.6,143.2 L922.1,144.5 L922.1,144.5 L924.8,145.9 L924.8,145.9 L927.1,147.1 L927.1,147.1 L929.7,148.4 L929.7,148.4 L932.6,149.7 L932.6,149.7 L935.8,151.2 L935.8,151.2 L938.3,152.4 L938.3,152.4 L941.5,153.9 L941.5,153.9 L944.6,155.3 L944.6,155.3 L948.7,157.2 L948.7,157.2 L951.9,158.7 L951.9,158.7 L956.0,160.5 L956.0,160.5 L959.1,161.9 L959.1,161.9 L961.7,163.0 L961.7,163.0 L965.1,164.4 L965.1,164.4 L967.6,165.3 L967.6,165.3 L970.1,166.3 L970.1,166.3 L972.5,167.1 L972.5,167.1 L976.1,168.4 L976.1,168.4 L980.2,169.6 L980.2,169.6 L983.2,170.4 L983.2,170.4 L986.1,171.1 L986.1,171.1 L989.2,171.9 L989.2,171.9 L992.1,172.5 L992.1,172.5 L995.7,173.3 L995.7,173.3 L998.7,173.9 L998.7,173.9 L1001.2,174.4 L1001.2,174.4 L1005.1,175.2 L1005.1,175.2 L1008.4,175.8 L1008.4,175.8 L1010.6,176.2 L1010.6,176.2 L1014.5,176.8 L1014.5,176.8 L1018.2,177.4 L1018.2,177.4 L1021.1,177.9 L1021.1,177.9 L1024.6,178.4 L1024.6,178.4 L1028.6,179.0 L1028.6,179.0 L1031.6,179.4 L1031.6,179.4 L1034.7,179.8 L1034.7,179.8 L1037.5,180.2 L1037.5,180.2 L1040.8,180.6 L1040.8,180.6 L1044.3,181.0 L1044.3,181.0 L1048.0,181.5 L1048.0,181.5 L1052.1,182.0 L1052.1,182.0 L1054.6,182.3 L1054.6,182.3 L1057.5,182.6 L1057.5,182.6 L1061.4,183.1 L1061.4,183.1 L1065.2,183.5 L1065.2,183.5 L1068.6,183.8 L1068.6,183.8 L1072.1,184.2 L1072.1,184.2 L1075.0,184.4 L1075.0,184.4 L1079.1,184.8 L1079.1,184.8 L1082.4,185.0 L1082.4,185.0 L1085.4,185.2 L1085.4,185.2 L1088.0,185.4 L1088.0,185.4 L1090.4,185.5 L1090.4,185.5 L1094.4,185.7 L1094.4,185.8 L1098.2,185.8 L1098.2,185.9 L1100.4,185.9 L1100.4,186.0 L1103.3,186.0 L1103.3,186.1 L1106.4,186.1 L1106.4,186.2 L1109.6,186.2 L1109.6,186.3 L1112.6,186.3 L1112.6,186.4 L1116.6,186.4 L1116.6,186.5 L1119.4,186.5 L1119.4,186.6 L1122.7,186.6 L1122.7,186.7 L1126.8,186.7 L1126.8,186.8 L1130.3,186.8 L1130.3,187.0 L1133.4,187.0 L1133.4,187.1 L1136.3,187.1 L1136.3,187.3 L1139.2,187.3 L1139.2,187.5 L1142.7,187.5 L1142.7,187.7 L1146.4,187.7 L1146.4,188.0 L1149.2,188.0 L1149.2,188.2 L1152.1,188.2 L1152.1,188.5 L1155.1,188.5 L1155.1,188.8 L1158.0,188.8 L1158.0,189.2 L1162.0,189.2 L1162.0,189.7 L1165.3,189.7 L1165.3,190.2 L1168.1,190.2 L1168.1,190.6 L1170.9,190.6 L1170.9,191.2 L1174.8,191.2 L1174.8,191.8 L1177.3,191.8 L1177.3,192.4 L1180.9,192.4 L1180.9,193.0 L1183.1,193.0 L1183.1,193.6 L1185.7,193.6 L1185.7,194.2 L1188.0,194.2 L1188.0,195.0 L1191.8,195.0 L1191.8,196.2 L1194.3,196.2 L1194.3,197.8 L1197.0,197.8 L1197.0,199.7 L1199.3,199.7 L1199.3,202.0 L1202.0,202.0 L1202.0,205.5 L1205.7,205.5 L1205.7,210.1 L1209.3,210.1 L1209.3,215.5 L1213.3,215.5 L1213.3,221.6 L1217.4,221.6 L1217.4,227.4 L1220.7,227.4 L1220.7,233.4 L1224.8,233.4 L1224.8,238.6 L1227.2,238.6 L1227.2,243.7 L1231.2,243.7 L1231.2,249.2 L1234.3,249.2 L1234.3,253.4 L1236.9,253.4 L1236.9,257.7 L1240.6,257.7 L1240.6,262.3 L1244.5,262.3 L1244.5,266.0 L1247.4,266.0 L1247.4,268.6 L1249.8,268.6 L1249.8,271.6 L1253.8,271.6 L1253.8,275.1 L1257.5,275.1 L1257.5,278.2 L1260.9,278.2 L1260.9,281.4 L1265.0,281.4 L1265.0,284.1 L1267.3,284.1 L1267.3,285.9 L1269.6,285.9 L1269.6,287.8 L1272.1,287.8 L1272.1,289.7 L1274.3,289.7 L1274.3,292.0 L1277.9,292.0 L1277.9,294.7 L1281.4,294.7 L1281.4,297.0 L1283.8,297.0 L1283.8,298.9 L1286.3,298.9 L1286.3,300.8 L1288.9,300.8 L1288.9,303.1 L1292.3,303.1 L1292.3,305.6 L1295.9,305.6 L1295.9,308.4 L1300.0,308.4 L1300.0,311.0 L1302.9,311.0 L1302.9,313.4 L1307.1,313.4 L1307.1,315.9 L1310.2,315.9 L1310.2,317.9 L1313.1,317.9 L1313.1,319.8 L1315.8,319.8 L1315.8,321.6 L1318.5,321.6 L1318.5,323.2 L1321.0,323.2 L1321.0,346.4 L1318.5,346.4 L1318.5,352.0 L1315.8,352.0 L1315.8,340.8 L1313.1,340.8 L1313.1,344.0 L1310.2,344.0 L1310.2,340.0 L1307.1,340.0 L1307.1,333.8 L1302.9,333.8 L1302.9,334.4 L1300.0,334.4 L1300.0,329.7 L1295.9,329.7 L1295.9,332.6 L1292.3,332.6 L1292.3,323.9 L1288.9,323.9 L1288.9,319.7 L1286.3,319.7 L1286.3,325.6 L1283.8,325.6 L1283.8,315.7 L1281.4,315.7 L1281.4,319.2 L1277.9,319.2 L1277.9,314.2 L1274.3,314.2 L1274.3,308.4 L1272.1,308.4 L1272.1,312.7 L1269.6,312.7 L1269.6,306.6 L1267.3,306.6 L1267.3,307.7 L1265.0,307.7 L1265.0,300.6 L1260.9,300.6 L1260.9,301.1 L1257.5,301.1 L1257.5,294.6 L1253.8,294.6 L1253.8,288.4 L1249.8,288.4 L1249.8,286.8 L1247.4,286.8 L1247.4,284.4 L1244.5,284.4 L1244.5,280.6 L1240.6,280.6 L1240.6,275.0 L1236.9,275.0 L1236.9,276.2 L1234.3,276.2 L1234.3,271.3 L1231.2,271.3 L1231.2,266.5 L1227.2,266.5 L1227.2,259.0 L1224.8,259.0 L1224.8,251.3 L1220.7,251.3 L1220.7,245.3 L1217.4,245.3 L1217.4,239.5 L1213.3,239.5 L1213.3,238.6 L1209.3,238.6 L1209.3,230.4 L1205.7,230.4 L1205.7,227.2 L1202.0,227.2 L1202.0,222.7 L1199.3,222.7 L1199.3,222.5 L1197.0,222.5 L1197.0,216.9 L1194.3,216.9 L1194.3,221.9 L1191.8,221.9 L1191.8,215.6 L1188.0,215.6 L1188.0,212.0 L1185.7,212.0 L1185.7,210.9 L1183.1,210.9 L1183.1,216.0 L1180.9,216.0 L1180.9,209.7 L1177.3,209.7 L1177.3,210.8 L1174.8,210.8 L1174.8,211.1 L1170.9,211.1 L1170.9,210.2 L1168.1,210.2 L1168.1,206.6 L1165.3,206.6 L1165.3,203.5 L1162.0,203.5 L1162.0,203.0 L1158.0,203.0 L1158.0,201.7 L1155.1,201.7 L1155.1,204.2 L1152.1,204.2 L1152.1,203.8 L1149.2,203.8 L1149.2,201.8 L1146.4,201.8 L1146.4,199.7 L1142.7,199.7 L1142.7,201.1 L1139.2,201.1 L1139.2,199.9 L1136.3,199.9 L1136.3,198.4 L1133.4,198.4 L1133.4,199.4 L1130.3,199.4 L1130.3,200.4 L1126.8,200.4 L1126.8,197.3 L1122.7,197.3 L1122.7,197.3 L1119.4,197.3 L1119.4,198.3 L1116.6,198.3 L1116.6,195.7 L1112.6,195.7 L1112.6,196.4 L1109.6,196.4 L1109.6,196.4 L1106.4,196.4 L1106.4,195.9 L1103.3,195.9 L1103.3,195.5 L1100.4,195.5 L1100.4,193.9 L1098.2,193.9 L1098.2,192.9 L1094.4,192.9 L1094.4,194.7 L1090.4,194.1 L1090.4,194.1 L1088.0,193.7 L1088.0,193.7 L1085.4,193.3 L1085.4,193.3 L1082.4,192.9 L1082.4,192.9 L1079.1,192.4 L1079.1,192.4 L1075.0,191.9 L1075.0,191.9 L1072.1,191.5 L1072.1,191.5 L1068.6,191.0 L1068.6,191.0 L1065.2,190.6 L1065.2,190.6 L1061.4,190.1 L1061.4,190.1 L1057.5,189.6 L1057.5,189.6 L1054.6,189.2 L1054.6,189.2 L1052.1,188.9 L1052.1,188.9 L1048.0,188.3 L1048.0,188.3 L1044.3,187.7 L1044.3,187.7 L1040.8,187.1 L1040.8,187.1 L1037.5,186.6 L1037.5,186.6 L1034.7,186.1 L1034.7,186.1 L1031.6,185.5 L1031.6,185.5 L1028.6,184.9 L1028.6,184.9 L1024.6,184.1 L1024.6,184.1 L1021.1,183.4 L1021.1,183.4 L1018.2,182.8 L1018.2,182.8 L1014.5,182.0 L1014.5,182.0 L1010.6,181.1 L1010.6,181.1 L1008.4,180.6 L1008.4,180.6 L1005.1,179.8 L1005.1,179.8 L1001.2,178.8 L1001.2,178.8 L998.7,178.2 L998.7,178.2 L995.7,177.4 L995.7,177.4 L992.1,176.5 L992.1,176.5 L989.2,175.7 L989.2,175.7 L986.1,174.8 L986.1,174.8 L983.2,174.0 L983.2,174.0 L980.2,173.1 L980.2,173.1 L976.1,171.8 L976.1,171.8 L972.5,170.6 L972.5,170.6 L970.1,169.8 L970.1,169.8 L967.6,168.9 L967.6,168.9 L965.1,167.9 L965.1,167.9 L961.7,166.7 L961.7,166.7 L959.1,165.7 L959.1,165.7 L956.0,164.4 L956.0,164.4 L951.9,162.8 L951.9,162.8 L948.7,161.5 L948.7,161.5 L944.6,159.7 L944.6,159.7 L941.5,158.4 L941.5,158.4 L938.3,157.1 L938.3,157.1 L935.8,156.0 L935.8,156.0 L932.6,154.6 L932.6,154.6 L929.7,153.3 L929.7,153.3 L927.1,152.2 L927.1,152.2 L924.8,151.1 L924.8,151.1 L922.1,149.8 L922.1,149.8 L919.6,148.6 L919.6,148.6 L916.8,147.2 L916.8,147.2 L913.4,145.5 L913.4,145.5 L910.3,144.0 L910.3,144.0 L907.8,142.7 L907.8,142.7 L905.2,141.4 L905.2,141.4 L902.5,140.0 L902.5,140.0 L898.8,138.1 L898.8,138.1 L895.9,136.6 L895.9,136.6 L891.7,134.5 L891.7,134.5 L888.3,132.8 L888.3,132.8 L885.1,131.2 L885.1,131.2 L882.7,130.0 L882.7,130.0 L879.1,128.2 L879.1,128.2 L875.3,126.3 L875.3,126.3 L873.0,125.1 L873.0,125.1 L870.6,123.9 L870.6,123.9 L867.5,122.3 L867.5,122.3 L863.4,120.3 L863.4,120.3 L861.1,119.1 L861.1,119.1 L857.1,117.0 L857.1,117.0 L853.2,115.1 L853.2,115.1 L850.4,113.7 L850.4,113.7 L846.8,111.8 L846.8,111.8 L843.2,109.9 L843.2,109.9 L839.5,108.0Z" fill="#6e9bf4" fill-rule="evenodd"/><path d="M839.5,93.0 L841.9,94.2 L841.9,94.2 L844.7,95.5 L844.7,95.5 L847.1,96.7 L847.1,96.7 L851.0,98.7 L851.0,98.7 L854.1,100.2 L854.1,100.2 L857.8,102.1 L857.8,102.1 L860.5,103.5 L860.5,103.5 L864.1,105.4 L864.1,105.4 L867.6,107.2 L867.6,107.2 L870.0,108.5 L870.0,108.5 L873.2,110.2 L873.2,110.2 L876.9,112.1 L876.9,112.1 L879.5,113.6 L879.5,113.6 L883.0,115.5 L883.0,115.5 L885.8,117.0 L885.8,117.0 L888.7,118.6 L888.7,118.6 L892.7,120.9 L892.7,120.9 L896.8,123.4 L896.8,123.4 L901.0,125.9 L901.0,125.9 L904.1,127.8 L904.1,127.8 L907.4,129.9 L907.4,129.9 L911.2,132.3 L911.2,132.3 L915.0,134.6 L915.0,134.6 L918.1,136.5 L918.1,136.5 L922.0,138.9 L922.0,138.9 L925.0,140.7 L925.0,140.7 L929.1,143.0 L929.1,143.0 L932.2,144.8 L932.2,144.8 L934.7,146.1 L934.7,146.1 L938.4,148.0 L938.4,148.0 L940.9,149.3 L940.9,149.3 L944.4,151.1 L944.4,151.1 L946.7,152.3 L946.7,152.3 L950.9,154.5 L950.9,154.5 L954.2,156.2 L954.2,156.2 L957.9,158.0 L957.9,158.0 L960.3,159.2 L960.3,159.2 L963.8,160.8 L963.8,160.8 L966.8,162.2 L966.8,162.2 L969.5,163.3 L969.5,163.3 L973.3,164.9 L973.3,164.9 L975.6,165.8 L975.6,165.8 L978.7,166.9 L978.7,166.9 L981.1,167.7 L981.1,167.7 L985.0,168.9 L985.0,168.9 L989.0,170.0 L989.0,170.0 L991.2,170.7 L991.2,170.7 L994.4,171.5 L994.4,171.5 L997.5,172.3 L997.5,172.3 L1001.1,173.2 L1001.1,173.2 L1004.8,174.1 L1004.8,174.1 L1007.7,174.7 L1007.7,174.7 L1011.8,175.6 L1011.8,175.6 L1014.3,176.1 L1014.3,176.1 L1016.8,176.6 L1016.8,176.6 L1020.6,177.4 L1020.6,177.4 L1023.1,177.8 L1023.1,177.8 L1025.6,178.3 L1025.6,178.3 L1028.8,178.8 L1028.8,178.8 L1031.7,179.3 L1031.7,179.3 L1034.2,179.7 L1034.2,179.7 L1038.3,180.3 L1038.3,180.3 L1041.4,180.7 L1041.4,180.7 L1045.2,181.2 L1045.2,181.2 L1047.9,181.5 L1047.9,181.5 L1051.9,182.0 L1051.9,182.0 L1054.6,182.4 L1054.6,182.4 L1058.6,182.8 L1058.6,182.8 L1062.0,183.2 L1062.0,183.2 L1066.2,183.6 L1066.2,183.6 L1069.9,184.0 L1069.9,184.0 L1073.4,184.3 L1073.4,184.3 L1076.6,184.6 L1076.6,184.6 L1080.5,184.9 L1080.5,184.9 L1083.6,185.1 L1083.6,185.1 L1086.0,185.3 L1086.0,185.3 L1090.1,185.5 L1090.1,185.5 L1093.9,185.7 L1093.9,185.7 L1097.4,185.9 L1097.4,185.9 L1101.1,186.1 L1101.1,186.1 L1103.8,186.3 L1103.8,186.3 L1106.9,186.4 L1106.9,186.4 L1110.8,186.6 L1110.8,186.6 L1114.9,186.8 L1114.9,186.8 L1118.9,187.0 L1118.9,187.0 L1121.5,187.0 L1121.5,187.1 L1125.0,187.1 L1125.0,187.2 L1128.3,187.2 L1128.3,187.3 L1131.3,187.3 L1131.3,187.3 L1133.9,187.3 L1133.9,187.4 L1136.3,187.4 L1136.3,187.4 L1139.5,187.4 L1139.5,187.4 L1142.7,187.4 L1142.7,187.4 L1145.4,187.4 L1145.4,187.4 L1148.3,187.4 L1148.3,187.4 L1151.7,187.4 L1151.7,187.3 L1155.4,187.3 L1155.4,187.3 L1158.8,187.3 L1158.8,187.3 L1161.3,187.3 L1161.3,187.2 L1165.3,187.2 L1165.3,187.2 L1168.2,187.2 L1168.2,187.1 L1172.3,187.1 L1172.3,187.1 L1176.5,187.1 L1176.5,187.1 L1179.0,187.1 L1179.0,187.0 L1182.3,187.0 L1182.3,187.0 L1186.5,187.0 L1186.5,187.0 L1189.4,187.0 L1189.4,187.0 L1192.7,187.0 L1192.7,187.6 L1195.5,187.6 L1195.5,188.6 L1197.8,188.6 L1197.8,190.0 L1200.4,190.0 L1200.4,191.7 L1202.9,191.7 L1202.9,193.9 L1205.6,193.9 L1205.6,196.9 L1209.1,196.9 L1209.1,200.6 L1212.4,200.6 L1212.4,205.1 L1216.5,205.1 L1216.5,210.0 L1220.1,210.0 L1220.1,214.4 L1223.0,214.4 L1223.0,219.3 L1227.1,219.3 L1227.1,224.5 L1230.6,224.5 L1230.6,229.0 L1233.9,229.0 L1233.9,233.7 L1237.8,233.7 L1237.8,238.2 L1241.3,238.2 L1241.3,241.8 L1244.2,241.8 L1244.2,244.9 L1247.7,244.9 L1247.7,247.8 L1250.5,247.8 L1250.5,251.1 L1254.6,251.1 L1254.6,254.3 L1257.3,254.3 L1257.3,257.5 L1261.4,257.5 L1261.4,260.4 L1263.8,260.4 L1263.8,262.5 L1266.0,262.5 L1266.0,264.9 L1269.3,264.9 L1269.3,267.4 L1271.9,267.4 L1271.9,269.9 L1275.1,269.9 L1275.1,272.1 L1277.5,272.1 L1277.5,274.6 L1281.4,274.6 L1281.4,277.4 L1285.0,277.4 L1285.0,280.0 L1288.5,280.0 L1288.5,282.8 L1292.6,282.8 L1292.6,285.7 L1296.8,285.7 L1296.8,288.3 L1300.3,288.3 L1300.3,290.7 L1303.9,290.7 L1303.9,292.6 L1306.1,292.6 L1306.1,294.0 L1308.4,294.0 L1308.4,295.7 L1311.5,295.7 L1311.5,297.8 L1315.6,297.8 L1315.6,299.8 L1318.5,299.8 L1318.5,301.3 L1321.0,301.3 L1321.0,329.3 L1318.5,329.3 L1318.5,333.1 L1315.6,333.1 L1315.6,330.2 L1311.5,330.2 L1311.5,326.6 L1308.4,326.6 L1308.4,329.8 L1306.1,329.8 L1306.1,326.3 L1303.9,326.3 L1303.9,316.7 L1300.3,316.7 L1300.3,321.7 L1296.8,321.7 L1296.8,312.3 L1292.6,312.3 L1292.6,316.0 L1288.5,316.0 L1288.5,310.7 L1285.0,310.7 L1285.0,312.7 L1281.4,312.7 L1281.4,310.4 L1277.5,310.4 L1277.5,301.2 L1275.1,301.2 L1275.1,300.6 L1271.9,300.6 L1271.9,296.4 L1269.3,296.4 L1269.3,293.8 L1266.0,293.8 L1266.0,292.4 L1263.8,292.4 L1263.8,295.0 L1261.4,295.0 L1261.4,283.9 L1257.3,283.9 L1257.3,283.7 L1254.6,283.7 L1254.6,286.3 L1250.5,286.3 L1250.5,282.9 L1247.7,282.9 L1247.7,280.1 L1244.2,280.1 L1244.2,275.3 L1241.3,275.3 L1241.3,263.1 L1237.8,263.1 L1237.8,265.3 L1233.9,265.3 L1233.9,257.7 L1230.6,257.7 L1230.6,250.6 L1227.1,250.6 L1227.1,251.8 L1223.0,251.8 L1223.0,240.4 L1220.1,240.4 L1220.1,235.8 L1216.5,235.8 L1216.5,226.0 L1212.4,226.0 L1212.4,220.9 L1209.1,220.9 L1209.1,217.0 L1205.6,217.0 L1205.6,216.4 L1202.9,216.4 L1202.9,216.5 L1200.4,216.5 L1200.4,216.0 L1197.8,216.0 L1197.8,212.7 L1195.5,212.7 L1195.5,206.8 L1192.7,206.8 L1192.7,210.6 L1189.4,210.6 L1189.4,202.7 L1186.5,202.7 L1186.5,203.0 L1182.3,203.0 L1182.3,207.2 L1179.0,207.2 L1179.0,202.4 L1176.5,202.4 L1176.5,203.5 L1172.3,203.5 L1172.3,199.5 L1168.2,199.5 L1168.2,202.3 L1165.3,202.3 L1165.3,200.8 L1161.3,200.8 L1161.3,198.6 L1158.8,198.6 L1158.8,200.9 L1155.4,200.9 L1155.4,197.6 L1151.7,197.6 L1151.7,200.4 L1148.3,200.4 L1148.3,197.3 L1145.4,197.3 L1145.4,199.1 L1142.7,199.1 L1142.7,198.6 L1139.5,198.6 L1139.5,198.6 L1136.3,198.6 L1136.3,195.9 L1133.9,195.9 L1133.9,196.2 L1131.3,196.2 L1131.3,195.1 L1128.3,195.1 L1128.3,195.9 L1125.0,195.9 L1125.0,196.3 L1121.5,196.3 L1121.5,196.1 L1118.9,195.8 L1118.9,195.8 L1114.9,195.2 L1114.9,195.2 L1110.8,194.7 L1110.8,194.7 L1106.9,194.2 L1106.9,194.2 L1103.8,193.8 L1103.8,193.8 L1101.1,193.5 L1101.1,193.5 L1097.4,193.0 L1097.4,193.0 L1093.9,192.5 L1093.9,192.5 L1090.1,192.0 L1090.1,192.0 L1086.0,191.5 L1086.0,191.5 L1083.6,191.2 L1083.6,191.2 L1080.5,190.8 L1080.5,190.8 L1076.6,190.3 L1076.6,190.3 L1073.4,189.9 L1073.4,189.9 L1069.9,189.5 L1069.9,189.5 L1066.2,189.1 L1066.2,189.1 L1062.0,188.6 L1062.0,188.6 L1058.6,188.2 L1058.6,188.2 L1054.6,187.7 L1054.6,187.7 L1051.9,187.3 L1051.9,187.3 L1047.9,186.7 L1047.9,186.7 L1045.2,186.3 L1045.2,186.3 L1041.4,185.7 L1041.4,185.7 L1038.3,185.2 L1038.3,185.2 L1034.2,184.5 L1034.2,184.5 L1031.7,184.0 L1031.7,184.0 L1028.8,183.5 L1028.8,183.5 L1025.6,182.8 L1025.6,182.8 L1023.1,182.3 L1023.1,182.3 L1020.6,181.8 L1020.6,181.8 L1016.8,181.0 L1016.8,181.0 L1014.3,180.4 L1014.3,180.4 L1011.8,179.8 L1011.8,179.8 L1007.7,178.8 L1007.7,178.8 L1004.8,178.1 L1004.8,178.1 L1001.1,177.1 L1001.1,177.1 L997.5,176.1 L997.5,176.1 L994.4,175.3 L994.4,175.3 L991.2,174.4 L991.2,174.4 L989.0,173.7 L989.0,173.7 L985.0,172.5 L985.0,172.5 L981.1,171.3 L981.1,171.3 L978.7,170.5 L978.7,170.5 L975.6,169.3 L975.6,169.3 L973.3,168.5 L973.3,168.5 L969.5,167.0 L969.5,167.0 L966.8,165.9 L966.8,165.9 L963.8,164.6 L963.8,164.6 L960.3,163.1 L960.3,163.1 L957.9,162.0 L957.9,162.0 L954.2,160.3 L954.2,160.3 L950.9,158.7 L950.9,158.7 L946.7,156.7 L946.7,156.7 L944.4,155.6 L944.4,155.6 L940.9,153.9 L940.9,153.9 L938.4,152.7 L938.4,152.7 L934.7,150.9 L934.7,150.9 L932.2,149.7 L932.2,149.7 L929.1,148.0 L929.1,148.0 L925.0,145.9 L925.0,145.9 L922.0,144.2 L922.0,144.2 L918.1,142.0 L918.1,142.0 L915.0,140.2 L915.0,140.2 L911.2,138.1 L911.2,138.1 L907.4,135.8 L907.4,135.8 L904.1,133.9 L904.1,133.9 L901.0,132.1 L901.0,132.1 L896.8,129.7 L896.8,129.7 L892.7,127.4 L892.7,127.4 L888.7,125.2 L888.7,125.2 L885.8,123.6 L885.8,123.6 L883.0,122.2 L883.0,122.2 L879.5,120.3 L879.5,120.3 L876.9,118.9 L876.9,118.9 L873.2,117.0 L873.2,117.0 L870.0,115.3 L870.0,115.3 L867.6,114.1 L867.6,114.1 L864.1,112.3 L864.1,112.3 L860.5,110.4 L860.5,110.4 L857.8,109.0 L857.8,109.0 L854.1,107.2 L854.1,107.2 L851.0,105.6 L851.0,105.6 L847.1,103.7 L847.1,103.7 L844.7,102.4 L844.7,102.4 L841.9,101.1 L841.9,101.1 L839.5,99.9Z" fill="#cc7af4" fill-rule="evenodd"/><path d="M839.5,84.8 L842.1,86.1 L842.1,86.1 L845.7,87.7 L845.7,87.7 L849.6,89.6 L849.6,89.6 L852.7,91.2 L852.7,91.2 L855.9,92.8 L855.9,92.8 L859.9,94.8 L859.9,94.8 L863.3,96.6 L863.3,96.6 L865.9,98.0 L865.9,98.0 L868.2,99.3 L868.2,99.3 L870.6,100.5 L870.6,100.5 L873.4,102.1 L873.4,102.1 L875.8,103.4 L875.8,103.4 L879.3,105.4 L879.3,105.4 L882.4,107.2 L882.4,107.2 L885.2,108.8 L885.2,108.8 L888.4,110.7 L888.4,110.7 L892.5,113.2 L892.5,113.2 L895.2,114.9 L895.2,114.9 L897.7,116.6 L897.7,116.6 L900.5,118.4 L900.5,118.4 L903.3,120.4 L903.3,120.4 L907.4,123.2 L907.4,123.2 L911.0,125.7 L911.0,125.7 L914.0,127.9 L914.0,127.9 L916.6,129.6 L916.6,129.6 L918.9,131.2 L918.9,131.2 L921.3,132.9 L921.3,132.9 L925.2,135.5 L925.2,135.5 L928.7,137.8 L928.7,137.8 L931.2,139.3 L931.2,139.3 L934.7,141.4 L934.7,141.4 L937.0,142.7 L937.0,142.7 L940.2,144.6 L940.2,144.6 L943.1,146.3 L943.1,146.3 L945.5,147.8 L945.5,147.8 L949.1,150.0 L949.1,150.0 L952.8,152.1 L952.8,152.1 L956.0,153.9 L956.0,153.9 L958.5,155.4 L958.5,155.4 L962.1,157.3 L962.1,157.3 L965.1,158.9 L965.1,158.9 L968.7,160.6 L968.7,160.6 L971.0,161.7 L971.0,161.7 L975.1,163.5 L975.1,163.5 L977.3,164.3 L977.3,164.3 L979.9,165.3 L979.9,165.3 L982.9,166.3 L982.9,166.3 L985.5,167.0 L985.5,167.0 L987.9,167.7 L987.9,167.7 L991.5,168.6 L991.5,168.6 L995.6,169.6 L995.6,169.6 L998.5,170.3 L998.5,170.3 L1001.2,170.9 L1001.2,170.9 L1004.8,171.7 L1004.8,171.7 L1007.4,172.2 L1007.4,172.2 L1010.4,172.8 L1010.4,172.8 L1014.0,173.5 L1014.0,173.5 L1017.1,174.0 L1017.1,174.0 L1019.6,174.5 L1019.6,174.5 L1021.9,174.9 L1021.9,174.9 L1025.2,175.4 L1025.2,175.4 L1029.4,176.0 L1029.4,176.0 L1033.4,176.6 L1033.4,176.6 L1035.8,176.9 L1035.8,176.9 L1039.0,177.4 L1039.0,177.4 L1042.2,177.8 L1042.2,177.8 L1044.8,178.1 L1044.8,178.1 L1048.3,178.6 L1048.3,178.6 L1051.5,179.0 L1051.5,179.0 L1055.3,179.4 L1055.3,179.4 L1058.1,179.7 L1058.1,179.7 L1062.2,180.2 L1062.2,180.2 L1066.0,180.6 L1066.0,180.6 L1069.2,180.9 L1069.2,180.9 L1071.7,181.1 L1071.7,181.1 L1074.8,181.4 L1074.8,181.4 L1077.3,181.6 L1077.3,181.6 L1080.8,181.9 L1080.8,181.9 L1084.4,182.2 L1084.4,182.2 L1087.8,182.4 L1087.8,182.4 L1092.0,182.6 L1092.0,182.6 L1094.2,182.7 L1094.2,182.7 L1097.9,182.9 L1097.9,182.9 L1101.7,183.1 L1101.7,183.1 L1104.1,183.3 L1104.1,183.3 L1106.9,183.4 L1106.9,183.4 L1109.3,183.5 L1109.3,183.5 L1112.6,183.7 L1112.6,183.7 L1116.3,183.8 L1116.3,183.8 L1119.2,184.0 L1119.2,184.4 L1122.8,184.4 L1122.8,184.5 L1125.7,184.5 L1125.7,185.1 L1129.3,185.1 L1129.3,184.6 L1132.1,184.6 L1132.1,185.2 L1136.2,185.2 L1136.2,185.2 L1139.3,185.2 L1139.3,184.8 L1141.5,184.8 L1141.5,184.9 L1143.9,184.9 L1143.9,185.9 L1147.5,185.9 L1147.5,185.5 L1151.5,185.5 L1151.5,185.7 L1154.9,185.7 L1154.9,184.9 L1157.5,184.9 L1157.5,185.8 L1161.4,185.8 L1161.4,185.2 L1165.0,185.2 L1165.0,184.7 L1167.5,184.7 L1167.5,185.7 L1170.4,185.7 L1170.4,186.0 L1174.0,186.0 L1174.0,185.1 L1176.2,185.1 L1176.2,184.8 L1178.5,184.8 L1178.5,184.5 L1181.4,184.5 L1181.4,184.8 L1185.3,184.8 L1185.3,186.4 L1189.5,186.4 L1189.5,186.6 L1192.3,186.6 L1192.3,185.6 L1196.4,185.6 L1196.4,187.6 L1200.1,187.6 L1200.1,186.1 L1204.1,186.1 L1204.1,188.7 L1207.4,188.7 L1207.4,191.0 L1211.6,191.0 L1211.6,189.7 L1215.1,189.7 L1215.1,193.7 L1219.2,193.7 L1219.2,195.6 L1222.5,195.6 L1222.5,196.9 L1225.1,196.9 L1225.1,200.4 L1228.3,200.4 L1228.3,198.2 L1231.5,198.2 L1231.5,203.8 L1234.4,203.8 L1234.4,202.9 L1237.3,202.9 L1237.3,209.3 L1240.5,209.3 L1240.5,209.2 L1243.9,209.2 L1243.9,209.2 L1246.6,209.2 L1246.6,211.0 L1249.3,211.0 L1249.3,214.9 L1252.5,214.9 L1252.5,214.3 L1255.7,214.3 L1255.7,218.1 L1258.8,218.1 L1258.8,221.4 L1262.3,221.4 L1262.3,222.7 L1264.9,222.7 L1264.9,226.3 L1268.1,226.3 L1268.1,229.3 L1270.9,229.3 L1270.9,233.4 L1274.6,233.4 L1274.6,239.7 L1278.2,239.7 L1278.2,239.8 L1282.0,239.8 L1282.0,244.6 L1285.2,244.6 L1285.2,244.7 L1287.9,244.7 L1287.9,249.1 L1292.0,249.1 L1292.0,256.3 L1295.2,256.3 L1295.2,257.9 L1298.1,257.9 L1298.1,262.4 L1300.9,262.4 L1300.9,261.9 L1303.9,261.9 L1303.9,266.5 L1307.5,266.5 L1307.5,268.1 L1311.4,268.1 L1311.4,272.7 L1314.5,272.7 L1314.5,275.6 L1318.2,275.6 L1318.2,280.8 L1320.8,280.8 L1320.8,283.2 L1321.0,283.2 L1321.0,314.2 L1320.8,314.2 L1320.8,311.6 L1318.2,311.6 L1318.2,314.3 L1314.5,314.3 L1314.5,313.4 L1311.4,313.4 L1311.4,305.4 L1307.5,305.4 L1307.5,296.1 L1303.9,296.1 L1303.9,297.1 L1300.9,297.1 L1300.9,303.6 L1298.1,303.6 L1298.1,298.0 L1295.2,298.0 L1295.2,290.0 L1292.0,290.0 L1292.0,290.2 L1287.9,290.2 L1287.9,291.0 L1285.2,291.0 L1285.2,280.9 L1282.0,280.9 L1282.0,281.0 L1278.2,281.0 L1278.2,277.7 L1274.6,277.7 L1274.6,284.7 L1270.9,284.7 L1270.9,274.9 L1268.1,274.9 L1268.1,268.8 L1264.9,268.8 L1264.9,264.5 L1262.3,264.5 L1262.3,262.8 L1258.8,262.8 L1258.8,266.1 L1255.7,266.1 L1255.7,265.9 L1252.5,265.9 L1252.5,259.0 L1249.3,259.0 L1249.3,254.4 L1246.6,254.4 L1246.6,259.7 L1243.9,259.7 L1243.9,249.8 L1240.5,249.8 L1240.5,250.6 L1237.3,250.6 L1237.3,239.0 L1234.4,239.0 L1234.4,242.7 L1231.5,242.7 L1231.5,234.0 L1228.3,234.0 L1228.3,236.2 L1225.1,236.2 L1225.1,226.0 L1222.5,226.0 L1222.5,221.1 L1219.2,221.1 L1219.2,226.2 L1215.1,226.2 L1215.1,217.3 L1211.6,217.3 L1211.6,214.7 L1207.4,214.7 L1207.4,209.8 L1204.1,209.8 L1204.1,202.7 L1200.1,202.7 L1200.1,204.3 L1196.4,204.3 L1196.4,203.4 L1192.3,203.4 L1192.3,197.8 L1189.5,197.8 L1189.5,200.4 L1185.3,200.4 L1185.3,196.5 L1181.4,196.5 L1181.4,199.9 L1178.5,199.9 L1178.5,195.5 L1176.2,195.5 L1176.2,197.9 L1174.0,197.9 L1174.0,195.5 L1170.4,195.5 L1170.4,195.0 L1167.5,195.0 L1167.5,196.5 L1165.0,196.5 L1165.0,196.7 L1161.4,196.7 L1161.4,194.9 L1157.5,194.9 L1157.5,196.9 L1154.9,196.9 L1154.9,196.2 L1151.5,196.2 L1151.5,193.4 L1147.5,193.4 L1147.5,194.5 L1143.9,194.5 L1143.9,195.6 L1141.5,195.6 L1141.5,195.3 L1139.3,195.3 L1139.3,193.3 L1136.2,193.3 L1136.2,193.0 L1132.1,193.0 L1132.1,192.4 L1129.3,192.4 L1129.3,193.5 L1125.7,193.5 L1125.7,191.9 L1122.8,191.9 L1122.8,192.6 L1119.2,192.6 L1119.2,193.0 L1116.3,192.8 L1116.3,192.8 L1112.6,192.4 L1112.6,192.4 L1109.3,192.0 L1109.3,192.0 L1106.9,191.8 L1106.9,191.8 L1104.1,191.5 L1104.1,191.5 L1101.7,191.3 L1101.7,191.3 L1097.9,190.9 L1097.9,190.9 L1094.2,190.5 L1094.2,190.5 L1092.0,190.2 L1092.0,190.2 L1087.8,189.8 L1087.8,189.8 L1084.4,189.4 L1084.4,189.4 L1080.8,189.0 L1080.8,189.0 L1077.3,188.6 L1077.3,188.6 L1074.8,188.4 L1074.8,188.4 L1071.7,188.0 L1071.7,188.0 L1069.2,187.7 L1069.2,187.7 L1066.0,187.4 L1066.0,187.4 L1062.2,187.0 L1062.2,187.0 L1058.1,186.5 L1058.1,186.5 L1055.3,186.2 L1055.3,186.2 L1051.5,185.7 L1051.5,185.7 L1048.3,185.2 L1048.3,185.2 L1044.8,184.7 L1044.8,184.7 L1042.2,184.3 L1042.2,184.3 L1039.0,183.8 L1039.0,183.8 L1035.8,183.3 L1035.8,183.3 L1033.4,182.9 L1033.4,182.9 L1029.4,182.1 L1029.4,182.1 L1025.2,181.3 L1025.2,181.3 L1021.9,180.6 L1021.9,180.6 L1019.6,180.1 L1019.6,180.1 L1017.1,179.5 L1017.1,179.5 L1014.0,178.8 L1014.0,178.8 L1010.4,177.9 L1010.4,177.9 L1007.4,177.1 L1007.4,177.1 L1004.8,176.4 L1004.8,176.4 L1001.2,175.4 L1001.2,175.4 L998.5,174.7 L998.5,174.7 L995.6,173.8 L995.6,173.8 L991.5,172.6 L991.5,172.6 L987.9,171.5 L987.9,171.5 L985.5,170.7 L985.5,170.7 L982.9,169.8 L982.9,169.8 L979.9,168.8 L979.9,168.8 L977.3,167.8 L977.3,167.8 L975.1,166.9 L975.1,166.9 L971.0,165.2 L971.0,165.2 L968.7,164.1 L968.7,164.1 L965.1,162.4 L965.1,162.4 L962.1,160.9 L962.1,160.9 L958.5,159.1 L958.5,159.1 L956.0,157.8 L956.0,157.8 L952.8,156.1 L952.8,156.1 L949.1,154.2 L949.1,154.2 L945.5,152.2 L945.5,152.2 L943.1,150.8 L943.1,150.8 L940.2,149.2 L940.2,149.2 L937.0,147.5 L937.0,147.5 L934.7,146.2 L934.7,146.2 L931.2,144.3 L931.2,144.3 L928.7,142.8 L928.7,142.8 L925.2,140.7 L925.2,140.7 L921.3,138.2 L921.3,138.2 L918.9,136.7 L918.9,136.7 L916.6,135.2 L916.6,135.2 L914.0,133.5 L914.0,133.5 L911.0,131.5 L911.0,131.5 L907.4,129.1 L907.4,129.1 L903.3,126.5 L903.3,126.5 L900.5,124.7 L900.5,124.7 L897.7,122.9 L897.7,122.9 L895.2,121.3 L895.2,121.3 L892.5,119.7 L892.5,119.7 L888.4,117.3 L888.4,117.3 L885.2,115.4 L885.2,115.4 L882.4,113.9 L882.4,113.9 L879.3,112.2 L879.3,112.2 L875.8,110.2 L875.8,110.2 L873.4,108.9 L873.4,108.9 L870.6,107.4 L870.6,107.4 L868.2,106.1 L868.2,106.1 L865.9,104.9 L865.9,104.9 L863.3,103.6 L863.3,103.6 L859.9,101.8 L859.9,101.8 L855.9,99.7 L855.9,99.7 L852.7,98.1 L852.7,98.1 L849.6,96.6 L849.6,96.6 L845.7,94.7 L845.7,94.7 L842.1,93.0 L842.1,93.0 L839.5,91.8Z" fill="#f565cc" fill-rule="evenodd"/><defs><linearGradient id="sg" gradientUnits="userSpaceOnUse" x1="839.5" y1="0" x2="950" y2="0"><stop offset="0" stop-color="#d6f3f7" stop-opacity="0.7"/><stop offset="0.6" stop-color="#d6f3f7" stop-opacity="0.6"/><stop offset="1" stop-color="#d6f3f7" stop-opacity="0"/></linearGradient></defs><path d="M839.5,116.8 L841.5,117.9 L843.5,119.0 L845.5,120.0 L847.5,121.1 L849.5,122.2 L851.5,123.2 L853.5,124.3 L855.5,125.3 L857.5,126.3 L859.5,127.4 L861.5,128.4 L863.5,129.4 L865.5,130.4 L867.5,131.4 L869.5,132.4 L871.5,133.3 L873.5,134.3 L875.5,135.3 L877.5,136.2 L879.5,137.1 L881.5,138.1 L883.5,139.0 L885.5,139.9 L887.5,140.8 L889.5,141.7 L891.5,142.6 L893.5,143.5 L895.5,144.4 L897.5,145.2 L899.5,146.1 L901.5,147.0 L903.5,147.8 L905.5,148.7 L907.5,149.5 L909.5,150.3 L911.5,151.2 L913.5,152.0 L915.5,152.8 L917.5,153.6 L919.5,154.4 L921.5,155.2 L923.5,156.0 L925.5,156.7 L927.5,157.5 L929.5,158.2 L931.5,158.9 L933.5,159.7 L935.5,160.4 L937.5,161.1 L939.5,161.8 L941.5,162.5 L943.5,163.2 L945.5,163.9 L947.5,164.6 L949.5,165.3" fill="none" stroke="url(#sg)" stroke-width="1.8"/></g>
<g class="tk"><text transform="translate(124.0,401.2) scale(0.93,1)" text-anchor="end">8000</text><text transform="translate(124.0,351.1) scale(0.93,1)" text-anchor="end">10000</text><text transform="translate(124.0,301.0) scale(0.93,1)" text-anchor="end">12000</text><text transform="translate(124.0,251.0) scale(0.93,1)" text-anchor="end">14000</text><text transform="translate(124.0,200.9) scale(0.93,1)" text-anchor="end">16000</text><text transform="translate(124.0,150.9) scale(0.93,1)" text-anchor="end">18000</text><text transform="translate(124.0,100.8) scale(0.93,1)" text-anchor="end">20000</text><text transform="translate(139.0,455.2) scale(0.93,1)" text-anchor="middle">0</text><text transform="translate(235.9,455.2) scale(0.93,1)" text-anchor="middle">200</text><text transform="translate(332.8,455.2) scale(0.93,1)" text-anchor="middle">400</text><text transform="translate(429.7,455.2) scale(0.93,1)" text-anchor="middle">600</text><text transform="translate(526.6,455.2) scale(0.93,1)" text-anchor="middle">800</text><text transform="translate(623.5,455.2) scale(0.93,1)" text-anchor="middle">1000</text><text transform="translate(824.2,412.2) scale(0.93,1)" text-anchor="end">0</text><text transform="translate(824.2,353.0) scale(0.93,1)" text-anchor="end">2000</text><text transform="translate(824.2,293.8) scale(0.93,1)" text-anchor="end">4000</text><text transform="translate(824.2,234.6) scale(0.93,1)" text-anchor="end">6000</text><text transform="translate(824.2,175.4) scale(0.93,1)" text-anchor="end">8000</text><text transform="translate(824.2,116.2) scale(0.93,1)" text-anchor="end">10000</text><text transform="translate(839.0,451.4) scale(0.93,1)" text-anchor="middle">0</text><text transform="translate(935.3,451.4) scale(0.93,1)" text-anchor="middle">200</text><text transform="translate(1031.6,451.4) scale(0.93,1)" text-anchor="middle">400</text><text transform="translate(1127.9,451.4) scale(0.93,1)" text-anchor="middle">600</text><text transform="translate(1224.2,451.4) scale(0.93,1)" text-anchor="middle">800</text><text transform="translate(1320.5,451.4) scale(0.93,1)" text-anchor="middle">1000</text></g>
<text class="lab" font-size="32" transform="translate(32.2,420.5) rotate(-90)">Average Birth TL (bp)</text>
<text class="lab" font-size="32" transform="translate(741.8,420.5) rotate(-90)">Average Birth TL (bp)</text>
<text class="lab" font-size="34.5" text-anchor="middle" transform="translate(380.4,505.5) scale(0.93,1)">Year</text>
<text class="lab" font-size="34.5" text-anchor="middle" transform="translate(1078,505) scale(0.93,1)">Year</text>
<rect x="680" y="44" width="3.4" height="440" fill="#333"/>
<rect x="458.2" y="301.6" width="156.4" height="113.2" fill="#fff" stroke="#000" stroke-width="3.2"/><path d="M510.3,330.5 V386.5 H596.8" fill="none" stroke="#000" stroke-width="3"/><circle cx="524.8" cy="375.8" r="6.3" fill="#000"/><line x1="524.8" y1="375.8" x2="575" y2="342.8" stroke="#000" stroke-width="2.9"/><path d="M588.5,334.5 L571,336.8 L579.5,350 Z" fill="#000"/><text x="530.8" y="327.2" class="ib" font-size="18" transform="translate(530.8,0) scale(0.98,1) translate(-530.8,0)">PAC</text><text x="567.6" y="323.6" class="ib" font-size="10">+</text><text x="482.8" y="346" class="ib" font-size="14" text-anchor="middle">&#916;</text><text x="481.5" y="365" class="ib" font-size="15" text-anchor="middle">Child</text><text x="484.8" y="384" class="ib" font-size="15" text-anchor="middle">TL</text><text x="553.5" y="406" class="ib" font-size="16" text-anchor="middle">PAC</text>
<rect x="848.2" y="301.6" width="156.4" height="113.2" fill="#fff" stroke="#000" stroke-width="3.2"/><path d="M900.3,330.5 V386.5 H986.8" fill="none" stroke="#000" stroke-width="3"/><circle cx="973.5" cy="337.6" r="6.3" fill="#000"/><line x1="973.5" y1="337.6" x2="923.5" y2="370.5" stroke="#000" stroke-width="2.9"/><path d="M910.3,379 L919.2,364.3 L928,377 Z" fill="#000"/><text x="922.6" y="327.2" class="ib" font-size="17.2">PAC</text><text x="957.6" y="323.8" class="ib" font-size="10">&#8211;</text><text x="872.8" y="346" class="ib" font-size="14" text-anchor="middle">&#916;</text><text x="871.5" y="365" class="ib" font-size="15" text-anchor="middle">Child</text><text x="874.8" y="384" class="ib" font-size="15" text-anchor="middle">TL</text><text x="943.5" y="406" class="ib" font-size="16" text-anchor="middle">PAC</text>
</svg>
</body></html>
